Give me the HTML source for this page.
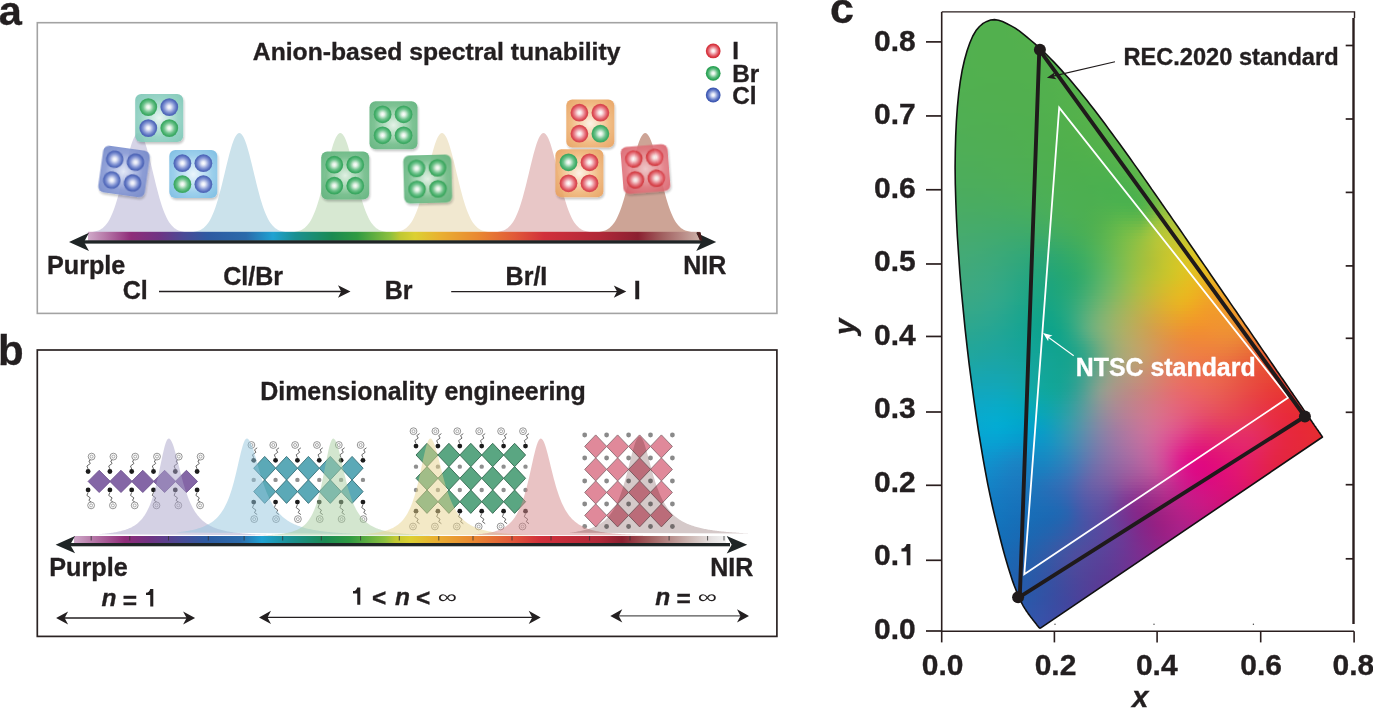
<!DOCTYPE html><html><head><meta charset="utf-8"><style>html,body{margin:0;padding:0;background:#fff;}body{width:1373px;height:708px;overflow:hidden;position:relative;}svg{position:absolute;left:0;top:0;display:block;}#cie{width:400px;height:630px;position:relative;background:#4cae5a}#cie i{position:absolute;left:0;width:400px;height:3px;display:block}</style></head><body><svg width="1373" height="708" viewBox="0 0 1373 708" font-family='"Liberation Sans", sans-serif'><defs><radialGradient id="sR" cx="50%" cy="50%" r="50%"><stop offset="0" stop-color="#ffffff"/><stop offset="0.2" stop-color="#fae4e5"/><stop offset="0.58" stop-color="#e77581"/><stop offset="0.85" stop-color="#d8363f"/><stop offset="1" stop-color="#d2303b"/></radialGradient><radialGradient id="sG" cx="50%" cy="50%" r="50%"><stop offset="0" stop-color="#ffffff"/><stop offset="0.2" stop-color="#e1f2e5"/><stop offset="0.58" stop-color="#62be83"/><stop offset="0.85" stop-color="#2ca457"/><stop offset="1" stop-color="#289c50"/></radialGradient><radialGradient id="sB" cx="50%" cy="50%" r="50%"><stop offset="0" stop-color="#ffffff"/><stop offset="0.2" stop-color="#e5e9f7"/><stop offset="0.58" stop-color="#7c8fd2"/><stop offset="0.85" stop-color="#435db6"/><stop offset="1" stop-color="#3a54ad"/></radialGradient><radialGradient id="qteal" cx="50%" cy="50%" r="72%"><stop offset="0" stop-color="#e6f5f1"/><stop offset="0.55" stop-color="#8fd1c2"/><stop offset="1" stop-color="#76c3b2"/></radialGradient><radialGradient id="qblue" cx="50%" cy="50%" r="72%"><stop offset="0" stop-color="#e2e8f7"/><stop offset="0.55" stop-color="#8698d4"/><stop offset="1" stop-color="#6c82c6"/></radialGradient><radialGradient id="qlblue" cx="50%" cy="50%" r="72%"><stop offset="0" stop-color="#eaf5fc"/><stop offset="0.55" stop-color="#92cbea"/><stop offset="1" stop-color="#6fb6e0"/></radialGradient><radialGradient id="qgreen" cx="50%" cy="50%" r="72%"><stop offset="0" stop-color="#e2f2e6"/><stop offset="0.55" stop-color="#72bd8a"/><stop offset="1" stop-color="#55ad74"/></radialGradient><radialGradient id="qorange" cx="50%" cy="50%" r="72%"><stop offset="0" stop-color="#fdf1e3"/><stop offset="0.55" stop-color="#f0b678"/><stop offset="1" stop-color="#e59a55"/></radialGradient><radialGradient id="qred" cx="50%" cy="50%" r="72%"><stop offset="0" stop-color="#f4cdd0"/><stop offset="0.55" stop-color="#e27880"/><stop offset="1" stop-color="#d65560"/></radialGradient><filter id="sh" x="-20%" y="-20%" width="150%" height="150%"><feGaussianBlur in="SourceAlpha" stdDeviation="1.2"/><feOffset dx="1" dy="1.5"/><feComponentTransfer><feFuncA type="linear" slope="0.25"/></feComponentTransfer><feMerge><feMergeNode/><feMergeNode in="SourceGraphic"/></feMerge></filter><linearGradient id="barA" gradientUnits="userSpaceOnUse" x1="88" y1="0" x2="700" y2="0"><stop offset="0.0000" stop-color="#cfa9c9"/><stop offset="0.0278" stop-color="#b77aa9"/><stop offset="0.0703" stop-color="#8f2c79"/><stop offset="0.1160" stop-color="#6f3383"/><stop offset="0.1569" stop-color="#4a4a96"/><stop offset="0.1961" stop-color="#2d5aa1"/><stop offset="0.2582" stop-color="#2b6aaa"/><stop offset="0.3023" stop-color="#1fa2d2"/><stop offset="0.3382" stop-color="#1a9092"/><stop offset="0.3987" stop-color="#1a8a52"/><stop offset="0.4395" stop-color="#2f9a42"/><stop offset="0.4935" stop-color="#8cc03f"/><stop offset="0.5098" stop-color="#c0c832"/><stop offset="0.5343" stop-color="#dcd032"/><stop offset="0.5752" stop-color="#e9b031"/><stop offset="0.6356" stop-color="#e98931"/><stop offset="0.6961" stop-color="#e15a39"/><stop offset="0.7451" stop-color="#d1303b"/><stop offset="0.8366" stop-color="#b02838"/><stop offset="0.8987" stop-color="#8b2030"/><stop offset="0.9379" stop-color="#a15f5f"/><stop offset="1.0000" stop-color="#cdb0a8"/></linearGradient><linearGradient id="barB" gradientUnits="userSpaceOnUse" x1="74" y1="0" x2="726" y2="0"><stop offset="0.0000" stop-color="#cfa9c9"/><stop offset="0.0276" stop-color="#b77aa9"/><stop offset="0.0782" stop-color="#8f2c79"/><stop offset="0.1166" stop-color="#6f3383"/><stop offset="0.1626" stop-color="#4a4a96"/><stop offset="0.2025" stop-color="#2d5aa1"/><stop offset="0.2546" stop-color="#2b6aaa"/><stop offset="0.2883" stop-color="#1fa2d2"/><stop offset="0.3313" stop-color="#1a9092"/><stop offset="0.3850" stop-color="#1a8a52"/><stop offset="0.4233" stop-color="#2f9a42"/><stop offset="0.4770" stop-color="#8cc03f"/><stop offset="0.4923" stop-color="#c0c832"/><stop offset="0.5153" stop-color="#dcd032"/><stop offset="0.5537" stop-color="#e9b031"/><stop offset="0.6104" stop-color="#e98931"/><stop offset="0.6687" stop-color="#e15a39"/><stop offset="0.7147" stop-color="#d1303b"/><stop offset="0.8067" stop-color="#b02838"/><stop offset="0.8405" stop-color="#8b2030"/><stop offset="0.8834" stop-color="#a15f5f"/><stop offset="0.9448" stop-color="#cdb8b4"/><stop offset="0.9785" stop-color="#e6e2e2"/><stop offset="1.0000" stop-color="#f2f2f2"/></linearGradient><clipPath id="lc"><path d="M1040.8,627.9 L1040.6,628.0 L1040.5,628.0 L1040.2,628.1 L1040.0,628.1 L1039.8,628.1 L1039.6,628.0 L1039.4,627.9 L1039.2,627.7 L1039.0,627.5 L1038.9,627.3 L1038.7,627.2 L1038.6,627.0 L1038.5,626.9 L1038.3,626.7 L1038.2,626.5 L1038.0,626.3 L1037.8,626.1 L1037.6,625.8 L1037.4,625.6 L1037.2,625.3 L1036.9,625.0 L1036.7,624.7 L1036.5,624.3 L1036.2,624.0 L1035.9,623.6 L1035.6,623.2 L1035.3,622.8 L1035.0,622.4 L1034.6,622.0 L1034.3,621.5 L1033.8,621.0 L1033.4,620.4 L1033.0,619.9 L1032.5,619.3 L1032.0,618.6 L1031.5,618.0 L1030.9,617.3 L1030.4,616.6 L1029.8,615.8 L1029.2,614.9 L1028.5,614.1 L1027.9,613.1 L1027.2,612.1 L1026.4,611.0 L1025.7,609.8 L1024.9,608.6 L1024.1,607.3 L1023.2,605.8 L1022.3,604.2 L1021.4,602.3 L1020.4,600.2 L1019.3,597.9 L1018.1,595.3 L1016.9,592.4 L1015.7,589.2 L1014.3,585.7 L1012.9,581.9 L1011.5,577.7 L1010.0,573.1 L1008.4,567.9 L1006.7,562.3 L1004.9,556.1 L1003.1,549.5 L1001.2,542.2 L999.2,534.3 L997.1,525.6 L994.8,516.4 L992.5,506.5 L990.2,495.9 L987.8,484.4 L985.5,472.1 L983.1,458.9 L980.8,445.0 L978.4,430.5 L976.1,415.2 L973.8,399.1 L971.5,382.2 L969.2,364.7 L967.1,346.8 L965.1,328.9 L963.3,310.7 L961.5,292.1 L959.9,273.4 L958.6,254.8 L957.4,236.7 L956.5,218.9 L955.8,201.3 L955.3,184.0 L955.1,167.3 L955.3,151.3 L955.7,135.9 L956.4,121.0 L957.4,106.8 L958.7,93.5 L960.3,81.3 L962.2,70.2 L964.5,60.0 L967.1,50.8 L969.9,42.8 L972.8,36.0 L976.0,30.6 L979.5,26.5 L983.1,23.4 L986.8,21.4 L990.6,20.0 L994.5,19.6 L998.5,20.2 L1002.5,21.6 L1006.6,23.5 L1010.7,25.6 L1014.8,27.9 L1018.9,30.7 L1023.0,33.9 L1027.0,37.2 L1031.0,40.5 L1035.0,43.8 L1038.8,47.3 L1042.7,50.9 L1046.5,54.5 L1050.2,58.3 L1054.0,62.1 L1057.7,66.1 L1061.4,70.1 L1065.0,74.2 L1068.7,78.3 L1072.3,82.6 L1076.0,86.9 L1079.6,91.3 L1083.2,95.8 L1086.9,100.3 L1090.5,104.9 L1094.1,109.6 L1097.7,114.3 L1101.3,119.0 L1104.9,123.8 L1108.4,128.6 L1112.0,133.5 L1115.6,138.4 L1119.2,143.3 L1122.8,148.3 L1126.4,153.3 L1130.0,158.3 L1133.6,163.4 L1137.2,168.4 L1140.8,173.5 L1144.4,178.6 L1148.0,183.7 L1151.5,188.9 L1155.1,194.0 L1158.7,199.1 L1162.2,204.3 L1165.8,209.4 L1169.4,214.5 L1172.9,219.6 L1176.5,224.7 L1180.0,229.8 L1183.5,234.9 L1187.0,240.0 L1190.4,245.0 L1193.9,250.0 L1197.3,255.0 L1200.7,260.0 L1204.1,264.9 L1207.5,269.8 L1210.8,274.7 L1214.1,279.5 L1217.4,284.3 L1220.7,289.0 L1223.9,293.7 L1227.1,298.3 L1230.2,302.9 L1233.3,307.4 L1236.4,311.8 L1239.4,316.2 L1242.3,320.4 L1245.2,324.7 L1248.1,328.8 L1250.9,332.9 L1253.6,336.9 L1256.3,340.8 L1258.8,344.5 L1261.3,348.1 L1263.7,351.6 L1266.1,355.0 L1268.4,358.4 L1270.6,361.6 L1272.8,364.8 L1275.0,368.0 L1277.0,371.0 L1279.0,373.8 L1280.9,376.6 L1282.8,379.3 L1284.5,381.8 L1286.2,384.2 L1287.9,386.6 L1289.4,388.9 L1290.9,391.1 L1292.4,393.2 L1293.7,395.2 L1295.1,397.1 L1296.3,398.9 L1297.5,400.7 L1298.6,402.3 L1299.7,403.9 L1300.8,405.5 L1301.8,406.9 L1302.7,408.3 L1303.6,409.6 L1304.5,410.9 L1305.4,412.1 L1306.2,413.2 L1306.9,414.3 L1307.6,415.4 L1308.3,416.4 L1309.0,417.4 L1309.7,418.4 L1310.3,419.3 L1310.9,420.2 L1311.5,421.1 L1312.1,421.9 L1312.6,422.7 L1313.2,423.5 L1313.7,424.2 L1314.1,424.9 L1314.6,425.6 L1315.0,426.2 L1315.5,426.8 L1315.9,427.4 L1316.2,427.9 L1316.6,428.4 L1316.9,428.9 L1317.3,429.4 L1317.6,429.8 L1317.8,430.2 L1318.1,430.6 L1318.4,431.0 L1318.6,431.4 L1318.8,431.7 L1319.1,432.0 L1319.3,432.3 L1319.5,432.6 L1319.6,432.8 L1319.8,433.1 L1319.9,433.3 L1320.1,433.6 L1320.3,433.8 L1320.5,434.1 L1320.7,434.5 L1320.9,434.8 L1321.1,435.0 L1321.3,435.3 L1321.4,435.5 L1321.6,435.7 L1321.7,435.9 L1321.8,436.0 L1322.0,436.3 L1322.1,436.5 L1322.3,436.7 L1322.4,436.9 L1322.5,437.0Z"/></clipPath></defs><rect x="37.3" y="22.7" width="739.6" height="290.7" fill="none" stroke="#a3a3a3" stroke-width="1.6"/><text x="-1.2" y="25.3" font-size="41.5" font-weight="bold" fill="#231f20" text-anchor="start" stroke="#231f20" stroke-width="0.35">a</text><text x="252.8" y="60" font-size="24.7" font-weight="bold" fill="#231f20" text-anchor="start" stroke="#231f20" stroke-width="0.35">Anion-based spectral tunability</text><circle cx="713.2" cy="50.9" r="7.4" fill="url(#sR)"/><text x="732.2" y="58.8" font-size="24.3" font-weight="bold" fill="#231f20" text-anchor="start" stroke="#231f20" stroke-width="0.35">I</text><circle cx="713.2" cy="73.3" r="7.4" fill="url(#sG)"/><text x="732.2" y="81.8" font-size="24.3" font-weight="bold" fill="#231f20" text-anchor="start" stroke="#231f20" stroke-width="0.35">Br</text><circle cx="713.2" cy="95" r="7.4" fill="url(#sB)"/><text x="732.2" y="104" font-size="24.3" font-weight="bold" fill="#231f20" text-anchor="start" stroke="#231f20" stroke-width="0.35">Cl</text><polygon points="78.5,232.48 79.5,232.48 80.5,232.47 81.5,232.46 82.5,232.45 83.5,232.43 84.5,232.41 85.5,232.39 86.5,232.35 87.5,232.31 88.5,232.26 89.5,232.2 90.5,232.12 91.5,232.02 92.5,231.89 93.5,231.75 94.5,231.57 95.5,231.35 96.5,231.09 97.5,230.77 98.5,230.4 99.5,229.96 100.5,229.44 101.5,228.83 102.5,228.13 103.5,227.31 104.5,226.37 105.5,225.3 106.5,224.08 107.5,222.69 108.5,221.14 109.5,219.4 110.5,217.47 111.5,215.34 112.5,213.01 113.5,210.45 114.5,207.69 115.5,204.71 116.5,201.53 117.5,198.14 118.5,194.57 119.5,190.83 120.5,186.95 121.5,182.93 122.5,178.83 123.5,174.66 124.5,170.47 125.5,166.3 126.5,162.19 127.5,158.18 128.5,154.32 129.5,150.65 130.5,147.23 131.5,144.09 132.5,141.27 133.5,138.82 134.5,136.77 135.5,135.14 136.5,133.96 137.5,133.24 138.5,133 139.5,133.24 140.5,133.96 141.5,135.14 142.5,136.77 143.5,138.82 144.5,141.27 145.5,144.09 146.5,147.23 147.5,150.65 148.5,154.32 149.5,158.18 150.5,162.19 151.5,166.3 152.5,170.47 153.5,174.66 154.5,178.83 155.5,182.93 156.5,186.95 157.5,190.83 158.5,194.57 159.5,198.14 160.5,201.53 161.5,204.71 162.5,207.69 163.5,210.45 164.5,213.01 165.5,215.34 166.5,217.47 167.5,219.4 168.5,221.14 169.5,222.69 170.5,224.08 171.5,225.3 172.5,226.37 173.5,227.31 174.5,228.13 175.5,228.83 176.5,229.44 177.5,229.96 178.5,230.4 179.5,230.77 180.5,231.09 181.5,231.35 182.5,231.57 183.5,231.75 184.5,231.89 185.5,232.02 186.5,232.12 187.5,232.2 188.5,232.26 189.5,232.31 190.5,232.35 191.5,232.39 192.5,232.41 193.5,232.43 194.5,232.45 195.5,232.46 196.5,232.47 197.5,232.48 198.5,232.48" fill="#d6d4e7"/><polygon points="179.3,232.48 180.3,232.48 181.3,232.47 182.3,232.46 183.3,232.45 184.3,232.43 185.3,232.41 186.3,232.39 187.3,232.35 188.3,232.31 189.3,232.26 190.3,232.2 191.3,232.12 192.3,232.02 193.3,231.89 194.3,231.75 195.3,231.57 196.3,231.35 197.3,231.09 198.3,230.77 199.3,230.4 200.3,229.96 201.3,229.44 202.3,228.83 203.3,228.13 204.3,227.31 205.3,226.37 206.3,225.3 207.3,224.08 208.3,222.69 209.3,221.14 210.3,219.4 211.3,217.47 212.3,215.34 213.3,213.01 214.3,210.45 215.3,207.69 216.3,204.71 217.3,201.53 218.3,198.14 219.3,194.57 220.3,190.83 221.3,186.95 222.3,182.93 223.3,178.83 224.3,174.66 225.3,170.47 226.3,166.3 227.3,162.19 228.3,158.18 229.3,154.32 230.3,150.65 231.3,147.23 232.3,144.09 233.3,141.27 234.3,138.82 235.3,136.77 236.3,135.14 237.3,133.96 238.3,133.24 239.3,133 240.3,133.24 241.3,133.96 242.3,135.14 243.3,136.77 244.3,138.82 245.3,141.27 246.3,144.09 247.3,147.23 248.3,150.65 249.3,154.32 250.3,158.18 251.3,162.19 252.3,166.3 253.3,170.47 254.3,174.66 255.3,178.83 256.3,182.93 257.3,186.95 258.3,190.83 259.3,194.57 260.3,198.14 261.3,201.53 262.3,204.71 263.3,207.69 264.3,210.45 265.3,213.01 266.3,215.34 267.3,217.47 268.3,219.4 269.3,221.14 270.3,222.69 271.3,224.08 272.3,225.3 273.3,226.37 274.3,227.31 275.3,228.13 276.3,228.83 277.3,229.44 278.3,229.96 279.3,230.4 280.3,230.77 281.3,231.09 282.3,231.35 283.3,231.57 284.3,231.75 285.3,231.89 286.3,232.02 287.3,232.12 288.3,232.2 289.3,232.26 290.3,232.31 291.3,232.35 292.3,232.39 293.3,232.41 294.3,232.43 295.3,232.45 296.3,232.46 297.3,232.47 298.3,232.48 299.3,232.48" fill="#cbe2eb"/><polygon points="280.3,232.48 281.3,232.48 282.3,232.47 283.3,232.46 284.3,232.45 285.3,232.43 286.3,232.41 287.3,232.39 288.3,232.35 289.3,232.31 290.3,232.26 291.3,232.2 292.3,232.12 293.3,232.02 294.3,231.89 295.3,231.75 296.3,231.57 297.3,231.35 298.3,231.09 299.3,230.77 300.3,230.4 301.3,229.96 302.3,229.44 303.3,228.83 304.3,228.13 305.3,227.31 306.3,226.37 307.3,225.3 308.3,224.08 309.3,222.69 310.3,221.14 311.3,219.4 312.3,217.47 313.3,215.34 314.3,213.01 315.3,210.45 316.3,207.69 317.3,204.71 318.3,201.53 319.3,198.14 320.3,194.57 321.3,190.83 322.3,186.95 323.3,182.93 324.3,178.83 325.3,174.66 326.3,170.47 327.3,166.3 328.3,162.19 329.3,158.18 330.3,154.32 331.3,150.65 332.3,147.23 333.3,144.09 334.3,141.27 335.3,138.82 336.3,136.77 337.3,135.14 338.3,133.96 339.3,133.24 340.3,133 341.3,133.24 342.3,133.96 343.3,135.14 344.3,136.77 345.3,138.82 346.3,141.27 347.3,144.09 348.3,147.23 349.3,150.65 350.3,154.32 351.3,158.18 352.3,162.19 353.3,166.3 354.3,170.47 355.3,174.66 356.3,178.83 357.3,182.93 358.3,186.95 359.3,190.83 360.3,194.57 361.3,198.14 362.3,201.53 363.3,204.71 364.3,207.69 365.3,210.45 366.3,213.01 367.3,215.34 368.3,217.47 369.3,219.4 370.3,221.14 371.3,222.69 372.3,224.08 373.3,225.3 374.3,226.37 375.3,227.31 376.3,228.13 377.3,228.83 378.3,229.44 379.3,229.96 380.3,230.4 381.3,230.77 382.3,231.09 383.3,231.35 384.3,231.57 385.3,231.75 386.3,231.89 387.3,232.02 388.3,232.12 389.3,232.2 390.3,232.26 391.3,232.31 392.3,232.35 393.3,232.39 394.3,232.41 395.3,232.43 396.3,232.45 397.3,232.46 398.3,232.47 399.3,232.48 400.3,232.48" fill="#d7e8d2"/><polygon points="382,232.48 383,232.48 384,232.47 385,232.46 386,232.45 387,232.43 388,232.41 389,232.39 390,232.35 391,232.31 392,232.26 393,232.2 394,232.12 395,232.02 396,231.89 397,231.75 398,231.57 399,231.35 400,231.09 401,230.77 402,230.4 403,229.96 404,229.44 405,228.83 406,228.13 407,227.31 408,226.37 409,225.3 410,224.08 411,222.69 412,221.14 413,219.4 414,217.47 415,215.34 416,213.01 417,210.45 418,207.69 419,204.71 420,201.53 421,198.14 422,194.57 423,190.83 424,186.95 425,182.93 426,178.83 427,174.66 428,170.47 429,166.3 430,162.19 431,158.18 432,154.32 433,150.65 434,147.23 435,144.09 436,141.27 437,138.82 438,136.77 439,135.14 440,133.96 441,133.24 442,133 443,133.24 444,133.96 445,135.14 446,136.77 447,138.82 448,141.27 449,144.09 450,147.23 451,150.65 452,154.32 453,158.18 454,162.19 455,166.3 456,170.47 457,174.66 458,178.83 459,182.93 460,186.95 461,190.83 462,194.57 463,198.14 464,201.53 465,204.71 466,207.69 467,210.45 468,213.01 469,215.34 470,217.47 471,219.4 472,221.14 473,222.69 474,224.08 475,225.3 476,226.37 477,227.31 478,228.13 479,228.83 480,229.44 481,229.96 482,230.4 483,230.77 484,231.09 485,231.35 486,231.57 487,231.75 488,231.89 489,232.02 490,232.12 491,232.2 492,232.26 493,232.31 494,232.35 495,232.39 496,232.41 497,232.43 498,232.45 499,232.46 500,232.47 501,232.48 502,232.48" fill="#f1e8d0"/><polygon points="483.5,232.48 484.5,232.48 485.5,232.47 486.5,232.46 487.5,232.45 488.5,232.43 489.5,232.41 490.5,232.39 491.5,232.35 492.5,232.31 493.5,232.26 494.5,232.2 495.5,232.12 496.5,232.02 497.5,231.89 498.5,231.75 499.5,231.57 500.5,231.35 501.5,231.09 502.5,230.77 503.5,230.4 504.5,229.96 505.5,229.44 506.5,228.83 507.5,228.13 508.5,227.31 509.5,226.37 510.5,225.3 511.5,224.08 512.5,222.69 513.5,221.14 514.5,219.4 515.5,217.47 516.5,215.34 517.5,213.01 518.5,210.45 519.5,207.69 520.5,204.71 521.5,201.53 522.5,198.14 523.5,194.57 524.5,190.83 525.5,186.95 526.5,182.93 527.5,178.83 528.5,174.66 529.5,170.47 530.5,166.3 531.5,162.19 532.5,158.18 533.5,154.32 534.5,150.65 535.5,147.23 536.5,144.09 537.5,141.27 538.5,138.82 539.5,136.77 540.5,135.14 541.5,133.96 542.5,133.24 543.5,133 544.5,133.24 545.5,133.96 546.5,135.14 547.5,136.77 548.5,138.82 549.5,141.27 550.5,144.09 551.5,147.23 552.5,150.65 553.5,154.32 554.5,158.18 555.5,162.19 556.5,166.3 557.5,170.47 558.5,174.66 559.5,178.83 560.5,182.93 561.5,186.95 562.5,190.83 563.5,194.57 564.5,198.14 565.5,201.53 566.5,204.71 567.5,207.69 568.5,210.45 569.5,213.01 570.5,215.34 571.5,217.47 572.5,219.4 573.5,221.14 574.5,222.69 575.5,224.08 576.5,225.3 577.5,226.37 578.5,227.31 579.5,228.13 580.5,228.83 581.5,229.44 582.5,229.96 583.5,230.4 584.5,230.77 585.5,231.09 586.5,231.35 587.5,231.57 588.5,231.75 589.5,231.89 590.5,232.02 591.5,232.12 592.5,232.2 593.5,232.26 594.5,232.31 595.5,232.35 596.5,232.39 597.5,232.41 598.5,232.43 599.5,232.45 600.5,232.46 601.5,232.47 602.5,232.48 603.5,232.48" fill="#e8c7c7"/><polygon points="585.2,232.48 586.2,232.48 587.2,232.47 588.2,232.46 589.2,232.45 590.2,232.43 591.2,232.41 592.2,232.39 593.2,232.35 594.2,232.31 595.2,232.26 596.2,232.2 597.2,232.12 598.2,232.02 599.2,231.89 600.2,231.75 601.2,231.57 602.2,231.35 603.2,231.09 604.2,230.77 605.2,230.4 606.2,229.96 607.2,229.44 608.2,228.83 609.2,228.13 610.2,227.31 611.2,226.37 612.2,225.3 613.2,224.08 614.2,222.69 615.2,221.14 616.2,219.4 617.2,217.47 618.2,215.34 619.2,213.01 620.2,210.45 621.2,207.69 622.2,204.71 623.2,201.53 624.2,198.14 625.2,194.57 626.2,190.83 627.2,186.95 628.2,182.93 629.2,178.83 630.2,174.66 631.2,170.47 632.2,166.3 633.2,162.19 634.2,158.18 635.2,154.32 636.2,150.65 637.2,147.23 638.2,144.09 639.2,141.27 640.2,138.82 641.2,136.77 642.2,135.14 643.2,133.96 644.2,133.24 645.2,133 646.2,133.24 647.2,133.96 648.2,135.14 649.2,136.77 650.2,138.82 651.2,141.27 652.2,144.09 653.2,147.23 654.2,150.65 655.2,154.32 656.2,158.18 657.2,162.19 658.2,166.3 659.2,170.47 660.2,174.66 661.2,178.83 662.2,182.93 663.2,186.95 664.2,190.83 665.2,194.57 666.2,198.14 667.2,201.53 668.2,204.71 669.2,207.69 670.2,210.45 671.2,213.01 672.2,215.34 673.2,217.47 674.2,219.4 675.2,221.14 676.2,222.69 677.2,224.08 678.2,225.3 679.2,226.37 680.2,227.31 681.2,228.13 682.2,228.83 683.2,229.44 684.2,229.96 685.2,230.4 686.2,230.77 687.2,231.09 688.2,231.35 689.2,231.57 690.2,231.75 691.2,231.89 692.2,232.02 693.2,232.12 694.2,232.2 695.2,232.26 696.2,232.31 697.2,232.35 698.2,232.39 699.2,232.41 700.2,232.43 701.2,232.45 702.2,232.46 703.2,232.47 704.2,232.48 705.2,232.48" fill="#cda496"/><g opacity="0.9" filter="url(#sh)"><rect x="135.2" y="94" width="48" height="48" rx="6" fill="url(#qteal)"/><circle cx="148.3" cy="107.1" r="8.9" fill="url(#sG)"/><circle cx="169.3" cy="107.1" r="8.9" fill="url(#sB)"/><circle cx="148.3" cy="128.1" r="8.9" fill="url(#sB)"/><circle cx="169.3" cy="128.1" r="8.9" fill="url(#sG)"/></g><g transform="rotate(8 124.0 171.6)" opacity="0.9" filter="url(#sh)"><rect x="100.5" y="148.1" width="47" height="47" rx="6" fill="url(#qblue)"/><circle cx="113.1" cy="160.7" r="8.9" fill="url(#sB)"/><circle cx="134.1" cy="160.7" r="8.9" fill="url(#sB)"/><circle cx="113.1" cy="181.7" r="8.9" fill="url(#sB)"/><circle cx="134.1" cy="181.7" r="8.9" fill="url(#sB)"/></g><g opacity="0.9" filter="url(#sh)"><rect x="169.3" y="150.1" width="48" height="48" rx="6" fill="url(#qlblue)"/><circle cx="182.4" cy="163.2" r="8.9" fill="url(#sB)"/><circle cx="203.4" cy="163.2" r="8.9" fill="url(#sB)"/><circle cx="182.4" cy="184.2" r="8.9" fill="url(#sG)"/><circle cx="203.4" cy="184.2" r="8.9" fill="url(#sB)"/></g><g opacity="0.9" filter="url(#sh)"><rect x="321.2" y="151.6" width="48" height="48" rx="6" fill="url(#qgreen)"/><circle cx="334.3" cy="164.7" r="8.9" fill="url(#sG)"/><circle cx="355.3" cy="164.7" r="8.9" fill="url(#sG)"/><circle cx="334.3" cy="185.7" r="8.9" fill="url(#sG)"/><circle cx="355.3" cy="185.7" r="8.9" fill="url(#sG)"/></g><g opacity="0.9" filter="url(#sh)"><rect x="369.5" y="101.2" width="48" height="48" rx="6" fill="url(#qgreen)"/><circle cx="382.6" cy="114.3" r="8.9" fill="url(#sG)"/><circle cx="403.6" cy="114.3" r="8.9" fill="url(#sG)"/><circle cx="382.6" cy="135.3" r="8.9" fill="url(#sG)"/><circle cx="403.6" cy="135.3" r="8.9" fill="url(#sG)"/></g><g transform="rotate(-1.5 427.7 179.0)" opacity="0.9" filter="url(#sh)"><rect x="403.7" y="155" width="48" height="48" rx="6" fill="url(#qgreen)"/><circle cx="416.8" cy="168.1" r="8.9" fill="url(#sG)"/><circle cx="437.8" cy="168.1" r="8.9" fill="url(#sG)"/><circle cx="416.8" cy="189.1" r="8.9" fill="url(#sG)"/><circle cx="437.8" cy="189.1" r="8.9" fill="url(#sG)"/></g><g opacity="0.9" filter="url(#sh)"><rect x="566.3" y="99.6" width="48" height="48" rx="6" fill="url(#qorange)"/><circle cx="579.4" cy="112.7" r="8.9" fill="url(#sR)"/><circle cx="600.4" cy="112.7" r="8.9" fill="url(#sR)"/><circle cx="579.4" cy="133.7" r="8.9" fill="url(#sR)"/><circle cx="600.4" cy="133.7" r="8.9" fill="url(#sG)"/></g><g opacity="0.9" filter="url(#sh)"><rect x="555.4" y="149.2" width="48" height="48" rx="6" fill="url(#qorange)"/><circle cx="568.5" cy="162.3" r="8.9" fill="url(#sG)"/><circle cx="589.5" cy="162.3" r="8.9" fill="url(#sR)"/><circle cx="568.5" cy="183.3" r="8.9" fill="url(#sR)"/><circle cx="589.5" cy="183.3" r="8.9" fill="url(#sR)"/></g><g transform="rotate(-4.5 645.5 169.0)" opacity="0.88" filter="url(#sh)"><rect x="622" y="145.5" width="47" height="47" rx="6" fill="url(#qred)"/><circle cx="634.6" cy="158.1" r="8.9" fill="url(#sR)"/><circle cx="655.6" cy="158.1" r="8.9" fill="url(#sR)"/><circle cx="634.6" cy="179.1" r="8.9" fill="url(#sR)"/><circle cx="655.6" cy="179.1" r="8.9" fill="url(#sR)"/></g><rect x="88" y="231.8" width="612" height="9" fill="url(#barA)"/><rect x="82" y="240.3" width="620" height="3.3" fill="#1f2526"/><path d="M69,241.9 L89,232.7 L84,241.9 L89,251.1Z" fill="#1f2526"/><path d="M716.2,241.9 L696.2,251.1 L701.2,241.9 L696.2,232.7Z" fill="#1f2526"/><path d="M696.6,232 L700.6,232.3 L702.2,240.4 L699.8,240.4Z" fill="#4a1c1c"/><text x="47.0" y="274.3" font-size="25.2" font-weight="bold" fill="#231f20" text-anchor="start" stroke="#231f20" stroke-width="0.35">Purple</text><text x="683.2" y="274.1" font-size="25.0" font-weight="bold" fill="#231f20" text-anchor="start" stroke="#231f20" stroke-width="0.35">NIR</text><text x="122.8" y="298.7" font-size="25.0" font-weight="bold" fill="#231f20" text-anchor="start" stroke="#231f20" stroke-width="0.35">Cl</text><text x="223.3" y="285" font-size="25.0" font-weight="bold" fill="#231f20" text-anchor="start" stroke="#231f20" stroke-width="0.35">Cl/Br</text><text x="384.8" y="298.5" font-size="25.0" font-weight="bold" fill="#231f20" text-anchor="start" stroke="#231f20" stroke-width="0.35">Br</text><text x="505.6" y="284.5" font-size="25.0" font-weight="bold" fill="#231f20" text-anchor="start" stroke="#231f20" stroke-width="0.35">Br/I</text><text x="633.7" y="298.6" font-size="25.0" font-weight="bold" fill="#231f20" text-anchor="start" stroke="#231f20" stroke-width="0.35">I</text><line x1="159" y1="291.5" x2="342" y2="291.5" stroke="#231f20" stroke-width="1.3"/><path d="M350.5,291.5 L338,297.7 L341.2,291.5 L338,285.3Z" fill="#231f20"/><line x1="451.2" y1="291.6" x2="618" y2="291.6" stroke="#231f20" stroke-width="1.3"/><path d="M626.3,291.6 L613.8,297.8 L617,291.6 L613.8,285.4Z" fill="#231f20"/><rect x="37.3" y="350" width="739.6" height="286.4" fill="none" stroke="#2b2323" stroke-width="1.7"/><text x="-2.0" y="364.6" font-size="42" font-weight="bold" fill="#231f20" text-anchor="start" stroke="#231f20" stroke-width="0.35">b</text><text x="260.2" y="400.1" font-size="24.95" font-weight="bold" fill="#231f20" text-anchor="start" stroke="#231f20" stroke-width="0.35">Dimensionality engineering</text><path d="M88.1,481.4 L99.2,470.3 L110.3,481.4 L99.2,492.5Z" fill="#8466a6" stroke="#6e5490" stroke-width="0.9"/><path d="M109.9,481.4 L121,470.3 L132.1,481.4 L121,492.5Z" fill="#8466a6" stroke="#6e5490" stroke-width="0.9"/><path d="M131.7,481.4 L142.8,470.3 L153.9,481.4 L142.8,492.5Z" fill="#8466a6" stroke="#6e5490" stroke-width="0.9"/><path d="M153.5,481.4 L164.6,470.3 L175.7,481.4 L164.6,492.5Z" fill="#8466a6" stroke="#6e5490" stroke-width="0.9"/><path d="M175.3,481.4 L186.4,470.3 L197.5,481.4 L186.4,492.5Z" fill="#8466a6" stroke="#6e5490" stroke-width="0.9"/><circle cx="88.1" cy="471.5" r="2.4" fill="#1c1c1c"/><circle cx="88.1" cy="489.9" r="2.4" fill="#1c1c1c"/><path d="M88.1,469 L86.9,466 L90.3,463.5 L88.9,461 L91.6,459" fill="none" stroke="#444" stroke-width="0.8"/><path d="M88.1,492.4 L86.9,495.4 L90.3,497.9 L88.9,500.4 L91.6,502.4" fill="none" stroke="#444" stroke-width="0.8"/><circle cx="91.6" cy="456.6" r="3.4" fill="#fff" stroke="#7a7a7a" stroke-width="0.8"/><circle cx="91.6" cy="456.6" r="1.5" fill="none" stroke="#8a8a8a" stroke-width="0.7"/><circle cx="91.1" cy="505.4" r="3.4" fill="#fff" stroke="#7a7a7a" stroke-width="0.8"/><circle cx="91.1" cy="505.4" r="1.5" fill="none" stroke="#8a8a8a" stroke-width="0.7"/><circle cx="109.9" cy="471.5" r="2.4" fill="#1c1c1c"/><circle cx="109.9" cy="489.9" r="2.4" fill="#1c1c1c"/><path d="M109.9,469 L108.7,466 L112.1,463.5 L110.7,461 L113.4,459" fill="none" stroke="#444" stroke-width="0.8"/><path d="M109.9,492.4 L108.7,495.4 L112.1,497.9 L110.7,500.4 L113.4,502.4" fill="none" stroke="#444" stroke-width="0.8"/><circle cx="113.4" cy="456.6" r="3.4" fill="#fff" stroke="#7a7a7a" stroke-width="0.8"/><circle cx="113.4" cy="456.6" r="1.5" fill="none" stroke="#8a8a8a" stroke-width="0.7"/><circle cx="112.9" cy="505.4" r="3.4" fill="#fff" stroke="#7a7a7a" stroke-width="0.8"/><circle cx="112.9" cy="505.4" r="1.5" fill="none" stroke="#8a8a8a" stroke-width="0.7"/><circle cx="131.7" cy="471.5" r="2.4" fill="#1c1c1c"/><circle cx="131.7" cy="489.9" r="2.4" fill="#1c1c1c"/><path d="M131.7,469 L130.5,466 L133.9,463.5 L132.5,461 L135.2,459" fill="none" stroke="#444" stroke-width="0.8"/><path d="M131.7,492.4 L130.5,495.4 L133.9,497.9 L132.5,500.4 L135.2,502.4" fill="none" stroke="#444" stroke-width="0.8"/><circle cx="135.2" cy="456.6" r="3.4" fill="#fff" stroke="#7a7a7a" stroke-width="0.8"/><circle cx="135.2" cy="456.6" r="1.5" fill="none" stroke="#8a8a8a" stroke-width="0.7"/><circle cx="134.7" cy="505.4" r="3.4" fill="#fff" stroke="#7a7a7a" stroke-width="0.8"/><circle cx="134.7" cy="505.4" r="1.5" fill="none" stroke="#8a8a8a" stroke-width="0.7"/><circle cx="153.5" cy="471.5" r="2.4" fill="#1c1c1c"/><circle cx="153.5" cy="489.9" r="2.4" fill="#1c1c1c"/><path d="M153.5,469 L152.3,466 L155.7,463.5 L154.3,461 L157,459" fill="none" stroke="#444" stroke-width="0.8"/><path d="M153.5,492.4 L152.3,495.4 L155.7,497.9 L154.3,500.4 L157,502.4" fill="none" stroke="#444" stroke-width="0.8"/><circle cx="157" cy="456.6" r="3.4" fill="#fff" stroke="#7a7a7a" stroke-width="0.8"/><circle cx="157" cy="456.6" r="1.5" fill="none" stroke="#8a8a8a" stroke-width="0.7"/><circle cx="156.5" cy="505.4" r="3.4" fill="#fff" stroke="#7a7a7a" stroke-width="0.8"/><circle cx="156.5" cy="505.4" r="1.5" fill="none" stroke="#8a8a8a" stroke-width="0.7"/><circle cx="175.3" cy="471.5" r="2.4" fill="#1c1c1c"/><circle cx="175.3" cy="489.9" r="2.4" fill="#1c1c1c"/><path d="M175.3,469 L174.1,466 L177.5,463.5 L176.1,461 L178.8,459" fill="none" stroke="#444" stroke-width="0.8"/><path d="M175.3,492.4 L174.1,495.4 L177.5,497.9 L176.1,500.4 L178.8,502.4" fill="none" stroke="#444" stroke-width="0.8"/><circle cx="178.8" cy="456.6" r="3.4" fill="#fff" stroke="#7a7a7a" stroke-width="0.8"/><circle cx="178.8" cy="456.6" r="1.5" fill="none" stroke="#8a8a8a" stroke-width="0.7"/><circle cx="178.3" cy="505.4" r="3.4" fill="#fff" stroke="#7a7a7a" stroke-width="0.8"/><circle cx="178.3" cy="505.4" r="1.5" fill="none" stroke="#8a8a8a" stroke-width="0.7"/><circle cx="197.1" cy="471.5" r="2.4" fill="#1c1c1c"/><circle cx="197.1" cy="489.9" r="2.4" fill="#1c1c1c"/><path d="M197.1,469 L195.9,466 L199.3,463.5 L197.9,461 L200.6,459" fill="none" stroke="#444" stroke-width="0.8"/><path d="M197.1,492.4 L195.9,495.4 L199.3,497.9 L197.9,500.4 L200.6,502.4" fill="none" stroke="#444" stroke-width="0.8"/><circle cx="200.6" cy="456.6" r="3.4" fill="#fff" stroke="#7a7a7a" stroke-width="0.8"/><circle cx="200.6" cy="456.6" r="1.5" fill="none" stroke="#8a8a8a" stroke-width="0.7"/><circle cx="200.1" cy="505.4" r="3.4" fill="#fff" stroke="#7a7a7a" stroke-width="0.8"/><circle cx="200.1" cy="505.4" r="1.5" fill="none" stroke="#8a8a8a" stroke-width="0.7"/><path d="M253.7,468.2 L264.7,456.4 L275.7,468.2 L264.7,480Z" fill="#5ba9b7" stroke="#356f78" stroke-width="0.9"/><path d="M275.55,468.2 L286.55,456.4 L297.55,468.2 L286.55,480Z" fill="#5ba9b7" stroke="#356f78" stroke-width="0.9"/><path d="M297.4,468.2 L308.4,456.4 L319.4,468.2 L308.4,480Z" fill="#5ba9b7" stroke="#356f78" stroke-width="0.9"/><path d="M319.25,468.2 L330.25,456.4 L341.25,468.2 L330.25,480Z" fill="#5ba9b7" stroke="#356f78" stroke-width="0.9"/><path d="M341.1,468.2 L352.1,456.4 L363.1,468.2 L352.1,480Z" fill="#5ba9b7" stroke="#356f78" stroke-width="0.9"/><path d="M253.7,491.6 L264.7,479.8 L275.7,491.6 L264.7,503.4Z" fill="#5ba9b7" stroke="#356f78" stroke-width="0.9"/><path d="M275.55,491.6 L286.55,479.8 L297.55,491.6 L286.55,503.4Z" fill="#5ba9b7" stroke="#356f78" stroke-width="0.9"/><path d="M297.4,491.6 L308.4,479.8 L319.4,491.6 L308.4,503.4Z" fill="#5ba9b7" stroke="#356f78" stroke-width="0.9"/><path d="M319.25,491.6 L330.25,479.8 L341.25,491.6 L330.25,503.4Z" fill="#5ba9b7" stroke="#356f78" stroke-width="0.9"/><path d="M341.1,491.6 L352.1,479.8 L363.1,491.6 L352.1,503.4Z" fill="#5ba9b7" stroke="#356f78" stroke-width="0.9"/><circle cx="253.7" cy="479.9" r="2.2" fill="#8f8f8f"/><circle cx="275.55" cy="479.9" r="2.2" fill="#8f8f8f"/><circle cx="297.4" cy="479.9" r="2.2" fill="#8f8f8f"/><circle cx="319.25" cy="479.9" r="2.2" fill="#8f8f8f"/><circle cx="341.1" cy="479.9" r="2.2" fill="#8f8f8f"/><circle cx="362.95" cy="479.9" r="2.2" fill="#8f8f8f"/><circle cx="253.7" cy="460.3" r="2.4" fill="#1c1c1c"/><circle cx="253.7" cy="502.1" r="2.4" fill="#1c1c1c"/><path d="M253.7,457.8 L252.5,454.8 L255.9,452.3 L254.5,449.8 L257.2,447.8" fill="none" stroke="#444" stroke-width="0.8"/><path d="M253.7,504.6 L252.5,507.6 L255.9,510.1 L254.5,512.6 L257.2,514.6" fill="none" stroke="#444" stroke-width="0.8"/><circle cx="251.4" cy="445" r="3.4" fill="#fff" stroke="#7a7a7a" stroke-width="0.8"/><circle cx="251.4" cy="445" r="1.5" fill="none" stroke="#8a8a8a" stroke-width="0.7"/><circle cx="254.2" cy="519.1" r="3.4" fill="#fff" stroke="#7a7a7a" stroke-width="0.8"/><circle cx="254.2" cy="519.1" r="1.5" fill="none" stroke="#8a8a8a" stroke-width="0.7"/><circle cx="275.55" cy="460.3" r="2.4" fill="#1c1c1c"/><circle cx="275.55" cy="502.1" r="2.4" fill="#1c1c1c"/><path d="M275.55,457.8 L274.35,454.8 L277.75,452.3 L276.35,449.8 L279.05,447.8" fill="none" stroke="#444" stroke-width="0.8"/><path d="M275.55,504.6 L274.35,507.6 L277.75,510.1 L276.35,512.6 L279.05,514.6" fill="none" stroke="#444" stroke-width="0.8"/><circle cx="273.25" cy="445" r="3.4" fill="#fff" stroke="#7a7a7a" stroke-width="0.8"/><circle cx="273.25" cy="445" r="1.5" fill="none" stroke="#8a8a8a" stroke-width="0.7"/><circle cx="276.05" cy="519.1" r="3.4" fill="#fff" stroke="#7a7a7a" stroke-width="0.8"/><circle cx="276.05" cy="519.1" r="1.5" fill="none" stroke="#8a8a8a" stroke-width="0.7"/><circle cx="297.4" cy="460.3" r="2.4" fill="#1c1c1c"/><circle cx="297.4" cy="502.1" r="2.4" fill="#1c1c1c"/><path d="M297.4,457.8 L296.2,454.8 L299.6,452.3 L298.2,449.8 L300.9,447.8" fill="none" stroke="#444" stroke-width="0.8"/><path d="M297.4,504.6 L296.2,507.6 L299.6,510.1 L298.2,512.6 L300.9,514.6" fill="none" stroke="#444" stroke-width="0.8"/><circle cx="295.1" cy="445" r="3.4" fill="#fff" stroke="#7a7a7a" stroke-width="0.8"/><circle cx="295.1" cy="445" r="1.5" fill="none" stroke="#8a8a8a" stroke-width="0.7"/><circle cx="297.9" cy="519.1" r="3.4" fill="#fff" stroke="#7a7a7a" stroke-width="0.8"/><circle cx="297.9" cy="519.1" r="1.5" fill="none" stroke="#8a8a8a" stroke-width="0.7"/><circle cx="319.25" cy="460.3" r="2.4" fill="#1c1c1c"/><circle cx="319.25" cy="502.1" r="2.4" fill="#1c1c1c"/><path d="M319.25,457.8 L318.05,454.8 L321.45,452.3 L320.05,449.8 L322.75,447.8" fill="none" stroke="#444" stroke-width="0.8"/><path d="M319.25,504.6 L318.05,507.6 L321.45,510.1 L320.05,512.6 L322.75,514.6" fill="none" stroke="#444" stroke-width="0.8"/><circle cx="316.95" cy="445" r="3.4" fill="#fff" stroke="#7a7a7a" stroke-width="0.8"/><circle cx="316.95" cy="445" r="1.5" fill="none" stroke="#8a8a8a" stroke-width="0.7"/><circle cx="319.75" cy="519.1" r="3.4" fill="#fff" stroke="#7a7a7a" stroke-width="0.8"/><circle cx="319.75" cy="519.1" r="1.5" fill="none" stroke="#8a8a8a" stroke-width="0.7"/><circle cx="341.1" cy="460.3" r="2.4" fill="#1c1c1c"/><circle cx="341.1" cy="502.1" r="2.4" fill="#1c1c1c"/><path d="M341.1,457.8 L339.9,454.8 L343.3,452.3 L341.9,449.8 L344.6,447.8" fill="none" stroke="#444" stroke-width="0.8"/><path d="M341.1,504.6 L339.9,507.6 L343.3,510.1 L341.9,512.6 L344.6,514.6" fill="none" stroke="#444" stroke-width="0.8"/><circle cx="338.8" cy="445" r="3.4" fill="#fff" stroke="#7a7a7a" stroke-width="0.8"/><circle cx="338.8" cy="445" r="1.5" fill="none" stroke="#8a8a8a" stroke-width="0.7"/><circle cx="341.6" cy="519.1" r="3.4" fill="#fff" stroke="#7a7a7a" stroke-width="0.8"/><circle cx="341.6" cy="519.1" r="1.5" fill="none" stroke="#8a8a8a" stroke-width="0.7"/><circle cx="362.95" cy="460.3" r="2.4" fill="#1c1c1c"/><circle cx="362.95" cy="502.1" r="2.4" fill="#1c1c1c"/><path d="M362.95,457.8 L361.75,454.8 L365.15,452.3 L363.75,449.8 L366.45,447.8" fill="none" stroke="#444" stroke-width="0.8"/><path d="M362.95,504.6 L361.75,507.6 L365.15,510.1 L363.75,512.6 L366.45,514.6" fill="none" stroke="#444" stroke-width="0.8"/><circle cx="360.65" cy="445" r="3.4" fill="#fff" stroke="#7a7a7a" stroke-width="0.8"/><circle cx="360.65" cy="445" r="1.5" fill="none" stroke="#8a8a8a" stroke-width="0.7"/><circle cx="363.45" cy="519.1" r="3.4" fill="#fff" stroke="#7a7a7a" stroke-width="0.8"/><circle cx="363.45" cy="519.1" r="1.5" fill="none" stroke="#8a8a8a" stroke-width="0.7"/><path d="M416,455 L427,443.3 L438,455 L427,466.7Z" fill="#5aa682" stroke="#33684f" stroke-width="0.9"/><path d="M437.9,455 L448.9,443.3 L459.9,455 L448.9,466.7Z" fill="#5aa682" stroke="#33684f" stroke-width="0.9"/><path d="M459.8,455 L470.8,443.3 L481.8,455 L470.8,466.7Z" fill="#5aa682" stroke="#33684f" stroke-width="0.9"/><path d="M481.7,455 L492.7,443.3 L503.7,455 L492.7,466.7Z" fill="#5aa682" stroke="#33684f" stroke-width="0.9"/><path d="M503.6,455 L514.6,443.3 L525.6,455 L514.6,466.7Z" fill="#5aa682" stroke="#33684f" stroke-width="0.9"/><path d="M416,478.3 L427,466.6 L438,478.3 L427,490Z" fill="#5aa682" stroke="#33684f" stroke-width="0.9"/><path d="M437.9,478.3 L448.9,466.6 L459.9,478.3 L448.9,490Z" fill="#5aa682" stroke="#33684f" stroke-width="0.9"/><path d="M459.8,478.3 L470.8,466.6 L481.8,478.3 L470.8,490Z" fill="#5aa682" stroke="#33684f" stroke-width="0.9"/><path d="M481.7,478.3 L492.7,466.6 L503.7,478.3 L492.7,490Z" fill="#5aa682" stroke="#33684f" stroke-width="0.9"/><path d="M503.6,478.3 L514.6,466.6 L525.6,478.3 L514.6,490Z" fill="#5aa682" stroke="#33684f" stroke-width="0.9"/><path d="M416,501.7 L427,490 L438,501.7 L427,513.4Z" fill="#5aa682" stroke="#33684f" stroke-width="0.9"/><path d="M437.9,501.7 L448.9,490 L459.9,501.7 L448.9,513.4Z" fill="#5aa682" stroke="#33684f" stroke-width="0.9"/><path d="M459.8,501.7 L470.8,490 L481.8,501.7 L470.8,513.4Z" fill="#5aa682" stroke="#33684f" stroke-width="0.9"/><path d="M481.7,501.7 L492.7,490 L503.7,501.7 L492.7,513.4Z" fill="#5aa682" stroke="#33684f" stroke-width="0.9"/><path d="M503.6,501.7 L514.6,490 L525.6,501.7 L514.6,513.4Z" fill="#5aa682" stroke="#33684f" stroke-width="0.9"/><circle cx="416" cy="466.65" r="2.2" fill="#8f8f8f"/><circle cx="437.9" cy="466.65" r="2.2" fill="#8f8f8f"/><circle cx="459.8" cy="466.65" r="2.2" fill="#8f8f8f"/><circle cx="481.7" cy="466.65" r="2.2" fill="#8f8f8f"/><circle cx="503.6" cy="466.65" r="2.2" fill="#8f8f8f"/><circle cx="525.5" cy="466.65" r="2.2" fill="#8f8f8f"/><circle cx="416" cy="490" r="2.2" fill="#8f8f8f"/><circle cx="437.9" cy="490" r="2.2" fill="#8f8f8f"/><circle cx="459.8" cy="490" r="2.2" fill="#8f8f8f"/><circle cx="481.7" cy="490" r="2.2" fill="#8f8f8f"/><circle cx="503.6" cy="490" r="2.2" fill="#8f8f8f"/><circle cx="525.5" cy="490" r="2.2" fill="#8f8f8f"/><circle cx="416" cy="446.1" r="2.4" fill="#1c1c1c"/><circle cx="416" cy="511.2" r="2.4" fill="#1c1c1c"/><path d="M416,443.6 L414.8,440.6 L418.2,438.1 L416.8,435.6 L419.5,433.6" fill="none" stroke="#444" stroke-width="0.8"/><path d="M416,513.7 L414.8,516.7 L418.2,519.2 L416.8,521.7 L419.5,523.7" fill="none" stroke="#444" stroke-width="0.8"/><circle cx="413.5" cy="431.2" r="3.4" fill="#fff" stroke="#7a7a7a" stroke-width="0.8"/><circle cx="413.5" cy="431.2" r="1.5" fill="none" stroke="#8a8a8a" stroke-width="0.7"/><circle cx="413" cy="526.5" r="3.4" fill="#fff" stroke="#7a7a7a" stroke-width="0.8"/><circle cx="413" cy="526.5" r="1.5" fill="none" stroke="#8a8a8a" stroke-width="0.7"/><circle cx="437.9" cy="446.1" r="2.4" fill="#1c1c1c"/><circle cx="437.9" cy="511.2" r="2.4" fill="#1c1c1c"/><path d="M437.9,443.6 L436.7,440.6 L440.1,438.1 L438.7,435.6 L441.4,433.6" fill="none" stroke="#444" stroke-width="0.8"/><path d="M437.9,513.7 L436.7,516.7 L440.1,519.2 L438.7,521.7 L441.4,523.7" fill="none" stroke="#444" stroke-width="0.8"/><circle cx="435.4" cy="431.2" r="3.4" fill="#fff" stroke="#7a7a7a" stroke-width="0.8"/><circle cx="435.4" cy="431.2" r="1.5" fill="none" stroke="#8a8a8a" stroke-width="0.7"/><circle cx="434.9" cy="526.5" r="3.4" fill="#fff" stroke="#7a7a7a" stroke-width="0.8"/><circle cx="434.9" cy="526.5" r="1.5" fill="none" stroke="#8a8a8a" stroke-width="0.7"/><circle cx="459.8" cy="446.1" r="2.4" fill="#1c1c1c"/><circle cx="459.8" cy="511.2" r="2.4" fill="#1c1c1c"/><path d="M459.8,443.6 L458.6,440.6 L462,438.1 L460.6,435.6 L463.3,433.6" fill="none" stroke="#444" stroke-width="0.8"/><path d="M459.8,513.7 L458.6,516.7 L462,519.2 L460.6,521.7 L463.3,523.7" fill="none" stroke="#444" stroke-width="0.8"/><circle cx="457.3" cy="431.2" r="3.4" fill="#fff" stroke="#7a7a7a" stroke-width="0.8"/><circle cx="457.3" cy="431.2" r="1.5" fill="none" stroke="#8a8a8a" stroke-width="0.7"/><circle cx="456.8" cy="526.5" r="3.4" fill="#fff" stroke="#7a7a7a" stroke-width="0.8"/><circle cx="456.8" cy="526.5" r="1.5" fill="none" stroke="#8a8a8a" stroke-width="0.7"/><circle cx="481.7" cy="446.1" r="2.4" fill="#1c1c1c"/><circle cx="481.7" cy="511.2" r="2.4" fill="#1c1c1c"/><path d="M481.7,443.6 L480.5,440.6 L483.9,438.1 L482.5,435.6 L485.2,433.6" fill="none" stroke="#444" stroke-width="0.8"/><path d="M481.7,513.7 L480.5,516.7 L483.9,519.2 L482.5,521.7 L485.2,523.7" fill="none" stroke="#444" stroke-width="0.8"/><circle cx="479.2" cy="431.2" r="3.4" fill="#fff" stroke="#7a7a7a" stroke-width="0.8"/><circle cx="479.2" cy="431.2" r="1.5" fill="none" stroke="#8a8a8a" stroke-width="0.7"/><circle cx="478.7" cy="526.5" r="3.4" fill="#fff" stroke="#7a7a7a" stroke-width="0.8"/><circle cx="478.7" cy="526.5" r="1.5" fill="none" stroke="#8a8a8a" stroke-width="0.7"/><circle cx="503.6" cy="446.1" r="2.4" fill="#1c1c1c"/><circle cx="503.6" cy="511.2" r="2.4" fill="#1c1c1c"/><path d="M503.6,443.6 L502.4,440.6 L505.8,438.1 L504.4,435.6 L507.1,433.6" fill="none" stroke="#444" stroke-width="0.8"/><path d="M503.6,513.7 L502.4,516.7 L505.8,519.2 L504.4,521.7 L507.1,523.7" fill="none" stroke="#444" stroke-width="0.8"/><circle cx="501.1" cy="431.2" r="3.4" fill="#fff" stroke="#7a7a7a" stroke-width="0.8"/><circle cx="501.1" cy="431.2" r="1.5" fill="none" stroke="#8a8a8a" stroke-width="0.7"/><circle cx="500.6" cy="526.5" r="3.4" fill="#fff" stroke="#7a7a7a" stroke-width="0.8"/><circle cx="500.6" cy="526.5" r="1.5" fill="none" stroke="#8a8a8a" stroke-width="0.7"/><circle cx="525.5" cy="446.1" r="2.4" fill="#1c1c1c"/><circle cx="525.5" cy="511.2" r="2.4" fill="#1c1c1c"/><path d="M525.5,443.6 L524.3,440.6 L527.7,438.1 L526.3,435.6 L529,433.6" fill="none" stroke="#444" stroke-width="0.8"/><path d="M525.5,513.7 L524.3,516.7 L527.7,519.2 L526.3,521.7 L529,523.7" fill="none" stroke="#444" stroke-width="0.8"/><circle cx="523" cy="431.2" r="3.4" fill="#fff" stroke="#7a7a7a" stroke-width="0.8"/><circle cx="523" cy="431.2" r="1.5" fill="none" stroke="#8a8a8a" stroke-width="0.7"/><circle cx="522.5" cy="526.5" r="3.4" fill="#fff" stroke="#7a7a7a" stroke-width="0.8"/><circle cx="522.5" cy="526.5" r="1.5" fill="none" stroke="#8a8a8a" stroke-width="0.7"/><path d="M584.7,446.4 L595.7,434.9 L606.7,446.4 L595.7,457.9Z" fill="#e0899a" stroke="#8a6a70" stroke-width="0.9"/><path d="M606.6,446.4 L617.6,434.9 L628.6,446.4 L617.6,457.9Z" fill="#e0899a" stroke="#8a6a70" stroke-width="0.9"/><path d="M628.6,446.4 L639.6,434.9 L650.6,446.4 L639.6,457.9Z" fill="#e0899a" stroke="#8a6a70" stroke-width="0.9"/><path d="M650.4,446.4 L661.4,434.9 L672.4,446.4 L661.4,457.9Z" fill="#e0899a" stroke="#8a6a70" stroke-width="0.9"/><path d="M584.7,469.4 L595.7,457.9 L606.7,469.4 L595.7,480.9Z" fill="#e0899a" stroke="#8a6a70" stroke-width="0.9"/><path d="M606.6,469.4 L617.6,457.9 L628.6,469.4 L617.6,480.9Z" fill="#e0899a" stroke="#8a6a70" stroke-width="0.9"/><path d="M628.6,469.4 L639.6,457.9 L650.6,469.4 L639.6,480.9Z" fill="#e0899a" stroke="#8a6a70" stroke-width="0.9"/><path d="M650.4,469.4 L661.4,457.9 L672.4,469.4 L661.4,480.9Z" fill="#e0899a" stroke="#8a6a70" stroke-width="0.9"/><path d="M584.7,492.4 L595.7,480.9 L606.7,492.4 L595.7,503.9Z" fill="#e0899a" stroke="#8a6a70" stroke-width="0.9"/><path d="M606.6,492.4 L617.6,480.9 L628.6,492.4 L617.6,503.9Z" fill="#e0899a" stroke="#8a6a70" stroke-width="0.9"/><path d="M628.6,492.4 L639.6,480.9 L650.6,492.4 L639.6,503.9Z" fill="#e0899a" stroke="#8a6a70" stroke-width="0.9"/><path d="M650.4,492.4 L661.4,480.9 L672.4,492.4 L661.4,503.9Z" fill="#e0899a" stroke="#8a6a70" stroke-width="0.9"/><path d="M584.7,515.4 L595.7,503.9 L606.7,515.4 L595.7,526.9Z" fill="#e0899a" stroke="#8a6a70" stroke-width="0.9"/><path d="M606.6,515.4 L617.6,503.9 L628.6,515.4 L617.6,526.9Z" fill="#e0899a" stroke="#8a6a70" stroke-width="0.9"/><path d="M628.6,515.4 L639.6,503.9 L650.6,515.4 L639.6,526.9Z" fill="#e0899a" stroke="#8a6a70" stroke-width="0.9"/><path d="M650.4,515.4 L661.4,503.9 L672.4,515.4 L661.4,526.9Z" fill="#e0899a" stroke="#8a6a70" stroke-width="0.9"/><circle cx="584.7" cy="435" r="2.4" fill="#8a8a8a"/><circle cx="606.6" cy="435" r="2.4" fill="#8a8a8a"/><circle cx="628.6" cy="435" r="2.4" fill="#8a8a8a"/><circle cx="650.5" cy="435" r="2.4" fill="#8a8a8a"/><circle cx="672.4" cy="435" r="2.4" fill="#8a8a8a"/><circle cx="584.7" cy="458" r="2.4" fill="#8a8a8a"/><circle cx="606.6" cy="458" r="2.4" fill="#8a8a8a"/><circle cx="628.6" cy="458" r="2.4" fill="#8a8a8a"/><circle cx="650.5" cy="458" r="2.4" fill="#8a8a8a"/><circle cx="672.4" cy="458" r="2.4" fill="#8a8a8a"/><circle cx="584.7" cy="481" r="2.4" fill="#8a8a8a"/><circle cx="606.6" cy="481" r="2.4" fill="#8a8a8a"/><circle cx="628.6" cy="481" r="2.4" fill="#8a8a8a"/><circle cx="650.5" cy="481" r="2.4" fill="#8a8a8a"/><circle cx="672.4" cy="481" r="2.4" fill="#8a8a8a"/><circle cx="584.7" cy="504" r="2.4" fill="#8a8a8a"/><circle cx="606.6" cy="504" r="2.4" fill="#8a8a8a"/><circle cx="628.6" cy="504" r="2.4" fill="#8a8a8a"/><circle cx="650.5" cy="504" r="2.4" fill="#8a8a8a"/><circle cx="672.4" cy="504" r="2.4" fill="#8a8a8a"/><circle cx="584.7" cy="526.5" r="2.4" fill="#8a8a8a"/><circle cx="606.6" cy="526.5" r="2.4" fill="#8a8a8a"/><circle cx="628.6" cy="526.5" r="2.4" fill="#8a8a8a"/><circle cx="650.5" cy="526.5" r="2.4" fill="#8a8a8a"/><circle cx="672.4" cy="526.5" r="2.4" fill="#8a8a8a"/><polygon points="98.7,534.2 99.7,534.12 100.7,534.04 101.7,533.95 102.7,533.87 103.7,533.77 104.7,533.67 105.7,533.57 106.7,533.46 107.7,533.35 108.7,533.23 109.7,533.1 110.7,532.97 111.7,532.83 112.7,532.68 113.7,532.52 114.7,532.36 115.7,532.18 116.7,531.99 117.7,531.8 118.7,531.59 119.7,531.36 120.7,531.13 121.7,530.87 122.7,530.6 123.7,530.32 124.7,530.01 125.7,529.68 126.7,529.33 127.7,528.95 128.7,528.55 129.7,528.12 130.7,527.65 131.7,527.15 132.7,526.61 133.7,526.02 134.7,525.39 135.7,524.71 136.7,523.97 137.7,523.17 138.7,522.29 139.7,521.35 140.7,520.31 141.7,519.19 142.7,517.96 143.7,516.61 144.7,515.15 145.7,513.54 146.7,511.78 147.7,509.85 148.7,507.74 149.7,505.43 150.7,502.9 151.7,500.13 152.7,497.12 153.7,493.84 154.7,490.29 155.7,486.47 156.7,482.37 157.7,478.03 158.7,473.46 159.7,468.74 160.7,463.93 161.7,459.14 162.7,454.49 163.7,450.14 164.7,446.25 165.7,443.01 166.7,440.55 167.7,439.02 168.7,438.5 169.7,438.86 170.7,439.93 171.7,441.67 172.7,444.01 173.7,446.86 174.7,450.14 175.7,453.74 176.7,457.56 177.7,461.52 178.7,465.54 179.7,469.53 180.7,473.46 181.7,477.28 182.7,480.95 183.7,484.45 184.7,487.77 185.7,490.9 186.7,493.84 187.7,496.59 188.7,499.16 189.7,501.55 190.7,503.77 191.7,505.83 192.7,507.74 193.7,509.51 194.7,511.16 195.7,512.68 196.7,514.09 197.7,515.4 198.7,516.61 199.7,517.74 200.7,518.79 201.7,519.76 202.7,520.67 203.7,521.51 204.7,522.29 205.7,523.03 206.7,523.71 207.7,524.35 208.7,524.94 209.7,525.5 210.7,526.02 211.7,526.51 212.7,526.97 213.7,527.4 214.7,527.81 215.7,528.19 216.7,528.55 217.7,528.89 218.7,529.21 219.7,529.51 220.7,529.79 221.7,530.06 222.7,530.32 223.7,530.56 224.7,530.79 225.7,531 226.7,531.21 227.7,531.4 228.7,531.59 229.7,531.76 230.7,531.93 231.7,532.09 232.7,532.24 233.7,532.38 234.7,532.52 235.7,532.65 236.7,532.78 237.7,532.9 238.7,533.01 239.7,533.12 240.7,533.23 241.7,533.33 242.7,533.43 243.7,533.52 244.7,533.61 245.7,533.69 246.7,533.77 247.7,533.85 248.7,533.93 249.7,534 250.7,534.07 251.7,534.13 252.7,534.2 253.7,534.26 254.7,534.32 255.7,534.38 256.7,534.43 257.7,534.48 258.7,534.54 259.7,534.58 260.7,534.63 261.7,534.68 262.7,534.72 263.7,534.77 264.7,534.81 265.7,534.85 266.7,534.89 267.7,534.92 268.7,534.96 269.7,535 270.7,535.03 271.7,535.06 272.7,535.1 273.7,535.13 274.7,535.16 275.7,535.19 276.7,535.21 277.7,535.24 278.7,535.27" fill="#a9a3c9" fill-opacity="0.5"/><polygon points="176.8,532.47 177.8,532.36 178.8,532.24 179.8,532.12 180.8,531.99 181.8,531.85 182.8,531.72 183.8,531.57 184.8,531.42 185.8,531.26 186.8,531.09 187.8,530.92 188.8,530.74 189.8,530.54 190.8,530.34 191.8,530.13 192.8,529.91 193.8,529.68 194.8,529.43 195.8,529.17 196.8,528.9 197.8,528.61 198.8,528.3 199.8,527.98 200.8,527.64 201.8,527.28 202.8,526.9 203.8,526.49 204.8,526.06 205.8,525.61 206.8,525.12 207.8,524.6 208.8,524.04 209.8,523.45 210.8,522.82 211.8,522.14 212.8,521.42 213.8,520.64 214.8,519.81 215.8,518.91 216.8,517.94 217.8,516.9 218.8,515.78 219.8,514.56 220.8,513.25 221.8,511.83 222.8,510.29 223.8,508.63 224.8,506.82 225.8,504.86 226.8,502.74 227.8,500.43 228.8,497.93 229.8,495.23 230.8,492.31 231.8,489.16 232.8,485.78 233.8,482.17 234.8,478.34 235.8,474.3 236.8,470.09 237.8,465.75 238.8,461.37 239.8,457.02 240.8,452.83 241.8,448.91 242.8,445.43 243.8,442.52 244.8,440.33 245.8,438.96 246.8,438.5 247.8,438.8 248.8,439.7 249.8,441.15 250.8,443.11 251.8,445.52 252.8,448.3 253.8,451.37 254.8,454.66 255.8,458.1 256.8,461.61 257.8,465.15 258.8,468.65 259.8,472.09 260.8,475.44 261.8,478.66 262.8,481.76 263.8,484.7 264.8,487.5 265.8,490.15 266.8,492.64 267.8,494.99 268.8,497.2 269.8,499.28 270.8,501.22 271.8,503.04 272.8,504.75 273.8,506.35 274.8,507.84 275.8,509.25 276.8,510.56 277.8,511.79 278.8,512.95 279.8,514.03 280.8,515.05 281.8,516 282.8,516.9 283.8,517.75 284.8,518.54 285.8,519.29 286.8,520 287.8,520.66 288.8,521.29 289.8,521.89 290.8,522.45 291.8,522.98 292.8,523.49 293.8,523.96 294.8,524.42 295.8,524.85 296.8,525.26 297.8,525.64 298.8,526.01 299.8,526.37 300.8,526.7 301.8,527.02 302.8,527.32 303.8,527.61 304.8,527.89 305.8,528.16 306.8,528.41 307.8,528.65 308.8,528.88 309.8,529.1 310.8,529.32 311.8,529.52 312.8,529.72 313.8,529.9 314.8,530.08 315.8,530.26 316.8,530.42 317.8,530.58 318.8,530.74 319.8,530.88 320.8,531.03 321.8,531.16 322.8,531.29 323.8,531.42 324.8,531.54 325.8,531.66 326.8,531.78 327.8,531.89 328.8,531.99 329.8,532.1 330.8,532.2 331.8,532.29 332.8,532.39 333.8,532.48 334.8,532.56 335.8,532.65 336.8,532.73 337.8,532.81 338.8,532.89 339.8,532.96 340.8,533.03 341.8,533.1 342.8,533.17 343.8,533.24 344.8,533.3 345.8,533.36 346.8,533.42 347.8,533.48 348.8,533.54 349.8,533.6 350.8,533.65 351.8,533.7 352.8,533.75 353.8,533.8 354.8,533.85 355.8,533.9 356.8,533.94" fill="#93c5dd" fill-opacity="0.5"/><polygon points="263.3,535.38 264.3,535.33 265.3,535.28 266.3,535.23 267.3,535.17 268.3,535.11 269.3,535.05 270.3,534.99 271.3,534.92 272.3,534.84 273.3,534.76 274.3,534.68 275.3,534.59 276.3,534.5 277.3,534.4 278.3,534.29 279.3,534.17 280.3,534.05 281.3,533.92 282.3,533.78 283.3,533.63 284.3,533.47 285.3,533.3 286.3,533.11 287.3,532.91 288.3,532.69 289.3,532.46 290.3,532.21 291.3,531.93 292.3,531.64 293.3,531.32 294.3,530.97 295.3,530.59 296.3,530.18 297.3,529.73 298.3,529.24 299.3,528.7 300.3,528.11 301.3,527.47 302.3,526.76 303.3,525.99 304.3,525.13 305.3,524.19 306.3,523.15 307.3,522.01 308.3,520.74 309.3,519.34 310.3,517.79 311.3,516.07 312.3,514.17 313.3,512.06 314.3,509.73 315.3,507.16 316.3,504.32 317.3,501.2 318.3,497.78 319.3,494.05 320.3,490.01 321.3,485.65 322.3,481.01 323.3,476.12 324.3,471.04 325.3,465.86 326.3,460.69 327.3,455.69 328.3,451 329.3,446.82 330.3,443.33 331.3,440.7 332.3,439.06 333.3,438.5 334.3,438.93 335.3,440.2 336.3,442.25 337.3,444.99 338.3,448.31 339.3,452.07 340.3,456.15 341.3,460.43 342.3,464.8 343.3,469.17 344.3,473.46 345.3,477.62 346.3,481.6 347.3,485.38 348.3,488.93 349.3,492.26 350.3,495.37 351.3,498.25 352.3,500.91 353.3,503.38 354.3,505.65 355.3,507.74 356.3,509.67 357.3,511.44 358.3,513.07 359.3,514.58 360.3,515.96 361.3,517.24 362.3,518.42 363.3,519.5 364.3,520.51 365.3,521.44 366.3,522.29 367.3,523.09 368.3,523.83 369.3,524.51 370.3,525.15 371.3,525.74 372.3,526.29 373.3,526.81 374.3,527.29 375.3,527.74 376.3,528.16 377.3,528.55 378.3,528.92 379.3,529.26 380.3,529.59 381.3,529.89 382.3,530.18 383.3,530.45 384.3,530.7 385.3,530.94 386.3,531.17 387.3,531.38 388.3,531.59 389.3,531.78 390.3,531.96 391.3,532.13 392.3,532.29 393.3,532.45 394.3,532.6 395.3,532.73 396.3,532.87 397.3,532.99 398.3,533.11 399.3,533.23 400.3,533.34 401.3,533.44 402.3,533.54 403.3,533.64 404.3,533.73 405.3,533.82 406.3,533.9 407.3,533.98 408.3,534.05 409.3,534.13 410.3,534.2 411.3,534.26 412.3,534.33 413.3,534.39 414.3,534.45 415.3,534.51 416.3,534.56 417.3,534.62 418.3,534.67 419.3,534.72 420.3,534.76 421.3,534.81 422.3,534.85 423.3,534.89 424.3,534.93 425.3,534.97 426.3,535.01 427.3,535.05 428.3,535.08 429.3,535.12 430.3,535.15 431.3,535.18 432.3,535.21 433.3,535.24 434.3,535.27 435.3,535.3 436.3,535.33 437.3,535.35 438.3,535.38 439.3,535.4 440.3,535.43 441.3,535.45 442.3,535.47 443.3,535.49" fill="#a7cd9f" fill-opacity="0.5"/><polygon points="360.3,534.52 361.3,534.45 362.3,534.38 363.3,534.3 364.3,534.22 365.3,534.13 366.3,534.04 367.3,533.94 368.3,533.84 369.3,533.73 370.3,533.62 371.3,533.5 372.3,533.37 373.3,533.24 374.3,533.09 375.3,532.94 376.3,532.78 377.3,532.61 378.3,532.43 379.3,532.24 380.3,532.04 381.3,531.82 382.3,531.59 383.3,531.34 384.3,531.08 385.3,530.79 386.3,530.49 387.3,530.17 388.3,529.82 389.3,529.44 390.3,529.04 391.3,528.61 392.3,528.14 393.3,527.63 394.3,527.09 395.3,526.5 396.3,525.85 397.3,525.16 398.3,524.41 399.3,523.59 400.3,522.69 401.3,521.72 402.3,520.66 403.3,519.5 404.3,518.23 405.3,516.85 406.3,515.33 407.3,513.66 408.3,511.84 409.3,509.85 410.3,507.66 411.3,505.27 412.3,502.66 413.3,499.8 414.3,496.7 415.3,493.33 416.3,489.7 417.3,485.8 418.3,481.64 419.3,477.25 420.3,472.67 421.3,467.95 422.3,463.18 423.3,458.45 424.3,453.91 425.3,449.68 426.3,445.93 427.3,442.8 428.3,440.46 429.3,439 430.3,438.5 431.3,438.86 432.3,439.93 433.3,441.67 434.3,444.01 435.3,446.86 436.3,450.14 437.3,453.74 438.3,457.56 439.3,461.52 440.3,465.54 441.3,469.53 442.3,473.46 443.3,477.28 444.3,480.95 445.3,484.45 446.3,487.77 447.3,490.9 448.3,493.84 449.3,496.59 450.3,499.16 451.3,501.55 452.3,503.77 453.3,505.83 454.3,507.74 455.3,509.51 456.3,511.16 457.3,512.68 458.3,514.09 459.3,515.4 460.3,516.61 461.3,517.74 462.3,518.79 463.3,519.76 464.3,520.67 465.3,521.51 466.3,522.29 467.3,523.03 468.3,523.71 469.3,524.35 470.3,524.94 471.3,525.5 472.3,526.02 473.3,526.51 474.3,526.97 475.3,527.4 476.3,527.81 477.3,528.19 478.3,528.55 479.3,528.89 480.3,529.21 481.3,529.51 482.3,529.79 483.3,530.06 484.3,530.32 485.3,530.56 486.3,530.79 487.3,531 488.3,531.21 489.3,531.4 490.3,531.59 491.3,531.76 492.3,531.93 493.3,532.09 494.3,532.24 495.3,532.38 496.3,532.52 497.3,532.65 498.3,532.78 499.3,532.9 500.3,533.01 501.3,533.12 502.3,533.23 503.3,533.33 504.3,533.43 505.3,533.52 506.3,533.61 507.3,533.69 508.3,533.77 509.3,533.85 510.3,533.93 511.3,534 512.3,534.07 513.3,534.13 514.3,534.2 515.3,534.26 516.3,534.32 517.3,534.38 518.3,534.43 519.3,534.48 520.3,534.54 521.3,534.58 522.3,534.63 523.3,534.68 524.3,534.72 525.3,534.77 526.3,534.81 527.3,534.85 528.3,534.89 529.3,534.92 530.3,534.96 531.3,535 532.3,535.03 533.3,535.06 534.3,535.1 535.3,535.13 536.3,535.16 537.3,535.19 538.3,535.21 539.3,535.24 540.3,535.27" fill="#e7d38d" fill-opacity="0.5"/><polygon points="470.8,534.87 471.8,534.8 472.8,534.73 473.8,534.65 474.8,534.57 475.8,534.49 476.8,534.4 477.8,534.31 478.8,534.21 479.8,534.1 480.8,533.99 481.8,533.88 482.8,533.75 483.8,533.62 484.8,533.48 485.8,533.32 486.8,533.16 487.8,532.99 488.8,532.81 489.8,532.61 490.8,532.41 491.8,532.18 492.8,531.94 493.8,531.68 494.8,531.41 495.8,531.11 496.8,530.79 497.8,530.45 498.8,530.08 499.8,529.68 500.8,529.25 501.8,528.79 502.8,528.28 503.8,527.73 504.8,527.14 505.8,526.5 506.8,525.8 507.8,525.04 508.8,524.21 509.8,523.31 510.8,522.33 511.8,521.26 512.8,520.08 513.8,518.8 514.8,517.4 515.8,515.87 516.8,514.2 517.8,512.37 518.8,510.37 519.8,508.19 520.8,505.82 521.8,503.23 522.8,500.42 523.8,497.38 524.8,494.09 525.8,490.57 526.8,486.81 527.8,482.82 528.8,478.63 529.8,474.27 530.8,469.78 531.8,465.24 532.8,460.72 533.8,456.32 534.8,452.15 535.8,448.33 536.8,444.99 537.8,442.24 538.8,440.19 539.8,438.93 540.8,438.5 541.8,438.88 542.8,440.01 543.8,441.85 544.8,444.31 545.8,447.31 546.8,450.74 547.8,454.49 548.8,458.46 549.8,462.55 550.8,466.68 551.8,470.78 552.8,474.79 553.8,478.66 554.8,482.37 555.8,485.9 556.8,489.23 557.8,492.36 558.8,495.28 559.8,498.01 560.8,500.54 561.8,502.9 562.8,505.08 563.8,507.1 564.8,508.97 565.8,510.7 566.8,512.3 567.8,513.78 568.8,515.15 569.8,516.41 570.8,517.59 571.8,518.67 572.8,519.68 573.8,520.62 574.8,521.49 575.8,522.29 576.8,523.05 577.8,523.75 578.8,524.4 579.8,525.01 580.8,525.58 581.8,526.11 582.8,526.61 583.8,527.07 584.8,527.51 585.8,527.92 586.8,528.31 587.8,528.67 588.8,529.01 589.8,529.33 590.8,529.63 591.8,529.92 592.8,530.19 593.8,530.44 594.8,530.68 595.8,530.91 596.8,531.13 597.8,531.33 598.8,531.52 599.8,531.71 600.8,531.88 601.8,532.05 602.8,532.21 603.8,532.36 604.8,532.5 605.8,532.64 606.8,532.77 607.8,532.89 608.8,533.01 609.8,533.12 610.8,533.23 611.8,533.33 612.8,533.43 613.8,533.53 614.8,533.62 615.8,533.7 616.8,533.79 617.8,533.87 618.8,533.94 619.8,534.02 620.8,534.09 621.8,534.15 622.8,534.22 623.8,534.28 624.8,534.34 625.8,534.4 626.8,534.46 627.8,534.51 628.8,534.56 629.8,534.61 630.8,534.66 631.8,534.71 632.8,534.75 633.8,534.79 634.8,534.84 635.8,534.88 636.8,534.91 637.8,534.95 638.8,534.99 639.8,535.02 640.8,535.06 641.8,535.09 642.8,535.12 643.8,535.15 644.8,535.18 645.8,535.21 646.8,535.24 647.8,535.27 648.8,535.3 649.8,535.32 650.8,535.35" fill="#d38789" fill-opacity="0.5"/><polygon points="569.6,532.72 570.6,532.59 571.6,532.46 572.6,532.33 573.6,532.19 574.6,532.04 575.6,531.88 576.6,531.72 577.6,531.55 578.6,531.36 579.6,531.18 580.6,530.98 581.6,530.77 582.6,530.54 583.6,530.31 584.6,530.07 585.6,529.81 586.6,529.53 587.6,529.24 588.6,528.94 589.6,528.61 590.6,528.27 591.6,527.91 592.6,527.52 593.6,527.11 594.6,526.68 595.6,526.22 596.6,525.73 597.6,525.2 598.6,524.64 599.6,524.05 600.6,523.41 601.6,522.73 602.6,522 603.6,521.23 604.6,520.39 605.6,519.5 606.6,518.54 607.6,517.51 608.6,516.4 609.6,515.21 610.6,513.93 611.6,512.55 612.6,511.07 613.6,509.47 614.6,507.75 615.6,505.9 616.6,503.91 617.6,501.77 618.6,499.47 619.6,497 620.6,494.36 621.6,491.54 622.6,488.53 623.6,485.34 624.6,481.96 625.6,478.42 626.6,474.72 627.6,470.89 628.6,466.96 629.6,462.98 630.6,459 631.6,455.09 632.6,451.33 633.6,447.81 634.6,444.61 635.6,441.84 636.6,439.57 637.6,437.88 638.6,436.85 639.6,436.5 640.6,436.85 641.6,437.89 642.6,439.56 643.6,441.81 644.6,444.54 645.6,447.67 646.6,451.08 647.6,454.69 648.6,458.42 649.6,462.18 650.6,465.92 651.6,469.58 652.6,473.13 653.6,476.55 654.6,479.81 655.6,482.91 656.6,485.84 657.6,488.6 658.6,491.19 659.6,493.63 660.6,495.9 661.6,498.03 662.6,500.02 663.6,501.88 664.6,503.62 665.6,505.24 666.6,506.76 667.6,508.18 668.6,509.51 669.6,510.75 670.6,511.92 671.6,513.01 672.6,514.03 673.6,514.99 674.6,515.9 675.6,516.75 676.6,517.55 677.6,518.3 678.6,519.01 679.6,519.69 680.6,520.32 681.6,520.92 682.6,521.49 683.6,522.02 684.6,522.53 685.6,523.02 686.6,523.47 687.6,523.91 688.6,524.33 689.6,524.72 690.6,525.09 691.6,525.45 692.6,525.79 693.6,526.12 694.6,526.43 695.6,526.73 696.6,527.01 697.6,527.28 698.6,527.54 699.6,527.79 700.6,528.03 701.6,528.26 702.6,528.48 703.6,528.69 704.6,528.89 705.6,529.09 706.6,529.28 707.6,529.46 708.6,529.63 709.6,529.8 710.6,529.96 711.6,530.11 712.6,530.26 713.6,530.41 714.6,530.54 715.6,530.68 716.6,530.81 717.6,530.93 718.6,531.06 719.6,531.17 720.6,531.29 721.6,531.4 722.6,531.5 723.6,531.6 724.6,531.7 725.6,531.8 726.6,531.89 727.6,531.99 728.6,532.07 729.6,532.16 730.6,532.24 731.6,532.32 732.6,532.4 733.6,532.48 734.6,532.55 735.6,532.62 736.6,532.69 737.6,532.76 738.6,532.83 739.6,532.89 740.6,532.95 741.6,533.01 742.6,533.07 743.6,533.13 744.6,533.19 745.6,533.24 746.6,533.29 747.6,533.35 748.6,533.4 749.6,533.45" fill="#d5c9c9" style="mix-blend-mode:multiply"/><rect x="74" y="536" width="652" height="7.5" fill="url(#barB)"/><line x1="91.2" y1="536" x2="91.2" y2="540.5" stroke="#333" stroke-width="0.8"/><line x1="129.8" y1="536" x2="129.8" y2="540.5" stroke="#333" stroke-width="0.8"/><line x1="168.5" y1="536" x2="168.5" y2="540.5" stroke="#333" stroke-width="0.8"/><line x1="208.3" y1="536" x2="208.3" y2="540.5" stroke="#333" stroke-width="0.8"/><line x1="244.1" y1="536" x2="244.1" y2="540.5" stroke="#333" stroke-width="0.8"/><line x1="282.7" y1="536" x2="282.7" y2="540.5" stroke="#333" stroke-width="0.8"/><line x1="321.3" y1="536" x2="321.3" y2="540.5" stroke="#333" stroke-width="0.8"/><line x1="360.6" y1="536" x2="360.6" y2="540.5" stroke="#333" stroke-width="0.8"/><line x1="399.3" y1="536" x2="399.3" y2="540.5" stroke="#333" stroke-width="0.8"/><line x1="438.8" y1="536" x2="438.8" y2="540.5" stroke="#333" stroke-width="0.8"/><line x1="473" y1="536" x2="473" y2="540.5" stroke="#333" stroke-width="0.8"/><line x1="512" y1="536" x2="512" y2="540.5" stroke="#333" stroke-width="0.8"/><line x1="551" y1="536" x2="551" y2="540.5" stroke="#333" stroke-width="0.8"/><line x1="589.6" y1="536" x2="589.6" y2="540.5" stroke="#333" stroke-width="0.8"/><line x1="630" y1="536" x2="630" y2="540.5" stroke="#333" stroke-width="0.8"/><line x1="669.1" y1="536" x2="669.1" y2="540.5" stroke="#333" stroke-width="0.8"/><line x1="707.6" y1="536" x2="707.6" y2="540.5" stroke="#333" stroke-width="0.8"/><line x1="724" y1="536" x2="724" y2="540.5" stroke="#333" stroke-width="0.8"/><rect x="68" y="543" width="662" height="3.3" fill="#1f2526"/><path d="M55.6,544.7 L75.1,536.1 L70.1,544.7 L75.1,553.3Z" fill="#1f2526"/><path d="M747.2,544.8 L726.7,553.6 L731.7,544.8 L726.7,536Z" fill="#1f2526"/><text x="49.3" y="576" font-size="25.2" font-weight="bold" fill="#231f20" text-anchor="start" stroke="#231f20" stroke-width="0.35">Purple</text><text x="710.2" y="576" font-size="25.0" font-weight="bold" fill="#231f20" text-anchor="start" stroke="#231f20" stroke-width="0.35">NIR</text><text x="101.4" y="606.4" font-size="24.5" font-weight="bold" font-style="italic" fill="#231f20" stroke="#231f20" stroke-width="0.35">n</text><text x="122.8" y="609" font-size="24.5" font-weight="bold" font-style="normal" fill="#231f20" stroke="#231f20" stroke-width="0.35">=</text><path d="M150.24,589 L153.3,589 L153.3,606.4 L150.24,606.4 L150.24,595.01 L146,595.01 L146,592.68 C148.21,592.68 149.75,591.21 150.24,589Z" fill="#231f20"/><path d="M357.24,587.4 L360.3,587.4 L360.3,604.8 L357.24,604.8 L357.24,593.41 L353,593.41 L353,591.08 C355.2,591.08 356.75,589.61 357.24,587.4Z" fill="#231f20"/><text x="372.1" y="606.3" font-size="24.5" font-weight="bold" font-style="normal" fill="#231f20" stroke="#231f20" stroke-width="0.35">&lt;</text><text x="395.1" y="604.8" font-size="24.5" font-weight="bold" font-style="italic" fill="#231f20" stroke="#231f20" stroke-width="0.35">n</text><text x="416" y="606.3" font-size="24.5" font-weight="bold" font-style="normal" fill="#231f20" stroke="#231f20" stroke-width="0.35">&lt;</text><text transform="translate(437.7,603.48) scale(1.1,0.74)" font-size="24.5" fill="#231f20">∞</text><text x="655.2" y="604.7" font-size="24.5" font-weight="bold" font-style="italic" fill="#231f20" stroke="#231f20" stroke-width="0.35">n</text><text x="676.5" y="607" font-size="24.5" font-weight="bold" font-style="normal" fill="#231f20" stroke="#231f20" stroke-width="0.35">=</text><text transform="translate(697.7,603.28) scale(1.1,0.74)" font-size="24.5" fill="#231f20">∞</text><line x1="64.1" y1="618" x2="187.1" y2="618" stroke="#231f20" stroke-width="1.3"/><path d="M56.1,618 L68.1,611.4 L64.6,618 L68.1,624.6Z" fill="#231f20"/><path d="M195.1,618 L183.1,624.6 L186.6,618 L183.1,611.4Z" fill="#231f20"/><line x1="267" y1="617.4" x2="532.7" y2="617.4" stroke="#231f20" stroke-width="1.3"/><path d="M259,617.4 L271,610.8 L267.5,617.4 L271,624Z" fill="#231f20"/><path d="M540.7,617.4 L528.7,624 L532.2,617.4 L528.7,610.8Z" fill="#231f20"/><line x1="618.3" y1="615.9" x2="741" y2="615.9" stroke="#555" stroke-width="1.3"/><path d="M610.3,615.9 L622.3,609.3 L618.8,615.9 L622.3,622.5Z" fill="#231f20"/><path d="M749,615.9 L737,622.5 L740.5,615.9 L737,609.3Z" fill="#231f20"/><text x="830.0" y="22.6" font-size="43" font-weight="bold" fill="#231f20" text-anchor="start" stroke="#231f20" stroke-width="0.35">c</text><g clip-path="url(#lc)"><foreignObject x="940" y="10" width="400" height="630"><div id="cie"><i style="top:4px;background:linear-gradient(90deg,#50b24f 8px,#51b24f 16px,#51b14e 24px,#51b14e 32px,#51b14e 40px,#52b14e 48px,#52b14e 56px,#52b14d 64px,#53b14d 72px,#53b14d 80px,#54b24c 88px,#54b24c 96px,#55b24c 104px,#55b34b 112px,#56b34b 120px,#57b44a 128px,#58b44a 136px,#59b54a 144px,#5ab649 152px,#5bb648 160px,#5cb748 168px,#5eb847 176px,#5fb847 184px,#60b946 192px,#61b946 200px,#63ba45 208px,#64bb44 216px,#65bb44 224px,#66bb43 232px,#67bc42 240px,#68bc42 248px,#69bc41 256px,#6abd40 264px,#6bbd3f 272px,#6cbd3e 280px,#6dbd3d 288px,#6ebc3c 296px,#6fbc3b 304px,#70bc3a 312px,#70bc39 320px,#71bb38 328px,#72bb37 336px,#73ba35 344px,#74ba34 352px,#75b932 360px,#76b831 368px,#77b72f 376px,#78b72e 384px)"></i><i style="top:7px;background:linear-gradient(90deg,#50b24f 8px,#51b24f 16px,#51b14f 24px,#51b14e 32px,#51b14e 40px,#52b14e 48px,#52b14e 56px,#52b14d 64px,#53b14d 72px,#53b14d 80px,#54b14d 88px,#54b24c 96px,#55b24c 104px,#55b34b 112px,#56b34b 120px,#57b44b 128px,#58b44a 136px,#59b54a 144px,#5ab649 152px,#5bb649 160px,#5cb748 168px,#5eb847 176px,#5fb847 184px,#60b946 192px,#62b946 200px,#63ba45 208px,#64bb44 216px,#65bb44 224px,#66bb43 232px,#68bc42 240px,#69bc42 248px,#6abc41 256px,#6bbd40 264px,#6cbd3f 272px,#6cbd3e 280px,#6dbd3d 288px,#6ebc3c 296px,#6fbc3b 304px,#70bc3a 312px,#71bc39 320px,#71bb38 328px,#72bb37 336px,#73ba35 344px,#74ba34 352px,#75b933 360px,#76b831 368px,#77b730 376px,#78b62e 384px)"></i><i style="top:10px;background:linear-gradient(90deg,#50b24f 8px,#51b24f 16px,#51b14f 24px,#51b14e 32px,#51b14e 40px,#52b14e 48px,#52b14e 56px,#52b14d 64px,#53b14d 72px,#53b14d 80px,#53b14d 88px,#54b24c 96px,#55b24c 104px,#55b34c 112px,#56b34b 120px,#57b44b 128px,#58b44a 136px,#59b54a 144px,#5ab549 152px,#5bb649 160px,#5cb748 168px,#5eb748 176px,#5fb847 184px,#60b946 192px,#62b946 200px,#63ba45 208px,#64bb45 216px,#65bb44 224px,#67bb43 232px,#68bc43 240px,#69bc42 248px,#6abc41 256px,#6bbd40 264px,#6cbd3f 272px,#6dbd3f 280px,#6dbd3e 288px,#6ebc3d 296px,#6fbc3c 304px,#70bc3b 312px,#71bc39 320px,#72bb38 328px,#72bb37 336px,#73ba36 344px,#74b934 352px,#75b933 360px,#76b831 368px,#77b730 376px,#78b62e 384px)"></i><i style="top:13px;background:linear-gradient(90deg,#50b24f 8px,#51b14f 16px,#51b14f 24px,#51b14e 32px,#52b14e 40px,#52b14e 48px,#52b04e 56px,#52b14e 64px,#53b14d 72px,#53b14d 80px,#53b14d 88px,#54b24c 96px,#55b24c 104px,#55b24c 112px,#56b34b 120px,#57b44b 128px,#58b44a 136px,#59b54a 144px,#5ab549 152px,#5bb649 160px,#5db748 168px,#5eb748 176px,#5fb847 184px,#61b946 192px,#62b946 200px,#63ba45 208px,#64ba45 216px,#66bb44 224px,#67bb43 232px,#68bc43 240px,#69bc42 248px,#6abc41 256px,#6bbd40 264px,#6cbd40 272px,#6dbd3f 280px,#6ebd3e 288px,#6fbc3d 296px,#6fbc3c 304px,#70bc3b 312px,#71bc3a 320px,#72bb38 328px,#73bb37 336px,#74ba36 344px,#75b934 352px,#76b933 360px,#77b831 368px,#78b730 376px,#79b62e 384px)"></i><i style="top:16px;background:linear-gradient(90deg,#50b24f 8px,#51b14f 16px,#51b14f 24px,#51b14e 32px,#52b14e 40px,#52b04e 48px,#52b04e 56px,#52b04e 64px,#53b14d 72px,#53b14d 80px,#53b14d 88px,#54b14d 96px,#54b24c 104px,#55b24c 112px,#56b34b 120px,#57b34b 128px,#58b44a 136px,#59b54a 144px,#5ab549 152px,#5bb649 160px,#5db748 168px,#5eb748 176px,#5fb847 184px,#61b947 192px,#62b946 200px,#63ba45 208px,#65ba45 216px,#66bb44 224px,#67bb44 232px,#68bc43 240px,#69bc42 248px,#6abc41 256px,#6bbd41 264px,#6cbd40 272px,#6dbd3f 280px,#6ebd3e 288px,#6fbc3d 296px,#70bc3c 304px,#70bc3b 312px,#71bb3a 320px,#72bb39 328px,#73ba37 336px,#74ba36 344px,#75b935 352px,#76b933 360px,#77b832 368px,#78b730 376px,#79b62e 384px)"></i><i style="top:19px;background:linear-gradient(90deg,#51b14f 8px,#51b14f 16px,#51b14f 24px,#51b14e 32px,#52b04e 40px,#52b04e 48px,#52b04e 56px,#52b04e 64px,#53b04d 72px,#53b14d 80px,#53b14d 88px,#54b14d 96px,#54b24c 104px,#55b24c 112px,#56b34b 120px,#57b34b 128px,#58b44b 136px,#59b54a 144px,#5ab54a 152px,#5bb649 160px,#5db748 168px,#5eb748 176px,#5fb847 184px,#61b947 192px,#62b946 200px,#64ba46 208px,#65ba45 216px,#66bb44 224px,#67bb44 232px,#69bc43 240px,#6abc42 248px,#6bbc42 256px,#6cbd41 264px,#6dbd40 272px,#6dbd3f 280px,#6ebd3e 288px,#6fbc3d 296px,#70bc3c 304px,#71bc3b 312px,#71bb3a 320px,#72bb39 328px,#73ba37 336px,#74ba36 344px,#75b935 352px,#76b833 360px,#77b832 368px,#78b730 376px,#79b62f 384px)"></i><i style="top:22px;background:linear-gradient(90deg,#51b14f 8px,#51b14f 16px,#51b14f 24px,#51b14e 32px,#52b04e 40px,#52b04e 48px,#52b04e 56px,#52b04e 64px,#53b04d 72px,#53b14d 80px,#53b14d 88px,#54b14d 96px,#54b24c 104px,#55b24c 112px,#56b34c 120px,#57b34b 128px,#58b44b 136px,#59b44a 144px,#5ab54a 152px,#5bb649 160px,#5db649 168px,#5eb748 176px,#60b847 184px,#61b947 192px,#62b946 200px,#64ba46 208px,#65ba45 216px,#66bb45 224px,#68bb44 232px,#69bc43 240px,#6abc43 248px,#6bbc42 256px,#6cbd41 264px,#6dbd40 272px,#6ebd3f 280px,#6fbd3e 288px,#6fbc3d 296px,#70bc3c 304px,#71bc3b 312px,#72bb3a 320px,#73bb39 328px,#73ba38 336px,#74ba36 344px,#75b935 352px,#76b833 360px,#77b832 368px,#78b730 376px,#79b62f 384px)"></i><i style="top:25px;background:linear-gradient(90deg,#51b14f 8px,#51b14f 16px,#51b14f 24px,#51b14f 32px,#52b04e 40px,#52b04e 48px,#52b04e 56px,#52b04e 64px,#53b04e 72px,#53b04d 80px,#53b14d 88px,#54b14d 96px,#54b14c 104px,#55b24c 112px,#56b24c 120px,#57b34b 128px,#58b44b 136px,#59b44a 144px,#5ab54a 152px,#5bb649 160px,#5db649 168px,#5eb748 176px,#60b848 184px,#61b947 192px,#63b946 200px,#64ba46 208px,#65ba45 216px,#67bb45 224px,#68bb44 232px,#69bc43 240px,#6abc43 248px,#6bbc42 256px,#6cbd41 264px,#6dbd40 272px,#6ebd40 280px,#6fbd3f 288px,#70bc3e 296px,#70bc3d 304px,#71bc3c 312px,#72bb3a 320px,#73bb39 328px,#74ba38 336px,#75ba36 344px,#75b935 352px,#76b834 360px,#78b732 368px,#79b630 376px,#7ab62f 384px)"></i><i style="top:28px;background:linear-gradient(90deg,#51b14f 8px,#51b14f 16px,#51b14f 24px,#51b04f 32px,#52b04e 40px,#52b04e 48px,#52b04e 56px,#52b04e 64px,#52b04e 72px,#53b04d 80px,#53b14d 88px,#54b14d 96px,#54b14d 104px,#55b24c 112px,#56b24c 120px,#57b34b 128px,#58b44b 136px,#59b44a 144px,#5ab54a 152px,#5bb649 160px,#5db649 168px,#5eb748 176px,#60b848 184px,#61b847 192px,#63b947 200px,#64ba46 208px,#66ba45 216px,#67bb45 224px,#68bb44 232px,#6abc44 240px,#6bbc43 248px,#6cbc42 256px,#6dbd41 264px,#6ebd41 272px,#6ebd40 280px,#6fbd3f 288px,#70bc3e 296px,#71bc3d 304px,#71bc3c 312px,#72bb3b 320px,#73bb39 328px,#74ba38 336px,#75ba37 344px,#76b935 352px,#77b834 360px,#78b732 368px,#79b631 376px,#7ab52f 384px)"></i><i style="top:31px;background:linear-gradient(90deg,#51b150 8px,#51b14f 16px,#51b14f 24px,#51b04f 32px,#52b04e 40px,#52b04e 48px,#52b04e 56px,#52b04e 64px,#52b04e 72px,#53b04d 80px,#53b14d 88px,#53b14d 96px,#54b14d 104px,#55b24c 112px,#56b24c 120px,#56b34b 128px,#58b34b 136px,#59b44a 144px,#5ab54a 152px,#5bb649 160px,#5db649 168px,#5eb748 176px,#60b848 184px,#61b847 192px,#63b947 200px,#64ba46 208px,#66ba45 216px,#67bb45 224px,#69bb44 232px,#6abc44 240px,#6bbc43 248px,#6cbc42 256px,#6dbd42 264px,#6ebd41 272px,#6fbd40 280px,#6fbd3f 288px,#70bc3e 296px,#71bc3d 304px,#72bc3c 312px,#73bb3b 320px,#73bb3a 328px,#74ba38 336px,#75b937 344px,#76b935 352px,#77b834 360px,#78b732 368px,#79b631 376px,#7ab52f 384px)"></i><i style="top:34px;background:linear-gradient(90deg,#51b150 8px,#51b14f 16px,#51b14f 24px,#51b04f 32px,#52b04e 40px,#52b04e 48px,#52b04e 56px,#52b04e 64px,#52b04e 72px,#53b04e 80px,#53b04d 88px,#53b14d 96px,#54b14d 104px,#55b24c 112px,#55b24c 120px,#56b34c 128px,#57b34b 136px,#59b44b 144px,#5ab54a 152px,#5bb549 160px,#5db649 168px,#5eb748 176px,#60b848 184px,#62b847 192px,#63b947 200px,#65ba46 208px,#66ba46 216px,#68bb45 224px,#69bb44 232px,#6abc44 240px,#6bbc43 248px,#6cbc42 256px,#6dbd42 264px,#6ebd41 272px,#6fbd40 280px,#70bd3f 288px,#71bc3e 296px,#71bc3d 304px,#72bc3c 312px,#73bb3b 320px,#74bb3a 328px,#74ba38 336px,#75b937 344px,#76b936 352px,#77b834 360px,#78b733 368px,#79b631 376px,#7bb52f 384px)"></i><i style="top:37px;background:linear-gradient(90deg,#51b150 8px,#51b14f 16px,#51b04f 24px,#52b04f 32px,#52b04e 40px,#52b04e 48px,#52b04e 56px,#52b04e 64px,#52b04e 72px,#53b04e 80px,#53b04d 88px,#53b14d 96px,#54b14d 104px,#54b24d 112px,#55b24c 120px,#56b34c 128px,#57b34b 136px,#59b44b 144px,#5ab54a 152px,#5bb54a 160px,#5db649 168px,#5eb748 176px,#60b848 184px,#62b847 192px,#63b947 200px,#65ba46 208px,#66ba46 216px,#68bb45 224px,#69bb45 232px,#6bbc44 240px,#6cbc43 248px,#6dbc43 256px,#6ebd42 264px,#6fbd41 272px,#6fbd40 280px,#70bd3f 288px,#71bc3e 296px,#72bc3d 304px,#72bc3c 312px,#73bb3b 320px,#74bb3a 328px,#75ba39 336px,#76b937 344px,#76b936 352px,#77b834 360px,#79b733 368px,#7ab631 376px,#7bb52f 384px)"></i><i style="top:40px;background:linear-gradient(90deg,#51b150 8px,#51b14f 16px,#51b04f 24px,#52b04f 32px,#52b04e 40px,#52b04e 48px,#52b04e 56px,#52b04e 64px,#52b04e 72px,#52b04e 80px,#53b04d 88px,#53b14d 96px,#54b14d 104px,#54b14d 112px,#55b24c 120px,#56b34c 128px,#57b34b 136px,#59b44b 144px,#5ab54a 152px,#5bb54a 160px,#5db649 168px,#5fb749 176px,#60b848 184px,#62b847 192px,#64b947 200px,#65ba46 208px,#67ba46 216px,#68bb45 224px,#6abc45 232px,#6bbc44 240px,#6cbc43 248px,#6dbd43 256px,#6ebd42 264px,#6fbd41 272px,#70bd40 280px,#70bd40 288px,#71bc3f 296px,#72bc3e 304px,#73bc3d 312px,#73bb3b 320px,#74bb3a 328px,#75ba39 336px,#76b937 344px,#77b836 352px,#78b834 360px,#79b733 368px,#7ab631 376px,#7bb530 384px)"></i><i style="top:43px;background:linear-gradient(90deg,#51b150 8px,#51b150 16px,#51b04f 24px,#52b04f 32px,#52b04e 40px,#52b04e 48px,#52b04e 56px,#52b04e 64px,#52b04e 72px,#52b04e 80px,#53b04e 88px,#53b14d 96px,#54b14d 104px,#54b14d 112px,#55b24c 120px,#56b24c 128px,#57b34b 136px,#58b44b 144px,#5ab44a 152px,#5bb54a 160px,#5db649 168px,#5fb749 176px,#60b848 184px,#62b848 192px,#64b947 200px,#65ba46 208px,#67ba46 216px,#69bb45 224px,#6abc45 232px,#6bbc44 240px,#6cbc44 248px,#6dbd43 256px,#6ebd42 264px,#6fbd41 272px,#70bd41 280px,#71bd40 288px,#71bc3f 296px,#72bc3e 304px,#73bc3d 312px,#74bb3c 320px,#74ba3a 328px,#75ba39 336px,#76b938 344px,#77b836 352px,#78b735 360px,#79b733 368px,#7ab631 376px,#7bb530 384px)"></i><i style="top:46px;background:linear-gradient(90deg,#51b150 8px,#51b150 16px,#51b04f 24px,#52b04f 32px,#52b04e 40px,#52b04e 48px,#52b04e 56px,#52b04e 64px,#52b04e 72px,#52b04e 80px,#53b04e 88px,#53b04d 96px,#53b14d 104px,#54b14d 112px,#55b24c 120px,#56b24c 128px,#57b34b 136px,#58b44b 144px,#5ab44a 152px,#5bb54a 160px,#5db649 168px,#5fb749 176px,#60b848 184px,#62b848 192px,#64b947 200px,#66ba47 208px,#67ba46 216px,#69bb46 224px,#6abc45 232px,#6cbc44 240px,#6dbc44 248px,#6ebd43 256px,#6fbd42 264px,#70bd42 272px,#70bd41 280px,#71bd40 288px,#72bc3f 296px,#72bc3e 304px,#73bc3d 312px,#74bb3c 320px,#75ba3a 328px,#75ba39 336px,#76b938 344px,#77b836 352px,#78b735 360px,#79b633 368px,#7bb531 376px,#7cb430 384px)"></i><i style="top:49px;background:linear-gradient(90deg,#51b150 8px,#51b050 16px,#51b04f 24px,#52b04f 32px,#52b04e 40px,#52b04e 48px,#52b04e 56px,#52b04e 64px,#52b04e 72px,#52b04e 80px,#52b04e 88px,#53b04e 96px,#53b14d 104px,#54b14d 112px,#55b24c 120px,#56b24c 128px,#57b34b 136px,#58b44b 144px,#5ab44a 152px,#5bb54a 160px,#5db649 168px,#5fb749 176px,#61b848 184px,#62b848 192px,#64b947 200px,#66ba47 208px,#68ba46 216px,#69bb46 224px,#6bbc45 232px,#6cbc44 240px,#6dbc44 248px,#6ebd43 256px,#6fbd43 264px,#70bd42 272px,#71bd41 280px,#71bd40 288px,#72bc3f 296px,#73bc3e 304px,#73bb3d 312px,#74bb3c 320px,#75ba3b 328px,#76ba39 336px,#77b938 344px,#78b836 352px,#79b735 360px,#7ab633 368px,#7bb532 376px,#7cb430 384px)"></i><i style="top:52px;background:linear-gradient(90deg,#51b050 8px,#51b050 16px,#51b04f 24px,#52b04f 32px,#52b04e 40px,#52b04e 48px,#52b04e 56px,#52b04e 64px,#52b04e 72px,#52b04e 80px,#52b04e 88px,#53b04e 96px,#53b14d 104px,#54b14d 112px,#55b24d 120px,#56b24c 128px,#57b34b 136px,#58b34b 144px,#5ab44a 152px,#5bb54a 160px,#5db649 168px,#5fb749 176px,#61b748 184px,#63b848 192px,#64b947 200px,#66ba47 208px,#68ba46 216px,#6abb46 224px,#6bbc45 232px,#6cbc45 240px,#6ebc44 248px,#6fbd43 256px,#70bd43 264px,#70bd42 272px,#71bd41 280px,#72bd40 288px,#72bc3f 296px,#73bc3e 304px,#74bb3d 312px,#74bb3c 320px,#75ba3b 328px,#76ba39 336px,#77b938 344px,#78b837 352px,#79b735 360px,#7ab633 368px,#7bb532 376px,#7cb430 384px)"></i><i style="top:55px;background:linear-gradient(90deg,#51b050 8px,#51b050 16px,#51b04f 24px,#52b04f 32px,#52b04f 40px,#52b04e 48px,#52b04e 56px,#52b04e 64px,#52b04e 72px,#52b04e 80px,#52b04e 88px,#52b04e 96px,#53b14d 104px,#54b14d 112px,#55b14d 120px,#56b24c 128px,#57b34b 136px,#58b34b 144px,#5ab44a 152px,#5bb54a 160px,#5db649 168px,#5fb749 176px,#61b748 184px,#63b848 192px,#65b947 200px,#66ba47 208px,#68bb46 216px,#6abb46 224px,#6bbc45 232px,#6dbc45 240px,#6ebc44 248px,#6fbd44 256px,#70bd43 264px,#71bd42 272px,#71bd41 280px,#72bd40 288px,#73bc40 296px,#73bc3f 304px,#74bb3d 312px,#75bb3c 320px,#75ba3b 328px,#76ba3a 336px,#77b938 344px,#78b837 352px,#79b735 360px,#7ab634 368px,#7bb532 376px,#7db430 384px)"></i><i style="top:58px;background:linear-gradient(90deg,#51b050 8px,#51b050 16px,#51b050 24px,#51b04f 32px,#52b04f 40px,#52b04e 48px,#52b04e 56px,#52b04e 64px,#52b04e 72px,#52b04e 80px,#52b04e 88px,#52b04e 96px,#53b04e 104px,#54b14d 112px,#54b14d 120px,#55b24c 128px,#57b34c 136px,#58b34b 144px,#5ab44a 152px,#5bb54a 160px,#5db649 168px,#5fb749 176px,#61b748 184px,#63b848 192px,#65b947 200px,#67ba47 208px,#69bb46 216px,#6abb46 224px,#6cbc45 232px,#6dbc45 240px,#6ebd44 248px,#6fbd44 256px,#70bd43 264px,#71bd42 272px,#72bd42 280px,#72bd41 288px,#73bc40 296px,#74bc3f 304px,#74bb3e 312px,#75bb3c 320px,#76ba3b 328px,#77b93a 336px,#77b938 344px,#78b837 352px,#79b735 360px,#7bb634 368px,#7cb532 376px,#7db430 384px)"></i><i style="top:61px;background:linear-gradient(90deg,#51b051 8px,#51b050 16px,#51b050 24px,#51b04f 32px,#52b04f 40px,#52b04f 48px,#52b04e 56px,#52b04e 64px,#52b04e 72px,#52b04e 80px,#52b04e 88px,#52b04e 96px,#53b04e 104px,#53b14d 112px,#54b14d 120px,#55b24c 128px,#57b34c 136px,#58b34b 144px,#5ab44a 152px,#5bb54a 160px,#5db649 168px,#5fb649 176px,#61b748 184px,#63b848 192px,#65b947 200px,#67ba47 208px,#69bb46 216px,#6bbb46 224px,#6cbc45 232px,#6ebc45 240px,#6fbd44 248px,#70bd44 256px,#71bd43 264px,#72bd42 272px,#72bd42 280px,#73bd41 288px,#73bc40 296px,#74bc3f 304px,#75bb3e 312px,#75bb3d 320px,#76ba3b 328px,#77b93a 336px,#78b938 344px,#79b837 352px,#7ab735 360px,#7bb634 368px,#7cb532 376px,#7db330 384px)"></i><i style="top:64px;background:linear-gradient(90deg,#51b051 8px,#51b050 16px,#51b050 24px,#51b04f 32px,#52b04f 40px,#52b04f 48px,#52b04e 56px,#52b04e 64px,#52b04e 72px,#52b04e 80px,#52b04e 88px,#52b04e 96px,#53b04e 104px,#53b14d 112px,#54b14d 120px,#55b24c 128px,#56b24c 136px,#58b34b 144px,#59b44a 152px,#5bb54a 160px,#5db649 168px,#5fb649 176px,#61b748 184px,#63b848 192px,#65b948 200px,#67ba47 208px,#69bb47 216px,#6bbb46 224px,#6dbc46 232px,#6ebc45 240px,#6fbd45 248px,#70bd44 256px,#71bd43 264px,#72bd43 272px,#73bd42 280px,#73bd41 288px,#74bc40 296px,#74bc3f 304px,#75bb3e 312px,#76bb3d 320px,#76ba3b 328px,#77b93a 336px,#78b839 344px,#79b737 352px,#7ab736 360px,#7bb534 368px,#7cb432 376px,#7eb330 384px)"></i><i style="top:67px;background:linear-gradient(90deg,#51b051 8px,#51b050 16px,#51b050 24px,#51b04f 32px,#51b04f 40px,#52b04f 48px,#52b04f 56px,#52b04f 64px,#52b04e 72px,#52b04e 80px,#52b04e 88px,#52b04e 96px,#52b04e 104px,#53b14d 112px,#54b14d 120px,#55b24c 128px,#56b24c 136px,#58b34b 144px,#59b44b 152px,#5bb54a 160px,#5db649 168px,#5fb649 176px,#61b748 184px,#63b848 192px,#65b948 200px,#68ba47 208px,#6abb47 216px,#6bbb46 224px,#6dbc46 232px,#6ebc45 240px,#70bd45 248px,#71bd44 256px,#72bd43 264px,#72bd43 272px,#73bd42 280px,#74bd41 288px,#74bc40 296px,#75bc3f 304px,#75bb3e 312px,#76bb3d 320px,#77ba3c 328px,#77b93a 336px,#78b839 344px,#79b737 352px,#7ab636 360px,#7bb534 368px,#7db432 376px,#7eb331 384px)"></i><i style="top:70px;background:linear-gradient(90deg,#51b051 8px,#51b051 16px,#51b050 24px,#51b050 32px,#51b04f 40px,#51b04f 48px,#51b04f 56px,#51af4f 64px,#51af4f 72px,#51b04e 80px,#52b04e 88px,#52b04e 96px,#52b04e 104px,#53b14d 112px,#54b14d 120px,#55b24c 128px,#56b24c 136px,#58b34b 144px,#59b44b 152px,#5bb54a 160px,#5db549 168px,#5fb649 176px,#61b749 184px,#63b848 192px,#66b948 200px,#68ba47 208px,#6abb47 216px,#6cbb46 224px,#6dbc46 232px,#6fbc45 240px,#70bd45 248px,#71bd44 256px,#72bd44 264px,#73bd43 272px,#73bd42 280px,#74bd41 288px,#74bc40 296px,#75bc3f 304px,#76bb3e 312px,#76bb3d 320px,#77ba3c 328px,#78b93a 336px,#79b839 344px,#7ab737 352px,#7bb636 360px,#7cb534 368px,#7db432 376px,#7eb331 384px)"></i><i style="top:73px;background:linear-gradient(90deg,#51b051 8px,#51b051 16px,#51b050 24px,#51b050 32px,#51b04f 40px,#51af4f 48px,#51af4f 56px,#51af4f 64px,#51af4f 72px,#51af4f 80px,#51b04e 88px,#52b04e 96px,#52b04e 104px,#53b04d 112px,#54b14d 120px,#55b24c 128px,#56b24c 136px,#58b34b 144px,#59b44b 152px,#5bb54a 160px,#5db54a 168px,#5fb649 176px,#61b749 184px,#64b848 192px,#66b948 200px,#68ba47 208px,#6abb47 216px,#6cbb46 224px,#6ebc46 232px,#6fbc45 240px,#71bd45 248px,#72bd44 256px,#73bd44 264px,#73bd43 272px,#74bd42 280px,#74bd41 288px,#75bc41 296px,#75bc40 304px,#76bb3e 312px,#76bb3d 320px,#77ba3c 328px,#78b93b 336px,#79b839 344px,#7ab737 352px,#7bb636 360px,#7cb534 368px,#7db432 376px,#7fb331 384px)"></i><i style="top:76px;background:linear-gradient(90deg,#51b051 8px,#51b051 16px,#51b050 24px,#51b050 32px,#51af50 40px,#51af4f 48px,#51af4f 56px,#51af4f 64px,#51af4f 72px,#51af4f 80px,#51b04e 88px,#52b04e 96px,#52b04e 104px,#53b04d 112px,#54b14d 120px,#55b14c 128px,#56b24c 136px,#57b34b 144px,#59b44b 152px,#5bb44a 160px,#5db54a 168px,#5fb649 176px,#61b749 184px,#64b848 192px,#66b948 200px,#68ba47 208px,#6bbb47 216px,#6dbb46 224px,#6ebc46 232px,#70bd45 240px,#71bd45 248px,#72bd44 256px,#73bd44 264px,#74bd43 272px,#74bd42 280px,#75bd42 288px,#75bc41 296px,#76bc40 304px,#76bb3f 312px,#77ba3d 320px,#77ba3c 328px,#78b93b 336px,#79b839 344px,#7ab738 352px,#7bb636 360px,#7cb534 368px,#7eb432 376px,#7fb231 384px)"></i><i style="top:79px;background:linear-gradient(90deg,#51b052 8px,#51b051 16px,#51b051 24px,#51af50 32px,#51af50 40px,#51af4f 48px,#51af4f 56px,#51af4f 64px,#51af4f 72px,#51af4f 80px,#51af4e 88px,#52b04e 96px,#52b04e 104px,#53b04d 112px,#53b14d 120px,#55b14c 128px,#56b24c 136px,#57b34b 144px,#59b34b 152px,#5bb44a 160px,#5db54a 168px,#5fb649 176px,#61b749 184px,#64b848 192px,#66b948 200px,#69ba47 208px,#6bbb47 216px,#6dbc46 224px,#6fbc46 232px,#70bd46 240px,#72bd45 248px,#73bd45 256px,#73bd44 264px,#74bd43 272px,#75bd43 280px,#75bd42 288px,#75bc41 296px,#76bc40 304px,#76bb3f 312px,#77ba3e 320px,#78ba3c 328px,#79b93b 336px,#79b839 344px,#7ab738 352px,#7cb636 360px,#7db534 368px,#7eb333 376px,#7fb231 384px)"></i><i style="top:82px;background:linear-gradient(90deg,#50b052 8px,#51b051 16px,#51af51 24px,#51af50 32px,#51af50 40px,#51af50 48px,#51af4f 56px,#51af4f 64px,#51af4f 72px,#51af4f 80px,#51af4f 88px,#51b04e 96px,#52b04e 104px,#52b04d 112px,#53b14d 120px,#54b14c 128px,#56b24c 136px,#57b34b 144px,#59b34b 152px,#5bb44a 160px,#5db54a 168px,#5fb649 176px,#61b749 184px,#64b848 192px,#67b948 200px,#69ba47 208px,#6bbb47 216px,#6ebc47 224px,#6fbc46 232px,#71bd46 240px,#72bd45 248px,#73bd45 256px,#74bd44 264px,#75bd44 272px,#75bd43 280px,#75bd42 288px,#76bc41 296px,#76bc40 304px,#77bb3f 312px,#77ba3e 320px,#78ba3c 328px,#79b93b 336px,#7ab839 344px,#7bb738 352px,#7cb636 360px,#7db434 368px,#7eb333 376px,#80b231 384px)"></i><i style="top:85px;background:linear-gradient(90deg,#50b052 8px,#51b052 16px,#51af51 24px,#51af51 32px,#51af50 40px,#51af50 48px,#51af50 56px,#51af4f 64px,#51af4f 72px,#51af4f 80px,#51af4f 88px,#51b04e 96px,#52b04e 104px,#52b04d 112px,#53b14d 120px,#54b14c 128px,#55b24c 136px,#57b34b 144px,#59b34b 152px,#5ab44a 160px,#5db54a 168px,#5fb649 176px,#62b749 184px,#64b848 192px,#67b948 200px,#69ba47 208px,#6cbb47 216px,#6ebc47 224px,#70bc46 232px,#72bd46 240px,#73bd45 248px,#74bd45 256px,#74bd44 264px,#75bd44 272px,#75bd43 280px,#76bd42 288px,#76bc41 296px,#77bc40 304px,#77bb3f 312px,#78ba3e 320px,#78b93c 328px,#79b93b 336px,#7ab839 344px,#7bb638 352px,#7cb536 360px,#7eb434 368px,#7fb333 376px,#80b231 384px)"></i><i style="top:88px;background:linear-gradient(90deg,#50b052 8px,#50af52 16px,#51af51 24px,#51af51 32px,#51af50 40px,#51af50 48px,#51af50 56px,#51af4f 64px,#51af4f 72px,#51af4f 80px,#51af4f 88px,#51af4e 96px,#52b04e 104px,#52b04d 112px,#53b14d 120px,#54b14c 128px,#55b24c 136px,#57b24b 144px,#58b34b 152px,#5ab44a 160px,#5db54a 168px,#5fb649 176px,#62b749 184px,#64b848 192px,#67b948 200px,#6aba47 208px,#6cbb47 216px,#6fbc47 224px,#70bc46 232px,#72bd46 240px,#73bd45 248px,#74bd45 256px,#75bd44 264px,#75bd44 272px,#76bd43 280px,#76bd42 288px,#76bc41 296px,#77bc40 304px,#77bb3f 312px,#78ba3e 320px,#79b93d 328px,#79b83b 336px,#7ab73a 344px,#7bb638 352px,#7db536 360px,#7eb435 368px,#7fb333 376px,#81b131 384px)"></i><i style="top:91px;background:linear-gradient(90deg,#50af52 8px,#50af52 16px,#51af52 24px,#51af51 32px,#51af51 40px,#51af50 48px,#51af50 56px,#51af50 64px,#51af4f 72px,#51af4f 80px,#51af4f 88px,#51af4e 96px,#52b04e 104px,#52b04d 112px,#53b04d 120px,#54b14c 128px,#55b24c 136px,#56b24b 144px,#58b34b 152px,#5ab44a 160px,#5cb54a 168px,#5fb649 176px,#62b749 184px,#64b848 192px,#67b948 200px,#6aba47 208px,#6dbb47 216px,#6fbc47 224px,#71bc46 232px,#73bd46 240px,#74bd45 248px,#75bd45 256px,#76bd45 264px,#76bd44 272px,#76bd43 280px,#77bd42 288px,#77bc42 296px,#77bc40 304px,#78bb3f 312px,#78ba3e 320px,#79b93d 328px,#7ab83b 336px,#7bb73a 344px,#7cb638 352px,#7db536 360px,#7eb435 368px,#80b233 376px,#81b131 384px)"></i><i style="top:94px;background:linear-gradient(90deg,#50af53 8px,#50af52 16px,#51af52 24px,#51af51 32px,#51af51 40px,#51af51 48px,#51af50 56px,#51af50 64px,#51af4f 72px,#51af4f 80px,#51af4f 88px,#51af4e 96px,#51b04e 104px,#52b04d 112px,#53b04d 120px,#54b14c 128px,#55b24c 136px,#56b24b 144px,#58b34b 152px,#5ab44a 160px,#5cb54a 168px,#5fb649 176px,#62b749 184px,#64b848 192px,#67b948 200px,#6aba48 208px,#6dbb47 216px,#70bc47 224px,#72bd46 232px,#73bd46 240px,#75bd46 248px,#75be45 256px,#76be45 264px,#76bd44 272px,#77bd43 280px,#77bd43 288px,#77bc42 296px,#78bc41 304px,#78bb3f 312px,#78ba3e 320px,#79b93d 328px,#7ab83b 336px,#7bb73a 344px,#7cb638 352px,#7db536 360px,#7fb435 368px,#80b233 376px,#81b131 384px)"></i><i style="top:97px;background:linear-gradient(90deg,#50af53 8px,#50af53 16px,#50af52 24px,#51af52 32px,#51af51 40px,#51af51 48px,#51af50 56px,#51af50 64px,#51af50 72px,#51af4f 80px,#51af4f 88px,#51af4e 96px,#51b04e 104px,#52b04d 112px,#52b04d 120px,#53b14c 128px,#55b14c 136px,#56b24b 144px,#58b34b 152px,#5ab44a 160px,#5cb54a 168px,#5fb649 176px,#61b749 184px,#65b848 192px,#68b948 200px,#6bba48 208px,#6ebb47 216px,#70bc47 224px,#72bd46 232px,#74bd46 240px,#75bd46 248px,#76be45 256px,#77be45 264px,#77bd44 272px,#77bd44 280px,#77bd43 288px,#78bc42 296px,#78bb41 304px,#78bb40 312px,#79ba3e 320px,#7ab93d 328px,#7ab83b 336px,#7bb73a 344px,#7cb638 352px,#7eb536 360px,#7fb335 368px,#80b233 376px,#82b131 384px)"></i><i style="top:100px;background:linear-gradient(90deg,#50af53 8px,#50af53 16px,#50af52 24px,#50af52 32px,#51af51 40px,#51af51 48px,#51af51 56px,#51af50 64px,#51af50 72px,#51af4f 80px,#51af4f 88px,#51af4e 96px,#51b04e 104px,#52b04d 112px,#52b04d 120px,#53b14c 128px,#54b14c 136px,#56b24b 144px,#57b34b 152px,#59b44a 160px,#5cb54a 168px,#5eb649 176px,#61b749 184px,#65b848 192px,#68b948 200px,#6bba48 208px,#6ebb47 216px,#71bc47 224px,#73bd46 232px,#75bd46 240px,#76be46 248px,#77be45 256px,#77be45 264px,#77bd44 272px,#78bd44 280px,#78bd43 288px,#78bc42 296px,#78bb41 304px,#79bb40 312px,#79ba3e 320px,#7ab93d 328px,#7bb83c 336px,#7cb73a 344px,#7db638 352px,#7eb436 360px,#7fb335 368px,#81b233 376px,#82b031 384px)"></i><i style="top:103px;background:linear-gradient(90deg,#50af53 8px,#50af53 16px,#50af53 24px,#50af52 32px,#50af52 40px,#50af51 48px,#50af51 56px,#50af50 64px,#50af50 72px,#50af4f 80px,#51af4f 88px,#51af4e 96px,#51af4e 104px,#51b04d 112px,#52b04d 120px,#53b14c 128px,#54b14c 136px,#55b24b 144px,#57b34b 152px,#59b44a 160px,#5bb54a 168px,#5eb649 176px,#61b749 184px,#65b848 192px,#68b948 200px,#6bba48 208px,#6ebb47 216px,#71bc47 224px,#74bd46 232px,#75bd46 240px,#76be46 248px,#77be45 256px,#78be45 264px,#78bd44 272px,#78bd44 280px,#78bd43 288px,#78bc42 296px,#78bb41 304px,#79bb40 312px,#79ba3f 320px,#7ab93d 328px,#7bb83c 336px,#7cb73a 344px,#7db538 352px,#7fb436 360px,#80b335 368px,#81b133 376px,#83b031 384px)"></i><i style="top:106px;background:linear-gradient(90deg,#50af54 8px,#50af53 16px,#50af53 24px,#50af52 32px,#50af52 40px,#50af51 48px,#50af51 56px,#50af51 64px,#50af50 72px,#50af50 80px,#50af4f 88px,#51af4f 96px,#51af4e 104px,#51b04d 112px,#52b04d 120px,#53b14c 128px,#54b14b 136px,#55b24b 144px,#57b34b 152px,#59b34a 160px,#5bb44a 168px,#5eb649 176px,#61b749 184px,#65b849 192px,#68b948 200px,#6cba48 208px,#6fbb47 216px,#72bc47 224px,#74bd47 232px,#76bd46 240px,#77be46 248px,#78be46 256px,#78be45 264px,#78bd45 272px,#78bd44 280px,#78bd43 288px,#79bc42 296px,#79bb41 304px,#79ba40 312px,#7aba3f 320px,#7ab93d 328px,#7bb83c 336px,#7cb63a 344px,#7eb538 352px,#7fb437 360px,#80b335 368px,#82b133 376px,#83b031 384px)"></i><i style="top:109px;background:linear-gradient(90deg,#50af54 8px,#50af54 16px,#50af53 24px,#50af53 32px,#50af52 40px,#50af52 48px,#50af51 56px,#50af51 64px,#50af50 72px,#50af50 80px,#50af4f 88px,#50af4f 96px,#51af4e 104px,#51b04d 112px,#52b04d 120px,#52b04c 128px,#53b14b 136px,#55b24b 144px,#56b24b 152px,#58b34a 160px,#5bb44a 168px,#5eb549 176px,#61b749 184px,#65b849 192px,#68b948 200px,#6cba48 208px,#6fbb47 216px,#72bc47 224px,#75bd47 232px,#77be46 240px,#78be46 248px,#79be46 256px,#79be45 264px,#79be45 272px,#79bd44 280px,#79bd43 288px,#79bc42 296px,#79bb41 304px,#79ba40 312px,#7ab93f 320px,#7bb83d 328px,#7cb73c 336px,#7db63a 344px,#7eb538 352px,#7fb437 360px,#81b235 368px,#82b133 376px,#84af31 384px)"></i><i style="top:112px;background:linear-gradient(90deg,#50af54 8px,#50af54 16px,#50af53 24px,#50af53 32px,#50af52 40px,#50ae52 48px,#50af52 56px,#50af51 64px,#50af50 72px,#50af50 80px,#50af4f 88px,#50af4f 96px,#51af4e 104px,#51b04d 112px,#51b04d 120px,#52b04c 128px,#53b14c 136px,#54b24b 144px,#56b24b 152px,#58b34a 160px,#5ab44a 168px,#5db549 176px,#61b649 184px,#64b849 192px,#68b948 200px,#6cba48 208px,#70bb47 216px,#73bc47 224px,#76bd47 232px,#77be46 240px,#79be46 248px,#79be46 256px,#79be45 264px,#79be45 272px,#79bd44 280px,#79bd43 288px,#79bc43 296px,#79bb41 304px,#7aba40 312px,#7ab93f 320px,#7bb83d 328px,#7cb73c 336px,#7db63a 344px,#7eb538 352px,#80b337 360px,#81b235 368px,#83b133 376px,#84af31 384px)"></i><i style="top:115px;background:linear-gradient(90deg,#50af55 8px,#50af54 16px,#50af54 24px,#50ae53 32px,#50ae53 40px,#50ae52 48px,#50ae52 56px,#50ae51 64px,#50af51 72px,#50af50 80px,#50af4f 88px,#50af4f 96px,#50af4e 104px,#51af4d 112px,#51b04d 120px,#52b04c 128px,#53b14c 136px,#54b14b 144px,#56b24b 152px,#58b34a 160px,#5ab44a 168px,#5db54a 176px,#61b649 184px,#64b849 192px,#68b948 200px,#6dba48 208px,#70bb47 216px,#74bc47 224px,#76bd47 232px,#78be46 240px,#79be46 248px,#7abe46 256px,#7abe45 264px,#7abe45 272px,#7abd44 280px,#79bc44 288px,#79bc43 296px,#7abb42 304px,#7aba40 312px,#7bb93f 320px,#7bb83d 328px,#7cb73c 336px,#7eb63a 344px,#7fb538 352px,#80b337 360px,#82b235 368px,#83b033 376px,#85af31 384px)"></i><i style="top:118px;background:linear-gradient(90deg,#4faf55 8px,#50af55 16px,#50ae54 24px,#50ae53 32px,#50ae53 40px,#50ae53 48px,#50ae52 56px,#50ae52 64px,#50af51 72px,#50af50 80px,#50af50 88px,#50af4f 96px,#50af4e 104px,#51af4d 112px,#51b04d 120px,#52b04c 128px,#52b14c 136px,#54b14b 144px,#55b24b 152px,#57b34a 160px,#5ab44a 168px,#5db54a 176px,#60b649 184px,#64b849 192px,#69b948 200px,#6dba48 208px,#71bc47 216px,#74bd47 224px,#77bd47 232px,#79be46 240px,#7abe46 248px,#7bbe46 256px,#7bbe45 264px,#7abe45 272px,#7abd44 280px,#7abc44 288px,#7abc43 296px,#7abb42 304px,#7aba40 312px,#7bb93f 320px,#7cb83d 328px,#7db73c 336px,#7eb63a 344px,#7fb438 352px,#81b336 360px,#82b235 368px,#84b033 376px,#86ae31 384px)"></i><i style="top:121px;background:linear-gradient(90deg,#4faf55 8px,#4fae55 16px,#50ae54 24px,#50ae54 32px,#50ae53 40px,#50ae53 48px,#50ae52 56px,#50ae52 64px,#50ae51 72px,#50af50 80px,#50af50 88px,#50af4f 96px,#50af4e 104px,#50af4e 112px,#51b04d 120px,#51b04c 128px,#52b14c 136px,#53b14b 144px,#55b24b 152px,#57b34a 160px,#59b44a 168px,#5cb54a 176px,#60b649 184px,#64b849 192px,#69b948 200px,#6dba48 208px,#71bc47 216px,#75bd47 224px,#78bd47 232px,#7abe46 240px,#7bbe46 248px,#7bbe46 256px,#7bbe46 264px,#7bbe45 272px,#7abd45 280px,#7abc44 288px,#7abc43 296px,#7abb42 304px,#7bba40 312px,#7bb93f 320px,#7cb83e 328px,#7db73c 336px,#7eb53a 344px,#80b438 352px,#81b336 360px,#83b135 368px,#85b033 376px,#86ae31 384px)"></i><i style="top:124px;background:linear-gradient(90deg,#4fae56 8px,#4fae55 16px,#4fae55 24px,#50ae54 32px,#50ae54 40px,#50ae53 48px,#50ae53 56px,#50ae52 64px,#50ae51 72px,#50af51 80px,#50af50 88px,#50af4f 96px,#50af4e 104px,#50af4e 112px,#51b04d 120px,#51b04c 128px,#52b04c 136px,#53b14b 144px,#54b24b 152px,#56b34b 160px,#59b44a 168px,#5cb54a 176px,#5fb649 184px,#64b749 192px,#69b948 200px,#6dba48 208px,#72bc47 216px,#76bd47 224px,#79be47 232px,#7bbe46 240px,#7cbe46 248px,#7cbe46 256px,#7cbe46 264px,#7bbe45 272px,#7bbd45 280px,#7abc44 288px,#7abc43 296px,#7abb42 304px,#7bba41 312px,#7cb93f 320px,#7cb83e 328px,#7eb63c 336px,#7fb53a 344px,#80b438 352px,#82b236 360px,#83b134 368px,#85af32 376px,#87ae30 384px)"></i><i style="top:127px;background:linear-gradient(90deg,#4fae56 8px,#4fae56 16px,#4fae55 24px,#4fae54 32px,#50ae54 40px,#50ae53 48px,#50ae53 56px,#50ae52 64px,#50ae52 72px,#50af51 80px,#50af50 88px,#50af4f 96px,#50af4f 104px,#50af4e 112px,#50b04d 120px,#51b04c 128px,#51b04c 136px,#52b14b 144px,#54b24b 152px,#55b24b 160px,#58b34a 168px,#5bb54a 176px,#5fb64a 184px,#64b749 192px,#69b948 200px,#6eba48 208px,#73bc47 216px,#77bd47 224px,#7abe47 232px,#7cbe46 240px,#7dbe46 248px,#7dbe46 256px,#7cbe46 264px,#7cbe45 272px,#7bbd45 280px,#7bbc44 288px,#7bbb43 296px,#7bbb42 304px,#7bba41 312px,#7cb93f 320px,#7db73e 328px,#7eb63c 336px,#7fb53a 344px,#81b438 352px,#82b236 360px,#84b134 368px,#86af32 376px,#88ad30 384px)"></i><i style="top:130px;background:linear-gradient(90deg,#4fae56 8px,#4fae56 16px,#4fae55 24px,#4fae55 32px,#4fae54 40px,#4fae54 48px,#4fae53 56px,#4fae53 64px,#4fae52 72px,#4fae51 80px,#4faf50 88px,#50af50 96px,#50af4f 104px,#50af4e 112px,#50af4d 120px,#50b04c 128px,#51b04c 136px,#52b14b 144px,#53b14b 152px,#55b24b 160px,#57b34b 168px,#5ab44a 176px,#5eb64a 184px,#63b749 192px,#68b948 200px,#6eba48 208px,#73bc47 216px,#77bd47 224px,#7bbe46 232px,#7dbe46 240px,#7dbf46 248px,#7dbe46 256px,#7dbe46 264px,#7cbe45 272px,#7bbd45 280px,#7bbc44 288px,#7bbb43 296px,#7bba42 304px,#7bb941 312px,#7cb83f 320px,#7db73e 328px,#7eb63c 336px,#80b53a 344px,#81b338 352px,#83b236 360px,#85b034 368px,#86af32 376px,#88ad30 384px)"></i><i style="top:133px;background:linear-gradient(90deg,#4fae57 8px,#4fae56 16px,#4fae56 24px,#4fae55 32px,#4fae55 40px,#4fae54 48px,#4fae54 56px,#4fae53 64px,#4fae52 72px,#4fae51 80px,#4faf51 88px,#4faf50 96px,#4faf4f 104px,#50af4e 112px,#50af4d 120px,#50b04d 128px,#51b04c 136px,#51b14c 144px,#53b14b 152px,#54b24b 160px,#57b34b 168px,#5ab44a 176px,#5eb64a 184px,#63b749 192px,#68b949 200px,#6eba48 208px,#74bc47 216px,#78bd47 224px,#7cbe46 232px,#7ebe46 240px,#7ebf46 248px,#7ebe46 256px,#7dbe46 264px,#7dbd46 272px,#7cbd45 280px,#7bbc44 288px,#7bbb43 296px,#7bba42 304px,#7cb941 312px,#7db83f 320px,#7eb73e 328px,#7fb63c 336px,#80b43a 344px,#82b338 352px,#84b236 360px,#85b034 368px,#87ae32 376px,#89ad30 384px)"></i><i style="top:136px;background:linear-gradient(90deg,#4fae57 8px,#4fae57 16px,#4fae56 24px,#4fae56 32px,#4fae55 40px,#4fae54 48px,#4fae54 56px,#4fae53 64px,#4fae53 72px,#4fae52 80px,#4faf51 88px,#4faf50 96px,#4faf4f 104px,#4faf4e 112px,#4faf4d 120px,#50b04d 128px,#50b04c 136px,#51b04c 144px,#52b14b 152px,#53b24b 160px,#56b34b 168px,#59b44b 176px,#5db54a 184px,#62b749 192px,#68b949 200px,#6eba48 208px,#74bc47 216px,#79bd47 224px,#7dbe46 232px,#7fbf46 240px,#7fbf46 248px,#7fbe46 256px,#7ebe46 264px,#7dbd46 272px,#7cbd45 280px,#7bbc44 288px,#7bbb43 296px,#7bba42 304px,#7cb941 312px,#7db83f 320px,#7eb73e 328px,#7fb63c 336px,#81b43a 344px,#83b338 352px,#84b136 360px,#86b034 368px,#88ae32 376px,#8aac30 384px)"></i><i style="top:139px;background:linear-gradient(90deg,#4eae57 8px,#4fae57 16px,#4fae56 24px,#4fae56 32px,#4fae55 40px,#4fae55 48px,#4fae54 56px,#4fae54 64px,#4fae53 72px,#4fae52 80px,#4faf51 88px,#4faf50 96px,#4faf4f 104px,#4faf4e 112px,#4faf4e 120px,#4fb04d 128px,#50b04c 136px,#50b04c 144px,#51b14c 152px,#53b24b 160px,#55b34b 168px,#58b44b 176px,#5cb54a 184px,#62b74a 192px,#68b849 200px,#6fba48 208px,#75bc47 216px,#7abd47 224px,#7ebe46 232px,#80bf46 240px,#80bf46 248px,#7fbf46 256px,#7ebe46 264px,#7dbd46 272px,#7cbd45 280px,#7cbc44 288px,#7bbb43 296px,#7cba42 304px,#7cb941 312px,#7db83f 320px,#7eb73d 328px,#80b53c 336px,#81b43a 344px,#83b338 352px,#85b136 360px,#87af34 368px,#89ae32 376px,#8aac30 384px)"></i><i style="top:142px;background:linear-gradient(90deg,#4eae58 8px,#4eae57 16px,#4fae57 24px,#4fae56 32px,#4fae56 40px,#4fae55 48px,#4fae55 56px,#4fae54 64px,#4fae53 72px,#4fae52 80px,#4faf51 88px,#4faf50 96px,#4faf50 104px,#4faf4f 112px,#4faf4e 120px,#4faf4d 128px,#4fb04d 136px,#50b04c 144px,#51b14c 152px,#52b14c 160px,#54b24b 168px,#57b34b 176px,#5bb54a 184px,#61b64a 192px,#67b849 200px,#6fba48 208px,#75bc47 216px,#7bbe46 224px,#7fbe46 232px,#81bf46 240px,#81bf46 248px,#80bf46 256px,#7fbe46 264px,#7ebd46 272px,#7dbd45 280px,#7cbc45 288px,#7cbb44 296px,#7cba42 304px,#7db941 312px,#7eb83f 320px,#7fb63d 328px,#80b53c 336px,#82b43a 344px,#84b238 352px,#86b136 360px,#88af34 368px,#89ad32 376px,#8bac30 384px)"></i><i style="top:145px;background:linear-gradient(90deg,#4eae58 8px,#4eae58 16px,#4eae57 24px,#4eae57 32px,#4eae56 40px,#4fae56 48px,#4fae55 56px,#4fae54 64px,#4fae54 72px,#4fae53 80px,#4faf52 88px,#4faf51 96px,#4faf50 104px,#4faf4f 112px,#4faf4e 120px,#4faf4d 128px,#4fb04d 136px,#4fb04c 144px,#50b14c 152px,#51b14c 160px,#53b24c 168px,#56b34b 176px,#5ab54b 184px,#60b64a 192px,#67b849 200px,#6fba48 208px,#76bc47 216px,#7cbe46 224px,#80bf46 232px,#82bf46 240px,#82bf46 248px,#81bf46 256px,#7fbe46 264px,#7ebd46 272px,#7dbc45 280px,#7cbc45 288px,#7cbb44 296px,#7cba42 304px,#7db941 312px,#7eb73f 320px,#7fb63d 328px,#81b53b 336px,#83b33a 344px,#85b238 352px,#86b036 360px,#88af34 368px,#8aad31 376px,#8cab2f 384px)"></i><i style="top:148px;background:linear-gradient(90deg,#4eae59 8px,#4eae58 16px,#4eae58 24px,#4eae57 32px,#4eae57 40px,#4eae56 48px,#4eae55 56px,#4eae55 64px,#4eae54 72px,#4eae53 80px,#4eae52 88px,#4eaf51 96px,#4faf50 104px,#4faf4f 112px,#4eaf4e 120px,#4faf4e 128px,#4fb04d 136px,#4fb04d 144px,#4fb04d 152px,#50b14c 160px,#52b24c 168px,#55b34c 176px,#59b44b 184px,#5fb64a 192px,#66b849 200px,#6fba48 208px,#77bc47 216px,#7dbe46 224px,#81bf46 232px,#83bf46 240px,#83bf46 248px,#81bf46 256px,#80be46 264px,#7ebd46 272px,#7dbc46 280px,#7cbb45 288px,#7cba44 296px,#7db942 304px,#7db841 312px,#7fb73f 320px,#80b63d 328px,#82b53b 336px,#83b339 344px,#85b237 352px,#87b035 360px,#89ae33 368px,#8bac31 376px,#8dab2f 384px)"></i><i style="top:151px;background:linear-gradient(90deg,#4eae59 8px,#4ead59 16px,#4ead58 24px,#4ead58 32px,#4ead57 40px,#4eae56 48px,#4eae56 56px,#4eae55 64px,#4eae54 72px,#4eae53 80px,#4eae52 88px,#4eaf51 96px,#4eaf50 104px,#4eaf4f 112px,#4eaf4f 120px,#4eaf4e 128px,#4eaf4d 136px,#4eb04d 144px,#4fb04d 152px,#50b14d 160px,#51b24c 168px,#54b34c 176px,#58b44b 184px,#5eb64a 192px,#66b849 200px,#6eba48 208px,#77bc47 216px,#7ebe46 224px,#83bf46 232px,#84bf46 240px,#84bf46 248px,#82bf46 256px,#80be46 264px,#7ebd46 272px,#7dbc46 280px,#7cbb45 288px,#7cba44 296px,#7db942 304px,#7eb841 312px,#7fb73f 320px,#81b63d 328px,#82b43b 336px,#84b339 344px,#86b137 352px,#88b035 360px,#8aae33 368px,#8cac31 376px,#8eaa2f 384px)"></i><i style="top:154px;background:linear-gradient(90deg,#4ead5a 8px,#4ead59 16px,#4ead59 24px,#4ead58 32px,#4ead57 40px,#4eae57 48px,#4eae56 56px,#4eae56 64px,#4eae55 72px,#4eae54 80px,#4eae53 88px,#4eaf52 96px,#4eaf51 104px,#4eaf50 112px,#4eaf4f 120px,#4eaf4e 128px,#4eaf4e 136px,#4eb04d 144px,#4eb04d 152px,#4fb14d 160px,#50b14d 168px,#53b24c 176px,#57b44c 184px,#5db54b 192px,#65b749 200px,#6eba48 208px,#78bc47 216px,#7fbe46 224px,#84bf46 232px,#85bf46 240px,#84bf46 248px,#82be46 256px,#80be47 264px,#7ebd46 272px,#7dbc46 280px,#7dbb45 288px,#7dba44 296px,#7db942 304px,#7eb841 312px,#80b73f 320px,#81b63d 328px,#83b43b 336px,#85b339 344px,#87b137 352px,#89af35 360px,#8bae33 368px,#8dac31 376px,#8faa2f 384px)"></i><i style="top:157px;background:linear-gradient(90deg,#4dad5a 8px,#4dad5a 16px,#4dad59 24px,#4dad59 32px,#4ead58 40px,#4ead57 48px,#4eae57 56px,#4eae56 64px,#4eae55 72px,#4eae54 80px,#4eae53 88px,#4eaf52 96px,#4eaf51 104px,#4eaf50 112px,#4eaf4f 120px,#4eaf4f 128px,#4eaf4e 136px,#4db04e 144px,#4eb04e 152px,#4eb04d 160px,#4fb14d 168px,#51b24d 176px,#55b34c 184px,#5bb54b 192px,#64b74a 200px,#6eba48 208px,#78bc47 216px,#81be46 224px,#85bf45 232px,#86bf46 240px,#85bf46 248px,#83be46 256px,#80be47 264px,#7ebd46 272px,#7dbc46 280px,#7dbb45 288px,#7dba44 296px,#7eb942 304px,#7fb840 312px,#80b73f 320px,#82b53d 328px,#84b43b 336px,#86b239 344px,#88b137 352px,#8aaf35 360px,#8cad33 368px,#8eab31 376px,#90a92f 384px)"></i><i style="top:160px;background:linear-gradient(90deg,#4dad5b 8px,#4dad5a 16px,#4dad5a 24px,#4dad59 32px,#4dad58 40px,#4dad58 48px,#4dae57 56px,#4dae57 64px,#4dae56 72px,#4eae55 80px,#4eae54 88px,#4eaf53 96px,#4eaf52 104px,#4eaf51 112px,#4eaf50 120px,#4daf4f 128px,#4daf4e 136px,#4db04e 144px,#4db04e 152px,#4db04e 160px,#4eb14d 168px,#50b24d 176px,#54b34c 184px,#5ab54b 192px,#62b74a 200px,#6db948 208px,#79bc46 216px,#82be45 224px,#87bf45 232px,#88c045 240px,#86bf46 248px,#83be46 256px,#81bd47 264px,#7ebc46 272px,#7dbc46 280px,#7dbb45 288px,#7dba44 296px,#7eb942 304px,#7fb840 312px,#81b63e 320px,#83b53d 328px,#85b43b 336px,#87b239 344px,#89b036 352px,#8baf34 360px,#8dad32 368px,#8fab30 376px,#91a92e 384px)"></i><i style="top:163px;background:linear-gradient(90deg,#4dad5b 8px,#4dad5b 16px,#4dad5a 24px,#4dad5a 32px,#4dad59 40px,#4dad58 48px,#4dad58 56px,#4dae57 64px,#4dae56 72px,#4dae55 80px,#4dae54 88px,#4daf53 96px,#4eaf52 104px,#4eaf51 112px,#4daf50 120px,#4daf4f 128px,#4daf4f 136px,#4daf4e 144px,#4db04e 152px,#4db04e 160px,#4db14e 168px,#4fb14d 176px,#52b34d 184px,#58b44b 192px,#61b64a 200px,#6cb948 208px,#79bc46 216px,#83bf45 224px,#88c045 232px,#89c045 240px,#87bf46 248px,#84be47 256px,#81bd47 264px,#7ebc47 272px,#7dbb46 280px,#7dba45 288px,#7eba43 296px,#7fb842 304px,#80b740 312px,#82b63e 320px,#84b53c 328px,#86b33a 336px,#88b238 344px,#8ab036 352px,#8cae34 360px,#8eac32 368px,#90aa30 376px,#92a82e 384px)"></i><i style="top:166px;background:linear-gradient(90deg,#4dad5c 8px,#4dad5b 16px,#4dad5b 24px,#4dad5a 32px,#4dad5a 40px,#4dad59 48px,#4dad58 56px,#4dae58 64px,#4dae57 72px,#4dae56 80px,#4dae55 88px,#4daf54 96px,#4daf52 104px,#4daf51 112px,#4daf50 120px,#4daf50 128px,#4daf4f 136px,#4caf4f 144px,#4cb04f 152px,#4cb04e 160px,#4cb14e 168px,#4eb14e 176px,#50b24d 184px,#56b44c 192px,#5fb64a 200px,#6bb948 208px,#79bc46 216px,#84bf45 224px,#89c045 232px,#8ac045 240px,#87bf46 248px,#84be47 256px,#81bd47 264px,#7ebc47 272px,#7dbb46 280px,#7dba45 288px,#7eb943 296px,#7fb842 304px,#81b740 312px,#83b63e 320px,#85b53c 328px,#87b33a 336px,#89b138 344px,#8bb036 352px,#8dae34 360px,#8fac32 368px,#91aa30 376px,#93a82e 384px)"></i><i style="top:169px;background:linear-gradient(90deg,#4cad5d 8px,#4cad5c 16px,#4cad5b 24px,#4cad5b 32px,#4cad5a 40px,#4cad5a 48px,#4cad59 56px,#4cae58 64px,#4cae57 72px,#4dae56 80px,#4dae55 88px,#4daf54 96px,#4daf53 104px,#4daf52 112px,#4daf51 120px,#4daf50 128px,#4daf4f 136px,#4caf4f 144px,#4cb04f 152px,#4cb04f 160px,#4cb04e 168px,#4cb14e 176px,#4fb24d 184px,#54b34c 192px,#5db54b 200px,#6ab848 208px,#79bc46 216px,#85bf45 224px,#8bc044 232px,#8bc045 240px,#88bf46 248px,#84be47 256px,#81bd47 264px,#7ebc47 272px,#7dbb46 280px,#7eba45 288px,#7eb943 296px,#80b841 304px,#81b740 312px,#83b63e 320px,#86b43c 328px,#88b33a 336px,#8ab138 344px,#8caf36 352px,#8ead34 360px,#90ab31 368px,#92a92f 376px,#94a72d 384px)"></i><i style="top:172px;background:linear-gradient(90deg,#4cad5d 8px,#4cad5d 16px,#4cad5c 24px,#4cad5b 32px,#4cad5b 40px,#4cad5a 48px,#4cad5a 56px,#4cad59 64px,#4cae58 72px,#4cae57 80px,#4cae56 88px,#4daf55 96px,#4daf53 104px,#4daf52 112px,#4daf51 120px,#4daf50 128px,#4caf50 136px,#4caf4f 144px,#4cb04f 152px,#4bb04f 160px,#4bb04f 168px,#4bb14e 176px,#4db14d 184px,#52b34c 192px,#5ab54b 200px,#68b849 208px,#79bc46 216px,#86bf44 224px,#8cc044 232px,#8bc045 240px,#88bf46 248px,#84bd47 256px,#80bc47 264px,#7ebb47 272px,#7ebb46 280px,#7eba44 288px,#7fb943 296px,#81b841 304px,#82b73f 312px,#84b53d 320px,#87b43b 328px,#89b239 336px,#8bb137 344px,#8daf35 352px,#90ad33 360px,#92ab31 368px,#94a92f 376px,#96a72d 384px)"></i><i style="top:175px;background:linear-gradient(90deg,#4cad5e 8px,#4cad5d 16px,#4cad5d 24px,#4cad5c 32px,#4cad5c 40px,#4cad5b 48px,#4cad5a 56px,#4cad5a 64px,#4cae59 72px,#4cae58 80px,#4cae57 88px,#4caf55 96px,#4daf54 104px,#4daf53 112px,#4daf52 120px,#4daf51 128px,#4caf50 136px,#4caf50 144px,#4baf4f 152px,#4bb04f 160px,#4bb04f 168px,#4bb14e 176px,#4cb14e 184px,#50b24d 192px,#58b44b 200px,#66b749 208px,#78bc46 216px,#87bf44 224px,#8dc044 232px,#8cc045 240px,#88be46 248px,#84bd47 256px,#80bc47 264px,#7ebb47 272px,#7eba46 280px,#7eba44 288px,#80b943 296px,#81b841 304px,#83b73f 312px,#86b53d 320px,#88b43b 328px,#8ab239 336px,#8cb037 344px,#8fae35 352px,#91ad33 360px,#93aa31 368px,#95a82f 376px,#97a62d 384px)"></i><i style="top:178px;background:linear-gradient(90deg,#4cad5f 8px,#4cac5e 16px,#4bac5d 24px,#4bac5d 32px,#4bad5c 40px,#4bad5c 48px,#4bad5b 56px,#4bad5a 64px,#4bae5a 72px,#4bae58 80px,#4cae57 88px,#4caf56 96px,#4caf55 104px,#4daf53 112px,#4daf52 120px,#4daf51 128px,#4caf50 136px,#4caf50 144px,#4baf50 152px,#4bb04f 160px,#4ab04f 168px,#4ab04f 176px,#4bb14e 184px,#4eb24d 192px,#55b34c 200px,#63b749 208px,#77bb46 216px,#87bf44 224px,#8ec043 232px,#8dbf44 240px,#88be46 248px,#84bd47 256px,#80bc47 264px,#7ebb47 272px,#7eba45 280px,#7fb944 288px,#80b942 296px,#82b840 304px,#85b63e 312px,#87b53d 320px,#89b33a 328px,#8bb238 336px,#8eb036 344px,#90ae34 352px,#92ac32 360px,#94aa30 368px,#96a82e 376px,#98a62c 384px)"></i><i style="top:181px;background:linear-gradient(90deg,#4bac5f 8px,#4bac5f 16px,#4bac5e 24px,#4bac5e 32px,#4bac5d 40px,#4bad5d 48px,#4bad5c 56px,#4bad5b 64px,#4bad5a 72px,#4bae59 80px,#4bae58 88px,#4cae57 96px,#4caf55 104px,#4caf54 112px,#4daf53 120px,#4caf52 128px,#4caf51 136px,#4caf50 144px,#4baf50 152px,#4bb050 160px,#4ab04f 168px,#4ab04f 176px,#4ab14e 184px,#4cb14d 192px,#52b34c 200px,#60b64a 208px,#75ba46 216px,#87be44 224px,#8ec043 232px,#8ebf44 240px,#89be46 248px,#83bd47 256px,#80bb47 264px,#7ebb46 272px,#7fba45 280px,#80b944 288px,#81b842 296px,#83b740 304px,#86b63e 312px,#88b53c 320px,#8bb33a 328px,#8db138 336px,#8fb036 344px,#91ae34 352px,#94ac32 360px,#96a930 368px,#98a72e 376px,#99a52c 384px)"></i><i style="top:184px;background:linear-gradient(90deg,#4bac60 8px,#4bac60 16px,#4bac5f 24px,#4bac5e 32px,#4aac5e 40px,#4aad5e 48px,#4aad5d 56px,#4aad5c 64px,#4aad5b 72px,#4aae5a 80px,#4bae59 88px,#4bae57 96px,#4caf56 104px,#4caf55 112px,#4caf53 120px,#4caf52 128px,#4caf51 136px,#4caf50 144px,#4caf50 152px,#4bb050 160px,#4bb04f 168px,#4ab14f 176px,#4ab14e 184px,#4bb14e 192px,#50b24c 200px,#5db54a 208px,#73ba46 216px,#86be43 224px,#8fc043 232px,#8ebf44 240px,#89be46 248px,#83bc47 256px,#80bb47 264px,#7fba46 272px,#7fba45 280px,#81b943 288px,#83b841 296px,#85b73f 304px,#87b63e 312px,#8ab43c 320px,#8cb33a 328px,#8eb138 336px,#91af36 344px,#93ad34 352px,#95ab32 360px,#97a930 368px,#99a72e 376px,#9ba42c 384px)"></i><i style="top:187px;background:linear-gradient(90deg,#4bac61 8px,#4bac61 16px,#4aac60 24px,#4aac5f 32px,#4aac5f 40px,#4aac5f 48px,#4aad5e 56px,#4aad5d 64px,#4aad5c 72px,#4aae5b 80px,#4aae5a 88px,#4bae58 96px,#4baf57 104px,#4caf55 112px,#4caf54 120px,#4caf52 128px,#4caf51 136px,#4caf51 144px,#4caf50 152px,#4cb050 160px,#4bb04f 168px,#4ab14f 176px,#4ab14e 184px,#4ab14e 192px,#4fb24c 200px,#5bb54a 208px,#72b946 216px,#86be43 224px,#90c042 232px,#8fbf43 240px,#89bd45 248px,#83bc47 256px,#80bb47 264px,#7fba46 272px,#80ba44 280px,#82b943 288px,#84b841 296px,#86b73f 304px,#89b63d 312px,#8bb43b 320px,#8eb339 328px,#90b137 336px,#92af35 344px,#95ad33 352px,#97ab31 360px,#99a82f 368px,#9ba62d 376px,#9ca42b 384px)"></i><i style="top:190px;background:linear-gradient(90deg,#4aac62 8px,#4aac61 16px,#4aac61 24px,#4aac60 32px,#4aac60 40px,#49ac60 48px,#49ac5f 56px,#49ad5e 64px,#49ad5d 72px,#49ad5c 80px,#4aae5b 88px,#4aae59 96px,#4bae58 104px,#4caf56 112px,#4caf54 120px,#4caf53 128px,#4caf52 136px,#4caf51 144px,#4caf50 152px,#4cb050 160px,#4cb14f 168px,#4bb14f 176px,#4bb14e 184px,#4bb14e 192px,#4fb24c 200px,#5bb44a 208px,#72b946 216px,#87be43 224px,#92c041 232px,#91bf43 240px,#89bd45 248px,#83bc47 256px,#80bb47 264px,#80ba45 272px,#81ba44 280px,#83b942 288px,#85b840 296px,#88b73e 304px,#8bb63c 312px,#8db43a 320px,#8fb238 328px,#92b036 336px,#94ae35 344px,#96ac33 352px,#98aa31 360px,#9aa82f 368px,#9ca62d 376px,#9ea32b 384px)"></i><i style="top:193px;background:linear-gradient(90deg,#4aac63 8px,#4aac62 16px,#4aac62 24px,#49ac61 32px,#49ac61 40px,#49ac61 48px,#49ac60 56px,#48ad5f 64px,#48ad5e 72px,#49ad5d 80px,#49ae5c 88px,#4aae5a 96px,#4aae59 104px,#4baf57 112px,#4caf55 120px,#4caf53 128px,#4caf52 136px,#4caf51 144px,#4caf50 152px,#4db050 160px,#4db14f 168px,#4db24e 176px,#4cb24e 184px,#4cb24d 192px,#50b24c 200px,#5cb54a 208px,#73ba46 216px,#89be42 224px,#94c041 232px,#93bf42 240px,#8abd45 248px,#83bb46 256px,#81ba46 264px,#81ba45 272px,#83ba43 280px,#85b941 288px,#87b83f 296px,#8ab73e 304px,#8cb53c 312px,#8fb43a 320px,#91b238 328px,#94b036 336px,#96ae34 344px,#98ac32 352px,#9aaa30 360px,#9ca72e 368px,#9ea52c 376px,#9fa32a 384px)"></i><i style="top:196px;background:linear-gradient(90deg,#4aac64 8px,#4aac63 16px,#49ac63 24px,#49ac62 32px,#49ac62 40px,#48ac62 48px,#48ac61 56px,#48ac61 64px,#48ad60 72px,#48ad5e 80px,#48ad5d 88px,#49ae5b 96px,#4aae59 104px,#4bae58 112px,#4baf56 120px,#4caf54 128px,#4caf52 136px,#4caf51 144px,#4daf50 152px,#4eb04f 160px,#4fb14f 168px,#4fb24e 176px,#4fb34d 184px,#4eb24d 192px,#52b34c 200px,#5fb549 208px,#76ba45 216px,#8dbf41 224px,#98c040 232px,#95bf41 240px,#8abd45 248px,#84bb46 256px,#82ba46 264px,#83ba44 272px,#85ba42 280px,#87b941 288px,#89b83f 296px,#8cb73d 304px,#8fb53b 312px,#91b439 320px,#93b237 328px,#96b035 336px,#98ae33 344px,#9aab31 352px,#9ca930 360px,#9ea72e 368px,#9fa42c 376px,#a1a22a 384px)"></i><i style="top:199px;background:linear-gradient(90deg,#49ac65 8px,#49ac64 16px,#49ac64 24px,#49ac64 32px,#48ac63 40px,#48ac63 48px,#47ac62 56px,#47ac62 64px,#47ac61 72px,#47ad60 80px,#47ad5e 88px,#48ae5d 96px,#49ae5b 104px,#4aae58 112px,#4baf56 120px,#4caf54 128px,#4caf53 136px,#4caf51 144px,#4db050 152px,#4fb14f 160px,#50b24e 168px,#51b34e 176px,#52b44d 184px,#52b34d 192px,#55b34c 200px,#63b649 208px,#7bbb44 216px,#91c040 224px,#9cc13e 232px,#98c040 240px,#8cbd44 248px,#85bb45 256px,#84ba45 264px,#85ba43 272px,#87ba41 280px,#89b940 288px,#8cb83e 296px,#8eb73c 304px,#91b53a 312px,#93b338 320px,#96b136 328px,#98af35 336px,#9aad33 344px,#9cab31 352px,#9ea82f 360px,#9fa62d 368px,#a1a42b 376px,#a3a129 384px)"></i><i style="top:202px;background:linear-gradient(90deg,#49ac66 8px,#49ac66 16px,#49ab65 24px,#48ab65 32px,#48ab64 40px,#47ac64 48px,#47ac64 56px,#46ac63 64px,#46ac62 72px,#46ad61 80px,#46ad60 88px,#47ad5e 96px,#48ae5c 104px,#49ae59 112px,#4bae57 120px,#4baf55 128px,#4caf53 136px,#4caf52 144px,#4eb050 152px,#50b14f 160px,#52b24e 168px,#54b44d 176px,#56b54c 184px,#56b44c 192px,#59b54b 200px,#69b848 208px,#81bd43 216px,#96c13f 224px,#a0c23d 232px,#9bc03f 240px,#8ebd43 248px,#87bb45 256px,#87bb44 264px,#88ba42 272px,#8aba40 280px,#8cb93e 288px,#8eb83d 296px,#91b73b 304px,#93b539 312px,#96b337 320px,#98b136 328px,#9aaf34 336px,#9cad32 344px,#9eaa30 352px,#9fa82f 360px,#a1a52d 368px,#a3a32b 376px,#a4a029 384px)"></i><i style="top:205px;background:linear-gradient(90deg,#49ab67 8px,#49ab67 16px,#48ab66 24px,#48ab66 32px,#47ab66 40px,#47ab65 48px,#46ac65 56px,#45ac64 64px,#45ac64 72px,#45ac62 80px,#45ad61 88px,#46ad5f 96px,#47ad5d 104px,#49ae5a 112px,#4aae58 120px,#4baf56 128px,#4baf54 136px,#4caf52 144px,#4eb050 152px,#51b14f 160px,#54b34e 168px,#58b54d 176px,#5ab64c 184px,#5bb64b 192px,#5fb64a 200px,#6fb947 208px,#89bf42 216px,#9cc23e 224px,#a5c33c 232px,#9fc13e 240px,#91bd42 248px,#8bbc43 256px,#8abb42 264px,#8bbb41 272px,#8dba3f 280px,#8fb93d 288px,#91b83c 296px,#94b63a 304px,#96b538 312px,#98b337 320px,#9ab135 328px,#9cae33 336px,#9eac32 344px,#a0aa30 352px,#a1a72e 360px,#a3a52c 368px,#a4a22a 376px,#a6a029 384px)"></i><i style="top:208px;background:linear-gradient(90deg,#48ab68 8px,#48ab68 16px,#48ab67 24px,#47ab67 32px,#47ab67 40px,#46ab67 48px,#45ab66 56px,#45ab66 64px,#44ac65 72px,#44ac64 80px,#44ac62 88px,#45ad60 96px,#46ad5e 104px,#48ae5c 112px,#49ae59 120px,#4aae57 128px,#4bae54 136px,#4caf52 144px,#4eb050 152px,#52b14f 160px,#56b34e 168px,#5bb64c 176px,#5fb74b 184px,#61b84a 192px,#65b749 200px,#77bb46 208px,#91c140 216px,#a2c33c 224px,#a9c43b 232px,#a3c13d 240px,#96be40 248px,#90bc41 256px,#8fbc40 264px,#8fbb3f 272px,#91ba3e 280px,#92b93c 288px,#94b83a 296px,#97b639 304px,#99b437 312px,#9bb236 320px,#9db034 328px,#9eae33 336px,#a0ac31 344px,#a2a92f 352px,#a3a72d 360px,#a5a42c 368px,#a6a12a 376px,#a89f28 384px)"></i><i style="top:211px;background:linear-gradient(90deg,#48ab69 8px,#48ab69 16px,#47ab69 24px,#47ab68 32px,#46ab68 40px,#45ab68 48px,#45ab68 56px,#44ab67 64px,#43ab66 72px,#43ac65 80px,#43ac64 88px,#44ac62 96px,#45ad60 104px,#46ad5d 112px,#48ae5a 120px,#49ae57 128px,#4aae55 136px,#4caf53 144px,#4eb051 152px,#53b14f 160px,#58b44d 168px,#5eb74c 176px,#64b94a 184px,#68b949 192px,#6db948 200px,#80bd44 208px,#99c33f 216px,#a8c53b 224px,#aec43a 232px,#a8c23b 240px,#9cbf3e 248px,#96bd3f 256px,#94bc3e 264px,#94bc3d 272px,#95bb3c 280px,#96ba3b 288px,#98b839 296px,#9ab638 304px,#9cb436 312px,#9eb235 320px,#9fb033 328px,#a1ae32 336px,#a3ab30 344px,#a4a92f 352px,#a5a62d 360px,#a7a32b 368px,#a8a129 376px,#a99e28 384px)"></i><i style="top:214px;background:linear-gradient(90deg,#48ab6a 8px,#48ab6a 16px,#47ab6a 24px,#46ab6a 32px,#46ab6a 40px,#45ab69 48px,#44ab69 56px,#43ab69 64px,#42ab68 72px,#42ab67 80px,#42ab65 88px,#42ac64 96px,#43ac61 104px,#45ad5e 112px,#47ae5b 120px,#48ae59 128px,#49ae56 136px,#4baf53 144px,#4fb051 152px,#54b24f 160px,#5ab54d 168px,#62b74c 176px,#69ba4a 184px,#6ebb48 192px,#75bb47 200px,#89c043 208px,#a0c43d 216px,#aec63a 224px,#b2c538 232px,#adc33a 240px,#a3c03c 248px,#9dbe3d 256px,#9abd3c 264px,#99bc3b 272px,#99bb3a 280px,#9aba39 288px,#9cb838 296px,#9db637 304px,#9fb435 312px,#a0b234 320px,#a2af33 328px,#a3ad31 336px,#a5ab30 344px,#a6a82e 352px,#a8a52c 360px,#a9a32b 368px,#aaa029 376px,#ab9d27 384px)"></i><i style="top:217px;background:linear-gradient(90deg,#47ab6b 8px,#47ab6b 16px,#47ab6b 24px,#46ab6b 32px,#45ab6b 40px,#44ab6b 48px,#43ab6b 56px,#42ab6a 64px,#41ab6a 72px,#40ab69 80px,#40ab67 88px,#41ab65 96px,#42ac63 104px,#43ad60 112px,#45ad5d 120px,#47ae5a 128px,#48ae57 136px,#4baf54 144px,#4fb052 152px,#55b250 160px,#5cb54e 168px,#65b84c 176px,#6dbb49 184px,#74bc47 192px,#7dbd45 200px,#91c141 208px,#a7c53c 216px,#b2c739 224px,#b6c637 232px,#b2c438 240px,#aac139 248px,#a4bf3a 256px,#a1be3a 264px,#9fbd39 272px,#9ebc38 280px,#9fba38 288px,#a0b837 296px,#a1b635 304px,#a2b434 312px,#a3b133 320px,#a5af32 328px,#a6ad30 336px,#a7aa2f 344px,#a9a72d 352px,#aaa52c 360px,#aba22a 368px,#ac9f28 376px,#ad9c27 384px)"></i><i style="top:220px;background:linear-gradient(90deg,#47ab6c 8px,#47ab6c 16px,#46ab6c 24px,#45ab6c 32px,#44ab6c 40px,#43aa6c 48px,#42aa6c 56px,#41aa6c 64px,#40aa6b 72px,#3faa6a 80px,#3fab69 88px,#3fab67 96px,#40ab64 104px,#41ac61 112px,#43ad5e 120px,#45ad5b 128px,#47ae58 136px,#4aaf55 144px,#4fb053 152px,#55b250 160px,#5eb64e 168px,#67b94c 176px,#71bc49 184px,#7abd47 192px,#85bf44 200px,#98c340 208px,#acc63b 216px,#b6c737 224px,#bac636 232px,#b7c436 240px,#b1c237 248px,#acc037 256px,#a8bf37 264px,#a5be37 272px,#a3bc37 280px,#a3ba36 288px,#a4b835 296px,#a4b634 304px,#a5b333 312px,#a7b132 320px,#a8af31 328px,#a9ac30 336px,#aaa92e 344px,#aba72d 352px,#aca42b 360px,#ada129 368px,#ae9e28 376px,#af9b26 384px)"></i><i style="top:223px;background:linear-gradient(90deg,#47ab6e 8px,#46ab6e 16px,#46ab6e 24px,#45aa6e 32px,#44aa6e 40px,#43aa6e 48px,#41aa6e 56px,#40aa6d 64px,#3faa6d 72px,#3eaa6c 80px,#3daa6b 88px,#3daa69 96px,#3eab66 104px,#3fac63 112px,#41ac60 120px,#43ad5c 128px,#46ae59 136px,#49af56 144px,#4fb054 152px,#56b351 160px,#5fb64f 168px,#69b94c 176px,#74bc49 184px,#7fbe46 192px,#8bc043 200px,#9dc33f 208px,#afc63a 216px,#bac736 224px,#bec734 232px,#bdc534 240px,#b8c334 248px,#b4c134 256px,#afc034 264px,#abbe35 272px,#a9bc35 280px,#a8ba34 288px,#a8b834 296px,#a8b633 304px,#a9b332 312px,#aab131 320px,#abae30 328px,#abab2f 336px,#aca92d 344px,#ada62c 352px,#aea32b 360px,#afa029 368px,#b09d27 376px,#b19a26 384px)"></i><i style="top:226px;background:linear-gradient(90deg,#46ab6f 8px,#46ab6f 16px,#45aa6f 24px,#44aa6f 32px,#43aa6f 40px,#42aa6f 48px,#41aa6f 56px,#3faa6f 64px,#3daa6e 72px,#3caa6e 80px,#3baa6c 88px,#3baa6b 96px,#3caa68 104px,#3dab65 112px,#3fac61 120px,#41ac5e 128px,#44ad5b 136px,#48af58 144px,#4eb055 152px,#56b352 160px,#60b64f 168px,#6bba4c 176px,#77bd49 184px,#82bf46 192px,#90c142 200px,#a1c43e 208px,#b2c639 216px,#bcc735 224px,#c1c733 232px,#c1c632 240px,#bfc432 248px,#bcc231 256px,#b7c132 264px,#b1bf32 272px,#aebd33 280px,#adba33 288px,#acb832 296px,#acb532 304px,#adb331 312px,#adb030 320px,#aead2f 328px,#aeab2e 336px,#afa82d 344px,#b0a52b 352px,#b0a22a 360px,#b19f28 368px,#b29c27 376px,#b39925 384px)"></i><i style="top:229px;background:linear-gradient(90deg,#46ab70 8px,#46aa70 16px,#45aa70 24px,#44aa70 32px,#43aa70 40px,#41aa71 48px,#40aa71 56px,#3eaa70 64px,#3ca970 72px,#3ba96f 80px,#3aa96e 88px,#39a96c 96px,#39aa6a 104px,#3baa67 112px,#3dab63 120px,#3fac60 128px,#43ad5c 136px,#47ae59 144px,#4eb156 152px,#57b353 160px,#61b750 168px,#6dba4d 176px,#79bd49 184px,#86bf46 192px,#94c142 200px,#a4c33d 208px,#b4c638 216px,#bec734 224px,#c4c732 232px,#c6c630 240px,#c5c52f 248px,#c3c32f 256px,#bec12f 264px,#b8bf30 272px,#b4bd31 280px,#b2ba31 288px,#b1b731 296px,#b0b531 304px,#b0b230 312px,#b0b02f 320px,#b1ad2e 328px,#b1aa2d 336px,#b2a72c 344px,#b2a42b 352px,#b3a129 360px,#b39e28 368px,#b49b26 376px,#b49825 384px)"></i><i style="top:232px;background:linear-gradient(90deg,#46aa71 8px,#45aa71 16px,#45aa71 24px,#44aa72 32px,#42aa72 40px,#41aa72 48px,#3faa72 56px,#3da972 64px,#3ba972 72px,#39a971 80px,#38a970 88px,#37a96e 96px,#37a96c 104px,#38aa69 112px,#3aab65 120px,#3dab61 128px,#41ad5e 136px,#46ae5a 144px,#4db157 152px,#57b354 160px,#62b751 168px,#6eba4d 176px,#7bbd4a 184px,#88bf46 192px,#96c141 200px,#a6c33c 208px,#b5c538 216px,#c0c733 224px,#c6c730 232px,#cac72e 240px,#cbc52d 248px,#cac42c 256px,#c4c22d 264px,#bebf2e 272px,#b9bd2f 280px,#b7ba30 288px,#b5b730 296px,#b4b430 304px,#b4b22f 312px,#b4af2f 320px,#b4ac2e 328px,#b4a92d 336px,#b4a62b 344px,#b5a32a 352px,#b5a029 360px,#b59d27 368px,#b69a26 376px,#b69724 384px)"></i><i style="top:235px;background:linear-gradient(90deg,#45aa72 8px,#45aa72 16px,#44aa73 24px,#43aa73 32px,#42aa73 40px,#40aa73 48px,#3ea974 56px,#3ca974 64px,#3aa973 72px,#38a973 80px,#36a872 88px,#35a870 96px,#35a96e 104px,#36a96a 112px,#38aa67 120px,#3bab63 128px,#3fac5f 136px,#45ae5c 144px,#4db159 152px,#56b456 160px,#62b752 168px,#6fba4e 176px,#7cbd4a 184px,#8abf46 192px,#98c141 200px,#a7c23c 208px,#b6c537 216px,#c1c633 224px,#c8c72f 232px,#cdc72d 240px,#d0c62b 248px,#cfc42a 256px,#cbc22b 264px,#c4bf2c 272px,#bfbc2d 280px,#bcba2e 288px,#bab72e 296px,#b8b42e 304px,#b8b12e 312px,#b7ae2e 320px,#b7ab2d 328px,#b7a92c 336px,#b7a62b 344px,#b7a22a 352px,#b79f28 360px,#b89c27 368px,#b89925 376px,#b89624 384px)"></i><i style="top:238px;background:linear-gradient(90deg,#45aa73 8px,#44aa73 16px,#44aa74 24px,#43aa74 32px,#41aa74 40px,#3fa975 48px,#3da975 56px,#3ba975 64px,#39a975 72px,#36a874 80px,#34a873 88px,#33a872 96px,#33a870 104px,#33a96c 112px,#35a968 120px,#38ab64 128px,#3dac61 136px,#43ae5d 144px,#4cb15a 152px,#56b457 160px,#62b753 168px,#70ba4f 176px,#7dbd4b 184px,#8bbf46 192px,#9ac041 200px,#a8c23c 208px,#b6c436 216px,#c2c632 224px,#cac72e 232px,#d0c72b 240px,#d3c629 248px,#d4c428 256px,#d0c229 264px,#c9bf2a 272px,#c4bc2c 280px,#c1b92d 288px,#beb62d 296px,#bcb32d 304px,#bbb12d 312px,#baae2d 320px,#baab2c 328px,#baa82b 336px,#b9a52a 344px,#b9a229 352px,#b99e28 360px,#ba9b26 368px,#ba9825 376px,#ba9523 384px)"></i><i style="top:241px;background:linear-gradient(90deg,#44aa74 8px,#44aa75 16px,#43aa75 24px,#42aa75 32px,#41aa76 40px,#3fa976 48px,#3ca976 56px,#3aa977 64px,#37a876 72px,#35a876 80px,#33a875 88px,#31a774 96px,#30a771 104px,#31a86e 112px,#33a96a 120px,#36aa66 128px,#3bac62 136px,#42ae5f 144px,#4bb15c 152px,#56b458 160px,#63b755 168px,#70ba50 176px,#7ebd4b 184px,#8dbf46 192px,#9bc041 200px,#a9c13b 208px,#b6c336 216px,#c2c531 224px,#cbc72d 232px,#d2c72a 240px,#d6c628 248px,#d8c427 256px,#d4c227 264px,#cebf29 272px,#c9bc2a 280px,#c5b92b 288px,#c2b62c 296px,#c0b32c 304px,#bfb02c 312px,#bead2c 320px,#bdaa2b 328px,#bca72b 336px,#bca42a 344px,#bca128 352px,#bc9d27 360px,#bc9a26 368px,#bc9724 376px,#bc9423 384px)"></i><i style="top:244px;background:linear-gradient(90deg,#44aa75 8px,#44aa76 16px,#43aa76 24px,#42aa77 32px,#40a977 40px,#3ea977 48px,#3ca978 56px,#39a978 64px,#36a878 72px,#33a878 80px,#31a777 88px,#2fa775 96px,#2ea773 104px,#2fa770 112px,#30a86c 120px,#34aa67 128px,#39ab64 136px,#40ae60 144px,#4ab15d 152px,#56b45a 160px,#63b756 168px,#71ba51 176px,#7fbd4c 184px,#8ebf46 192px,#9cc041 200px,#aac13b 208px,#b7c335 216px,#c2c530 224px,#ccc72c 232px,#d4c729 240px,#d9c626 248px,#dbc426 256px,#d8c126 264px,#d3be28 272px,#cebb29 280px,#cab82a 288px,#c7b52b 296px,#c4b22c 304px,#c2af2c 312px,#c1ac2b 320px,#c0a92b 328px,#bfa62a 336px,#bfa329 344px,#bea028 352px,#be9c27 360px,#be9925 368px,#be9624 376px,#be9323 384px)"></i><i style="top:247px;background:linear-gradient(90deg,#44aa76 8px,#43aa77 16px,#42aa77 24px,#41a978 32px,#40a978 40px,#3da979 48px,#3ba979 56px,#38a879 64px,#35a879 72px,#32a779 80px,#2fa778 88px,#2da677 96px,#2ca675 104px,#2ca771 112px,#2ea86d 120px,#32a969 128px,#37ab65 136px,#3fad62 144px,#49b05f 152px,#55b45b 160px,#63b757 168px,#71bb53 176px,#80bd4d 184px,#8fbf47 192px,#9dc040 200px,#aac03b 208px,#b7c235 216px,#c3c530 224px,#cdc72b 232px,#d5c728 240px,#dbc625 248px,#ddc325 256px,#dbc125 264px,#d7bd26 272px,#d2ba28 280px,#ceb729 288px,#cbb42a 296px,#c8b12b 304px,#c6ae2b 312px,#c4ab2b 320px,#c3a82a 328px,#c2a529 336px,#c1a228 344px,#c19e27 352px,#c09b26 360px,#c09825 368px,#c09524 376px,#c09222 384px)"></i><i style="top:250px;background:linear-gradient(90deg,#43aa77 8px,#43aa78 16px,#42aa78 24px,#41a979 32px,#3fa979 40px,#3da97a 48px,#3aa97b 56px,#37a87b 64px,#34a87b 72px,#31a77b 80px,#2da77a 88px,#2ba679 96px,#2aa676 104px,#2aa773 112px,#2ca76f 120px,#30a96a 128px,#35ab66 136px,#3dad63 144px,#48b060 152px,#55b45d 160px,#63b759 168px,#72bb54 176px,#81bd4e 184px,#90bf47 192px,#9ec040 200px,#abc03a 208px,#b7c234 216px,#c3c52f 224px,#cdc62a 232px,#d6c627 240px,#dcc524 248px,#dfc324 256px,#dec024 264px,#dabc25 272px,#d6b927 280px,#d2b629 288px,#ceb32a 296px,#cbb02a 304px,#c9ad2a 312px,#c7aa2a 320px,#c6a72a 328px,#c5a429 336px,#c4a128 344px,#c39d27 352px,#c29a26 360px,#c29724 368px,#c29323 376px,#c29022 384px)"></i><i style="top:253px;background:linear-gradient(90deg,#43aa78 8px,#42aa79 16px,#41a979 24px,#40a97a 32px,#3ea97b 40px,#3ca97b 48px,#3aa97c 56px,#36a87c 64px,#33a77c 72px,#2fa77c 80px,#2ca67b 88px,#29a67a 96px,#28a678 104px,#28a674 112px,#2aa770 120px,#2ea86c 128px,#33aa68 136px,#3cad65 144px,#48b062 152px,#55b45f 160px,#63b85b 168px,#72bb55 176px,#81bd4e 184px,#91bf47 192px,#9fc040 200px,#acc03a 208px,#b8c234 216px,#c4c52e 224px,#cec629 232px,#d7c626 240px,#dec424 248px,#e1c223 256px,#e1bf23 264px,#debb25 272px,#dab826 280px,#d5b528 288px,#d2b229 296px,#cfaf2a 304px,#ccac2a 312px,#caa92a 320px,#c9a629 328px,#c7a328 336px,#c6a027 344px,#c59c26 352px,#c59925 360px,#c49524 368px,#c49223 376px,#c38f21 384px)"></i><i style="top:256px;background:linear-gradient(90deg,#42aa79 8px,#42a97a 16px,#41a97a 24px,#40a97b 32px,#3ea97c 40px,#3ca97d 48px,#39a87d 56px,#35a87e 64px,#32a77e 72px,#2ea77d 80px,#2aa67d 88px,#28a67b 96px,#26a579 104px,#26a675 112px,#28a771 120px,#2ca86d 128px,#32aa69 136px,#3bad66 144px,#47b063 152px,#55b460 160px,#64b85c 168px,#73bb56 176px,#82bd4f 184px,#92bf48 192px,#a0c040 200px,#adc13a 208px,#b9c233 216px,#c4c52e 224px,#cfc629 232px,#d8c625 240px,#dfc423 248px,#e2c122 256px,#e3bd23 264px,#e0ba24 272px,#ddb626 280px,#d9b327 288px,#d5b128 296px,#d2ae29 304px,#cfab29 312px,#cda829 320px,#cba529 328px,#caa228 336px,#c99e27 344px,#c89b26 352px,#c79725 360px,#c69424 368px,#c69122 376px,#c58e21 384px)"></i><i style="top:259px;background:linear-gradient(90deg,#42a97a 8px,#41a97b 16px,#40a97b 24px,#3fa97c 32px,#3da97d 40px,#3ba97e 48px,#38a87e 56px,#35a87f 64px,#31a77f 72px,#2da77f 80px,#29a67e 88px,#26a57c 96px,#24a57a 104px,#25a676 112px,#26a772 120px,#2aa86e 128px,#31aa6a 136px,#3aac67 144px,#47b065 152px,#55b462 160px,#64b85e 168px,#74bb58 176px,#83bd50 184px,#93bf48 192px,#a1c040 200px,#afc139 208px,#bac233 216px,#c5c42d 224px,#cfc628 232px,#d9c525 240px,#e0c322 248px,#e4c022 256px,#e5bc22 264px,#e3b824 272px,#e0b525 280px,#dcb227 288px,#d8af28 296px,#d5ad29 304px,#d2aa29 312px,#d0a729 320px,#cea428 328px,#cca127 336px,#cb9d27 344px,#ca9a26 352px,#c99624 360px,#c89323 368px,#c78f22 376px,#c78c21 384px)"></i><i style="top:262px;background:linear-gradient(90deg,#41a97b 8px,#41a97c 16px,#40a97c 24px,#3fa97d 32px,#3da97e 40px,#3ba97f 48px,#38a880 56px,#34a880 64px,#30a780 72px,#2ca680 80px,#28a67f 88px,#25a57d 96px,#23a57b 104px,#23a678 112px,#25a673 120px,#29a86f 128px,#2fa96b 136px,#3aac68 144px,#47b066 152px,#56b464 160px,#65b85f 168px,#75bb59 176px,#85bd51 184px,#95bf48 192px,#a3c040 200px,#b0c139 208px,#bcc233 216px,#c6c42d 224px,#d0c528 232px,#dac424 240px,#e1c222 248px,#e5be21 256px,#e6ba22 264px,#e5b624 272px,#e2b325 280px,#dfb027 288px,#dbae28 296px,#d8ab28 304px,#d5a928 312px,#d3a628 320px,#d1a328 328px,#cf9f27 336px,#cd9c26 344px,#cc9825 352px,#cb9524 360px,#ca9123 368px,#c98e22 376px,#c98b20 384px)"></i><i style="top:265px;background:linear-gradient(90deg,#41a97c 8px,#40a97d 16px,#3fa97d 24px,#3ea97e 32px,#3ca97f 40px,#3aa980 48px,#37a881 56px,#33a881 64px,#2fa781 72px,#2aa681 80px,#26a680 88px,#23a57e 96px,#22a57c 104px,#22a579 112px,#24a674 120px,#28a770 128px,#2fa96c 136px,#39ac6a 144px,#47b068 152px,#57b465 160px,#66b861 168px,#76bb5a 176px,#86bd52 184px,#96bf49 192px,#a5c040 200px,#b2c139 208px,#bdc232 216px,#c8c32d 224px,#d1c427 232px,#dbc324 240px,#e2c021 248px,#e6bc21 256px,#e8b822 264px,#e7b424 272px,#e4b125 280px,#e1af27 288px,#deac28 296px,#daaa28 304px,#d8a728 312px,#d5a528 320px,#d3a127 328px,#d19e27 336px,#d09a26 344px,#ce9725 352px,#cd9324 360px,#cc9023 368px,#cb8c21 376px,#ca8920 384px)"></i><i style="top:268px;background:linear-gradient(90deg,#40a97d 8px,#40a97d 16px,#3fa97e 24px,#3ea97f 32px,#3ca980 40px,#3aa981 48px,#36a882 56px,#32a882 64px,#2ea782 72px,#29a682 80px,#25a681 88px,#22a57f 96px,#20a57d 104px,#20a57a 112px,#23a676 120px,#27a771 128px,#2ea96e 136px,#3aac6b 144px,#48b069 152px,#58b467 160px,#68b862 168px,#78bb5b 176px,#88bd53 184px,#98bf4a 192px,#a7c041 200px,#b4c039 208px,#bfc132 216px,#cac22c 224px,#d3c327 232px,#dcc223 240px,#e3bf21 248px,#e8bb21 256px,#e9b622 264px,#e9b224 272px,#e6af25 280px,#e3ad27 288px,#e0ab28 296px,#dda928 304px,#daa628 312px,#d8a328 320px,#d5a027 328px,#d39d26 336px,#d29926 344px,#d09525 352px,#cf9223 360px,#ce8e22 368px,#cd8b21 376px,#cc8720 384px)"></i><i style="top:271px;background:linear-gradient(90deg,#3fa97e 8px,#3fa97e 16px,#3ea97f 24px,#3da980 32px,#3ba981 40px,#39a982 48px,#36a883 56px,#32a884 64px,#2da784 72px,#28a683 80px,#24a582 88px,#21a580 96px,#1fa57e 104px,#1fa57b 112px,#22a677 120px,#27a773 128px,#2fa96f 136px,#3aac6c 144px,#49b06b 152px,#5ab468 160px,#6ab763 168px,#7aba5c 176px,#8abd54 184px,#9abe4a 192px,#a9bf41 200px,#b6bf39 208px,#c2c033 216px,#ccc12d 224px,#d5c127 232px,#dec023 240px,#e5bd21 248px,#e9b921 256px,#eab422 264px,#eab024 272px,#e8ad26 280px,#e5ab27 288px,#e2a928 296px,#dfa728 304px,#dca528 312px,#daa228 320px,#d89f27 328px,#d69b26 336px,#d49825 344px,#d29424 352px,#d19023 360px,#d08d22 368px,#cf8921 376px,#ce861f 384px)"></i><i style="top:274px;background:linear-gradient(90deg,#3fa97f 8px,#3ea97f 16px,#3ea980 24px,#3ca981 32px,#3ba982 40px,#38a983 48px,#35a884 56px,#31a885 64px,#2ca785 72px,#27a684 80px,#23a583 88px,#1fa581 96px,#1ea57f 104px,#1ea57c 112px,#21a678 120px,#27a774 128px,#2fa970 136px,#3cac6e 144px,#4bb06c 152px,#5cb469 160px,#6cb764 168px,#7cba5d 176px,#8dbc54 184px,#9dbd4b 192px,#abbe42 200px,#b8be3a 208px,#c4be33 216px,#cfbf2d 224px,#d8bf27 232px,#e0be23 240px,#e6bc20 248px,#eab721 256px,#ecb222 264px,#ebad25 272px,#eaab26 280px,#e7a927 288px,#e4a828 296px,#e1a628 304px,#dea328 312px,#dca127 320px,#da9d27 328px,#d89a26 336px,#d69625 344px,#d49224 352px,#d38e23 360px,#d18b22 368px,#d08720 376px,#cf841f 384px)"></i><i style="top:277px;background:linear-gradient(90deg,#3ea980 8px,#3ea980 16px,#3da981 24px,#3ca982 32px,#3aa983 40px,#38a984 48px,#35a885 56px,#30a886 64px,#2ba786 72px,#26a685 80px,#22a584 88px,#1ea582 96px,#1da580 104px,#1da57d 112px,#21a679 120px,#27a775 128px,#30a972 136px,#3eac6f 144px,#4db06d 152px,#5eb46a 160px,#6fb765 168px,#7fba5e 176px,#8fbb55 184px,#9fbd4c 192px,#aebd43 200px,#bbbd3a 208px,#c7bd33 216px,#d1bd2d 224px,#dbbd27 232px,#e2bc22 240px,#e8ba20 248px,#ebb521 256px,#edaf23 264px,#ecab25 272px,#eba827 280px,#e8a728 288px,#e6a628 296px,#e3a428 304px,#e0a228 312px,#de9f27 320px,#dc9c27 328px,#da9826 336px,#d89425 344px,#d69124 352px,#d48d23 360px,#d38921 368px,#d28620 376px,#d1821f 384px)"></i><i style="top:280px;background:linear-gradient(90deg,#3da981 8px,#3da881 16px,#3ca882 24px,#3ba883 32px,#39a984 40px,#37a886 48px,#34a886 56px,#30a887 64px,#2ba787 72px,#25a686 80px,#20a585 88px,#1da583 96px,#1ba581 104px,#1ca57e 112px,#20a67a 120px,#27a877 128px,#32aa73 136px,#40ad71 144px,#50b06e 152px,#61b46b 160px,#72b766 168px,#82b95f 176px,#92bb56 184px,#a1bc4d 192px,#b0bc44 200px,#bdbb3b 208px,#c9bb34 216px,#d4bb2d 224px,#ddba27 232px,#e4bb22 240px,#e9b820 248px,#ecb221 256px,#eeac23 264px,#eda826 272px,#eca627 280px,#eaa528 288px,#e7a429 296px,#e5a328 304px,#e2a128 312px,#e09e27 320px,#de9a27 328px,#db9726 336px,#d99325 344px,#d88f24 352px,#d68b22 360px,#d58721 368px,#d38420 376px,#d2811f 384px)"></i><i style="top:283px;background:linear-gradient(90deg,#3ca882 8px,#3ca882 16px,#3ba883 24px,#3aa884 32px,#38a885 40px,#36a887 48px,#33a888 56px,#2fa888 64px,#2aa788 72px,#24a687 80px,#1fa586 88px,#1ca584 96px,#1aa582 104px,#1ca57f 112px,#20a67b 120px,#28a878 128px,#33aa75 136px,#42ad72 144px,#53b06f 152px,#64b46c 160px,#75b766 168px,#85b95f 176px,#95ba57 184px,#a4ba4e 192px,#b2ba45 200px,#bfba3c 208px,#cbb935 216px,#d6b82e 224px,#dfb927 232px,#e6b922 240px,#eab620 248px,#edb021 256px,#eeaa24 264px,#eea527 272px,#eda428 280px,#eba329 288px,#e9a329 296px,#e6a129 304px,#e49f28 312px,#e29c27 320px,#df9927 328px,#dd9526 336px,#db9125 344px,#d98d23 352px,#d88922 360px,#d68521 368px,#d58220 376px,#d47f1f 384px)"></i><i style="top:286px;background:linear-gradient(90deg,#3ba883 8px,#3ba883 16px,#3aa884 24px,#39a885 32px,#38a886 40px,#35a888 48px,#32a889 56px,#2ea889 64px,#29a789 72px,#23a688 80px,#1ea587 88px,#1aa585 96px,#19a582 104px,#1ba580 112px,#20a67d 120px,#29a879 128px,#35aa76 136px,#44ad74 144px,#56b171 152px,#67b46d 160px,#78b667 168px,#88b860 176px,#98b958 184px,#a7b94f 192px,#b5b946 200px,#c1b83d 208px,#cdb736 216px,#d8b62e 224px,#e1b727 232px,#e7b722 240px,#ebb420 248px,#eeae22 256px,#efa725 264px,#efa327 272px,#eea229 280px,#eca229 288px,#eaa129 296px,#e8a029 304px,#e59e28 312px,#e39b27 320px,#e19727 328px,#df9326 336px,#dd8f25 344px,#db8b23 352px,#d98722 360px,#d88321 368px,#d68020 376px,#d57d1e 384px)"></i><i style="top:289px;background:linear-gradient(90deg,#3aa884 8px,#3aa884 16px,#39a885 24px,#38a886 32px,#37a887 40px,#34a889 48px,#31a88a 56px,#2da88a 64px,#28a78a 72px,#22a689 80px,#1da588 88px,#19a486 96px,#18a483 104px,#1aa581 112px,#1fa67e 120px,#29a87b 128px,#37ab78 136px,#47ae75 144px,#59b172 152px,#6bb46e 160px,#7bb668 168px,#8bb761 176px,#9bb858 184px,#a9b850 192px,#b7b747 200px,#c3b63f 208px,#cfb537 216px,#dab52f 224px,#e2b528 232px,#e8b522 240px,#ecb220 248px,#efab22 256px,#f0a525 264px,#f0a128 272px,#efa029 280px,#eda02a 288px,#eba02a 296px,#e99e29 304px,#e79c29 312px,#e59928 320px,#e29527 328px,#e09126 336px,#de8d24 344px,#dc8923 352px,#db8522 360px,#d98121 368px,#d87e20 376px,#d67b1e 384px)"></i><i style="top:292px;background:linear-gradient(90deg,#39a885 8px,#39a885 16px,#38a886 24px,#37a887 32px,#35a888 40px,#33a88a 48px,#30a88b 56px,#2ca78b 64px,#26a78b 72px,#21a68a 80px,#1ca589 88px,#18a487 96px,#17a484 104px,#19a582 112px,#1fa67f 120px,#2aa87c 128px,#38ab79 136px,#4aae76 144px,#5cb173 152px,#6eb46f 160px,#7fb669 168px,#8fb762 176px,#9db759 184px,#acb751 192px,#b9b548 200px,#c5b440 208px,#d1b338 216px,#dbb230 224px,#e3b328 232px,#e9b323 240px,#edaf21 248px,#efa923 256px,#f0a326 264px,#f09f29 272px,#ef9e2a 280px,#ee9e2b 288px,#ec9e2a 296px,#ea9d2a 304px,#e89b29 312px,#e69728 320px,#e49427 328px,#e28f26 336px,#e08b24 344px,#de8723 352px,#dc8322 360px,#da7f21 368px,#d97c1f 376px,#d8791e 384px)"></i><i style="top:295px;background:linear-gradient(90deg,#38a886 8px,#38a886 16px,#37a887 24px,#36a888 32px,#34a889 40px,#32a88b 48px,#2fa88b 56px,#2ba78c 64px,#25a68c 72px,#1fa58b 80px,#1aa589 88px,#17a488 96px,#15a485 104px,#18a583 112px,#1ea680 120px,#2aa87d 128px,#3aab7b 136px,#4cae78 144px,#5fb174 152px,#71b470 160px,#82b56a 168px,#92b662 176px,#a0b65a 184px,#aeb552 192px,#bbb44a 200px,#c7b241 208px,#d2b139 216px,#dcb031 224px,#e4b029 232px,#e9b024 240px,#edac22 248px,#f0a624 256px,#f1a027 264px,#f19d29 272px,#f09c2b 280px,#ee9d2b 288px,#ed9d2b 296px,#eb9b2a 304px,#e99929 312px,#e79628 320px,#e59227 328px,#e38d26 336px,#e18925 344px,#df8523 352px,#dd8122 360px,#db7d21 368px,#da7a1f 376px,#d9771e 384px)"></i><i style="top:298px;background:linear-gradient(90deg,#37a887 8px,#36a887 16px,#36a888 24px,#35a889 32px,#33a88a 40px,#31a88c 48px,#2ea78c 56px,#29a78d 64px,#24a68d 72px,#1ea58c 80px,#19a58a 88px,#15a488 96px,#14a486 104px,#17a584 112px,#1ea681 120px,#2aa87f 128px,#3bab7c 136px,#4eae79 144px,#62b175 152px,#75b471 160px,#85b56b 168px,#95b563 176px,#a3b55c 184px,#b0b453 192px,#bdb24b 200px,#c8b043 208px,#d3ae3b 216px,#ddae32 224px,#e4ae2b 232px,#eaad25 240px,#eea923 248px,#f0a325 256px,#f19e27 264px,#f19b2a 272px,#f09b2b 280px,#ef9b2c 288px,#ed9b2b 296px,#ec9a2b 304px,#ea9729 312px,#e89428 320px,#e69027 328px,#e48b26 336px,#e28725 344px,#e08323 352px,#de7f22 360px,#dd7b21 368px,#db781f 376px,#da751e 384px)"></i><i style="top:301px;background:linear-gradient(90deg,#35a888 8px,#35a888 16px,#34a889 24px,#33a88a 32px,#32a88b 40px,#2fa78d 48px,#2ca78d 56px,#28a78e 64px,#23a68d 72px,#1da58d 80px,#18a48b 88px,#14a489 96px,#13a487 104px,#15a485 112px,#1da682 120px,#2aa880 128px,#3cab7d 136px,#51ae7a 144px,#65b177 152px,#78b372 160px,#88b56c 168px,#97b564 176px,#a5b45d 184px,#b2b255 192px,#beb04d 200px,#caae45 208px,#d4ac3c 216px,#ddab34 224px,#e5aa2c 232px,#eaa927 240px,#eea525 248px,#f1a126 256px,#f19c28 264px,#f19a2b 272px,#f09a2c 280px,#ef9a2d 288px,#ee9a2c 296px,#ed982b 304px,#eb962a 312px,#e99229 320px,#e78e27 328px,#e58926 336px,#e38525 344px,#e18023 352px,#df7c22 360px,#de7921 368px,#dc751f 376px,#db721e 384px)"></i><i style="top:304px;background:linear-gradient(90deg,#34a889 8px,#34a789 16px,#33a78a 24px,#32a78b 32px,#30a78c 40px,#2ea78e 48px,#2ba78e 56px,#26a68f 64px,#21a68e 72px,#1ca58e 80px,#17a48c 88px,#13a48a 96px,#12a488 104px,#14a486 112px,#1ca683 120px,#29a881 128px,#3dab7f 136px,#53ae7c 144px,#68b178 152px,#7bb373 160px,#8bb46d 168px,#9ab465 176px,#a7b35e 184px,#b4b156 192px,#c0ae4e 200px,#cbac46 208px,#d5a93e 216px,#dea836 224px,#e5a72e 232px,#eba529 240px,#efa227 248px,#f19e27 256px,#f29a29 264px,#f1982b 272px,#f0982d 280px,#ef992d 288px,#ee982d 296px,#ed972c 304px,#ec942a 312px,#ea9029 320px,#e88b28 328px,#e68726 336px,#e48225 344px,#e27e24 352px,#e07a22 360px,#df7621 368px,#dd731f 376px,#dc701e 384px)"></i><i style="top:307px;background:linear-gradient(90deg,#33a78a 8px,#32a78a 16px,#32a78b 24px,#30a78c 32px,#2fa78d 40px,#2ca78f 48px,#29a78f 56px,#25a690 64px,#20a68f 72px,#1ba58f 80px,#16a48d 88px,#12a48b 96px,#10a489 104px,#13a487 112px,#1aa584 120px,#29a882 128px,#3dab80 136px,#54ae7d 144px,#6ab179 152px,#7db374 160px,#8db46e 168px,#9cb366 176px,#a9b25f 184px,#b6b058 192px,#c1ac50 200px,#cca948 208px,#d6a740 216px,#dea538 224px,#e6a431 232px,#eba22b 240px,#ef9e28 248px,#f19b29 256px,#f2982a 264px,#f1972c 272px,#f0972e 280px,#ef972e 288px,#ee972e 296px,#ee952c 304px,#ec922b 312px,#eb8e29 320px,#e98928 328px,#e78427 336px,#e58025 344px,#e37b24 352px,#e17722 360px,#e07421 368px,#de711f 376px,#dd6e1e 384px)"></i><i style="top:310px;background:linear-gradient(90deg,#31a78b 8px,#31a78c 16px,#30a78c 24px,#2fa78d 32px,#2da78f 40px,#2ba790 48px,#28a690 56px,#24a691 64px,#1fa590 72px,#1aa590 80px,#15a48e 88px,#11a38c 96px,#0fa38a 104px,#11a488 112px,#19a585 120px,#28a883 128px,#3dab81 136px,#55ae7e 144px,#6cb17b 152px,#7fb375 160px,#8fb36f 168px,#9eb368 176px,#abb160 184px,#b7ae59 192px,#c2ab52 200px,#cda74b 208px,#d6a542 216px,#dfa33a 224px,#e6a133 232px,#eb9e2d 240px,#ef9b2a 248px,#f1982a 256px,#f2962c 264px,#f1952e 272px,#f0952f 280px,#ef962f 288px,#ef952f 296px,#ee932d 304px,#ed902b 312px,#eb8b2a 320px,#e98628 328px,#e88127 336px,#e67d25 344px,#e47924 352px,#e27522 360px,#e17121 368px,#df6e1f 376px,#de6c1e 384px)"></i><i style="top:313px;background:linear-gradient(90deg,#30a78d 8px,#30a78d 16px,#2fa78e 24px,#2da78f 32px,#2ca790 40px,#2aa791 48px,#26a692 56px,#23a692 64px,#1ea592 72px,#19a491 80px,#14a48f 88px,#10a38d 96px,#0ea38b 104px,#10a489 112px,#17a586 120px,#26a784 128px,#3cab82 136px,#55ae80 144px,#6db17c 152px,#80b277 160px,#90b370 168px,#9fb269 176px,#acb062 184px,#b8ad5b 192px,#c3a954 200px,#cda54d 208px,#d6a245 216px,#dfa03d 224px,#e69e35 232px,#eb9b30 240px,#ef982d 248px,#f1952c 256px,#f2942d 264px,#f1932f 272px,#f09430 280px,#ef9430 288px,#ef9430 296px,#ee912e 304px,#ed8e2c 312px,#ec892a 320px,#ea8429 328px,#e87f27 336px,#e67a26 344px,#e57624 352px,#e37223 360px,#e16f21 368px,#e06c20 376px,#df691e 384px)"></i><i style="top:316px;background:linear-gradient(90deg,#2fa78e 8px,#2ea78e 16px,#2da78f 24px,#2ca790 32px,#2aa791 40px,#28a692 48px,#25a693 56px,#21a693 64px,#1da593 72px,#18a492 80px,#14a490 88px,#10a38e 96px,#0ea38c 104px,#0fa389 112px,#16a587 120px,#25a785 128px,#3baa83 136px,#55ae81 144px,#6db07d 152px,#81b278 160px,#91b271 168px,#a0b16a 176px,#adaf64 184px,#b9ac5d 192px,#c3a856 200px,#cda34f 208px,#d7a047 216px,#df9d3f 224px,#e69b38 232px,#eb9832 240px,#ef942f 248px,#f1922e 256px,#f1912f 264px,#f19230 272px,#f09231 280px,#ef9332 288px,#ee9231 296px,#ee8f2f 304px,#ed8b2d 312px,#ec862b 320px,#ea8129 328px,#e97c28 336px,#e77726 344px,#e57324 352px,#e46f23 360px,#e26c21 368px,#e16920 376px,#e0671e 384px)"></i><i style="top:319px;background:linear-gradient(90deg,#2da78f 8px,#2da78f 16px,#2ca790 24px,#2aa791 32px,#29a692 40px,#27a693 48px,#24a694 56px,#20a594 64px,#1ca594 72px,#18a493 80px,#13a491 88px,#0fa38f 96px,#0da38d 104px,#0ea38a 112px,#14a488 120px,#23a786 128px,#39aa84 136px,#53ad82 144px,#6cb07e 152px,#80b179 160px,#91b273 168px,#a0b16c 176px,#aeaf65 184px,#b9ab5f 192px,#c4a759 200px,#cda252 208px,#d79e4a 216px,#df9b42 224px,#e6983b 232px,#eb9535 240px,#ef9131 248px,#f19030 256px,#f18f31 264px,#f19032 272px,#ef9133 280px,#ee9133 288px,#ee9032 296px,#ee8c30 304px,#ed882e 312px,#ec832c 320px,#eb7e2a 328px,#e97928 336px,#e77426 344px,#e67025 352px,#e46d23 360px,#e36a21 368px,#e26720 376px,#e0651e 384px)"></i><i style="top:322px;background:linear-gradient(90deg,#2ca791 8px,#2ba791 16px,#2aa791 24px,#29a692 32px,#27a693 40px,#25a695 48px,#23a695 56px,#1fa595 64px,#1ba595 72px,#17a494 80px,#13a492 88px,#0fa390 96px,#0da38e 104px,#0ea38b 112px,#13a489 120px,#21a687 128px,#36a985 136px,#50ac83 144px,#69af7f 152px,#7eb07a 160px,#90b174 168px,#a0b06d 176px,#aeae67 184px,#b9aa61 192px,#c4a65b 200px,#cda154 208px,#d69c4c 216px,#df9945 224px,#e5963d 232px,#eb9238 240px,#ef8f34 248px,#f18d32 256px,#f18d33 264px,#f08e34 272px,#ef8f34 280px,#ee8f34 288px,#ed8d33 296px,#ed8a31 304px,#ed852f 312px,#ec7f2d 320px,#eb7a2b 328px,#e97529 336px,#e87127 344px,#e66d25 352px,#e56a23 360px,#e36722 368px,#e26420 376px,#e1621f 384px)"></i><i style="top:325px;background:linear-gradient(90deg,#2aa792 8px,#2aa792 16px,#29a693 24px,#28a694 32px,#26a695 40px,#24a696 48px,#22a597 56px,#1ea597 64px,#1ba596 72px,#17a495 80px,#13a493 88px,#0fa391 96px,#0da38f 104px,#0da38c 112px,#13a48a 120px,#1fa688 128px,#33a886 136px,#4cab84 144px,#66ae80 152px,#7cb07b 160px,#8fb076 168px,#a0af6f 176px,#aead69 184px,#b9aa63 192px,#c4a55d 200px,#cda056 208px,#d69b4f 216px,#de9747 224px,#e59340 232px,#eb903a 240px,#ee8d36 248px,#f08b35 256px,#f08b35 264px,#f08c35 272px,#ee8d36 280px,#ed8d36 288px,#ed8b35 296px,#ed8632 304px,#ed8130 312px,#ec7c2e 320px,#eb772b 328px,#e97229 336px,#e86e27 344px,#e76a25 352px,#e56724 360px,#e46422 368px,#e36220 376px,#e2601f 384px)"></i><i style="top:328px;background:linear-gradient(90deg,#29a793 8px,#28a794 16px,#27a694 24px,#26a695 32px,#25a696 40px,#23a697 48px,#21a598 56px,#1ea598 64px,#1aa498 72px,#16a496 80px,#13a494 88px,#10a392 96px,#0ea390 104px,#0ea38d 112px,#12a48b 120px,#1ea589 128px,#30a787 136px,#47aa85 144px,#61ad81 152px,#79ae7d 160px,#8eaf77 168px,#9fae71 176px,#aeac6b 184px,#b9a966 192px,#c3a460 200px,#cd9f59 208px,#d69a52 216px,#de954a 224px,#e59143 232px,#ea8d3d 240px,#ee8a39 248px,#f08937 256px,#f08937 264px,#ef8a37 272px,#ee8a38 280px,#ed8a37 288px,#ec8736 296px,#ec8334 304px,#ec7d31 312px,#eb782f 320px,#ea732c 328px,#e96e2a 336px,#e86a28 344px,#e76726 352px,#e66424 360px,#e46122 368px,#e35f20 376px,#e25d1f 384px)"></i><i style="top:331px;background:linear-gradient(90deg,#27a795 8px,#27a795 16px,#26a696 24px,#25a697 32px,#23a698 40px,#22a599 48px,#20a59a 56px,#1da59a 64px,#1aa499 72px,#16a498 80px,#13a496 88px,#10a393 96px,#0ea391 104px,#0ea38e 112px,#12a48c 120px,#1ca58a 128px,#2ca788 136px,#42a985 144px,#5cab82 152px,#76ad7e 160px,#8cae78 168px,#9fae73 176px,#adac6d 184px,#b9a868 192px,#c3a462 200px,#cd9e5b 208px,#d59954 216px,#de944d 224px,#e48f46 232px,#ea8b40 240px,#ed883c 248px,#ef873a 256px,#f08739 264px,#ef8739 272px,#ee8839 280px,#ec8739 288px,#ec8437 296px,#ec7f35 304px,#ec7932 312px,#eb7430 320px,#ea6f2d 328px,#e96b2b 336px,#e86728 344px,#e76426 352px,#e66124 360px,#e55f22 368px,#e45d21 376px,#e35b1f 384px)"></i><i style="top:334px;background:linear-gradient(90deg,#26a797 8px,#25a697 16px,#24a697 24px,#23a698 32px,#22a69a 40px,#21a59b 48px,#1fa59b 56px,#1ca59b 64px,#19a49a 72px,#16a499 80px,#13a497 88px,#11a394 96px,#0fa392 104px,#0fa38f 112px,#12a38d 120px,#1aa48b 128px,#29a688 136px,#3da886 144px,#58aa83 152px,#73ac7f 160px,#8bad7a 168px,#9ead75 176px,#adab6f 184px,#b9a86a 192px,#c3a364 200px,#cc9e5e 208px,#d59857 216px,#dd924f 224px,#e48e49 232px,#e98943 240px,#ed863f 248px,#ef853c 256px,#ef853b 264px,#ee853b 272px,#ed853b 280px,#ec843a 288px,#eb8039 296px,#eb7b36 304px,#eb7533 312px,#eb7031 320px,#ea6b2e 328px,#e9672b 336px,#e86429 344px,#e76127 352px,#e65e25 360px,#e55c23 368px,#e45a21 376px,#e3581f 384px)"></i><i style="top:337px;background:linear-gradient(90deg,#25a798 8px,#24a699 16px,#23a699 24px,#22a69a 32px,#21a69b 40px,#20a59c 48px,#1ea59d 56px,#1ca59d 64px,#19a49c 72px,#16a49a 80px,#14a498 88px,#11a395 96px,#10a393 104px,#10a390 112px,#12a38e 120px,#19a48b 128px,#25a589 136px,#39a787 144px,#54a984 152px,#70ab80 160px,#89ac7b 168px,#9dac76 176px,#acaa71 184px,#b8a76c 192px,#c2a367 200px,#cc9d60 208px,#d59759 216px,#dd9152 224px,#e48c4b 232px,#e98846 240px,#ec8542 248px,#ee833f 256px,#ef823e 264px,#ee823d 272px,#ed823c 280px,#eb803c 288px,#eb7c3a 296px,#ea7637 304px,#ea7135 312px,#ea6c32 320px,#ea672f 328px,#e9642c 336px,#e8602a 344px,#e75e27 352px,#e75b25 360px,#e65923 368px,#e55721 376px,#e45620 384px)"></i><i style="top:340px;background:linear-gradient(90deg,#23a79a 8px,#23a69a 16px,#22a69b 24px,#21a69c 32px,#20a59d 40px,#1fa59e 48px,#1da59f 56px,#1ba59e 64px,#19a49d 72px,#16a49c 80px,#14a499 88px,#12a496 96px,#11a394 104px,#11a391 112px,#12a38e 120px,#18a48c 128px,#23a48a 136px,#35a687 144px,#50a885 152px,#6eaa81 160px,#89ab7d 168px,#9dab78 176px,#aca973 184px,#b8a66e 192px,#c2a269 200px,#cb9c63 208px,#d4965c 216px,#dc8f55 224px,#e38a4e 232px,#e98649 240px,#ec8344 248px,#ee8142 256px,#ee8040 264px,#ee803f 272px,#ec7f3e 280px,#eb7d3d 288px,#ea783b 296px,#ea7239 304px,#ea6c36 312px,#ea6733 320px,#e96330 328px,#e9602d 336px,#e85d2a 344px,#e85a28 352px,#e75825 360px,#e65623 368px,#e55522 376px,#e45320 384px)"></i><i style="top:343px;background:linear-gradient(90deg,#22a79c 8px,#22a69c 16px,#21a69d 24px,#20a69e 32px,#1fa59f 40px,#1ea5a0 48px,#1ca5a1 56px,#1aa5a0 64px,#18a49f 72px,#16a49d 80px,#14a49a 88px,#13a498 96px,#12a495 104px,#12a392 112px,#12a38f 120px,#17a38d 128px,#21a48a 136px,#33a588 144px,#4ea785 152px,#6da982 160px,#88aa7e 168px,#9daa7a 176px,#aca875 184px,#b7a671 192px,#c1a16b 200px,#cb9b65 208px,#d4945e 216px,#dc8e57 224px,#e38851 232px,#e8844c 240px,#ec8147 248px,#ee7f44 256px,#ee7e42 264px,#ed7d41 272px,#ec7c40 280px,#eb793e 288px,#ea743c 296px,#e96e3a 304px,#e96837 312px,#e96334 320px,#e96030 328px,#e95c2d 336px,#e85a2b 344px,#e85728 352px,#e75526 360px,#e65324 368px,#e55222 376px,#e55120 384px)"></i><i style="top:346px;background:linear-gradient(90deg,#21a79e 8px,#20a69f 16px,#1fa69f 24px,#1fa6a0 32px,#1ea5a1 40px,#1da5a2 48px,#1ba5a3 56px,#1aa5a2 64px,#18a4a1 72px,#16a49f 80px,#15a49c 88px,#13a498 96px,#13a495 104px,#12a492 112px,#13a390 120px,#17a38d 128px,#20a38b 136px,#32a489 144px,#4da686 152px,#6da883 160px,#88a97f 168px,#9da87b 176px,#aca777 184px,#b7a473 192px,#c1a06d 200px,#ca9a67 208px,#d39361 216px,#dc8c5a 224px,#e38754 232px,#e8824e 240px,#eb7f4a 248px,#ed7d47 256px,#ee7b44 264px,#ed7a43 272px,#ec7841 280px,#eb7540 288px,#ea703e 296px,#e96a3b 304px,#e96438 312px,#e95f35 320px,#e95c31 328px,#e9592e 336px,#e8562b 344px,#e85429 352px,#e75226 360px,#e75124 368px,#e65022 376px,#e54f21 384px)"></i><i style="top:349px;background:linear-gradient(90deg,#20a7a0 8px,#1fa6a1 16px,#1ea6a1 24px,#1ea6a2 32px,#1da5a3 40px,#1ca5a4 48px,#1ba5a5 56px,#19a5a4 64px,#18a5a3 72px,#16a4a0 80px,#15a49d 88px,#14a499 96px,#13a496 104px,#13a493 112px,#13a390 120px,#17a38e 128px,#21a38c 136px,#32a489 144px,#4ea587 152px,#6da784 160px,#89a881 168px,#9ea77d 176px,#aca579 184px,#b7a374 192px,#c19f6f 200px,#ca9969 208px,#d39163 216px,#dc8b5c 224px,#e28556 232px,#e88051 240px,#eb7d4d 248px,#ed7a49 256px,#ed7947 264px,#ed7845 272px,#ec7543 280px,#ea7241 288px,#e96c3f 296px,#e9663c 304px,#e86039 312px,#e85c35 320px,#e85832 328px,#e8552f 336px,#e8532c 344px,#e85129 352px,#e74f27 360px,#e74e25 368px,#e64d23 376px,#e54c21 384px)"></i><i style="top:352px;background:linear-gradient(90deg,#1fa7a3 8px,#1ea6a3 16px,#1da6a4 24px,#1ca6a5 32px,#1ca5a6 40px,#1ba5a7 48px,#1aa5a7 56px,#19a5a6 64px,#18a5a4 72px,#16a5a2 80px,#15a59e 88px,#14a59a 96px,#13a497 104px,#13a494 112px,#13a391 120px,#18a38e 128px,#22a38c 136px,#34a38a 144px,#50a588 152px,#6fa685 160px,#8aa782 168px,#9ea67e 176px,#ada47a 184px,#b8a176 192px,#c19d71 200px,#ca976b 208px,#d39065 216px,#db895f 224px,#e28359 232px,#e77e54 240px,#eb7b4f 248px,#ed784c 256px,#ed7749 264px,#ec7546 272px,#eb7244 280px,#ea6f42 288px,#e96940 296px,#e8623d 304px,#e85c3a 312px,#e85836 320px,#e85533 328px,#e8522f 336px,#e8502c 344px,#e84e2a 352px,#e84d27 360px,#e74b25 368px,#e64b23 376px,#e64a21 384px)"></i><i style="top:355px;background:linear-gradient(90deg,#1ea7a5 8px,#1da6a5 16px,#1ca6a6 24px,#1ba6a7 32px,#1ba6a8 40px,#1aa5a9 48px,#19a5a9 56px,#18a5a8 64px,#17a5a6 72px,#16a5a3 80px,#15a59f 88px,#14a59b 96px,#13a597 104px,#13a494 112px,#14a391 120px,#18a38f 128px,#24a38d 136px,#37a38b 144px,#52a489 152px,#71a586 160px,#8ba583 168px,#9fa480 176px,#aea27c 184px,#b89f78 192px,#c19b73 200px,#ca956d 208px,#d38e67 216px,#db8761 224px,#e2815b 232px,#e77c56 240px,#eb7852 248px,#ec764e 256px,#ed744b 264px,#ec7248 272px,#eb7046 280px,#ea6b43 288px,#e96641 296px,#e85f3e 304px,#e8593b 312px,#e85537 320px,#e85233 328px,#e84f30 336px,#e84d2d 344px,#e84b2a 352px,#e84a28 360px,#e74926 368px,#e74824 376px,#e64822 384px)"></i><i style="top:358px;background:linear-gradient(90deg,#1ca7a7 8px,#1ca6a8 16px,#1ba6a9 24px,#1aa6aa 32px,#1aa6ab 40px,#19a5ab 48px,#18a5ab 56px,#17a5aa 64px,#17a5a8 72px,#16a5a5 80px,#15a5a1 88px,#14a59c 96px,#13a598 104px,#13a495 112px,#14a492 120px,#19a390 128px,#26a28e 136px,#3aa38c 144px,#56a48a 152px,#73a587 160px,#8da484 168px,#a1a281 176px,#aea07d 184px,#b99d79 192px,#c29874 200px,#cb926f 208px,#d48b69 216px,#dc8563 224px,#e27f5e 232px,#e77a59 240px,#eb7654 248px,#ec7450 256px,#ec724d 264px,#ec704a 272px,#eb6d47 280px,#ea6945 288px,#e96342 296px,#e85c3f 304px,#e8573b 312px,#e85238 320px,#e84f34 328px,#e84c31 336px,#e84a2d 344px,#e8482b 352px,#e84728 360px,#e74626 368px,#e74624 376px,#e64522 384px)"></i><i style="top:361px;background:linear-gradient(90deg,#1ba7a9 8px,#1ba6aa 16px,#1aa6ab 24px,#19a6ac 32px,#19a6ad 40px,#18a6ae 48px,#17a5ad 56px,#17a5ac 64px,#16a5aa 72px,#15a5a7 80px,#15a5a2 88px,#14a69d 96px,#13a598 104px,#12a595 112px,#14a492 120px,#1aa390 128px,#28a28e 136px,#3da38d 144px,#59a48b 152px,#77a488 160px,#90a385 168px,#a2a082 176px,#af9d7e 184px,#b99a7a 192px,#c29676 200px,#cb9071 208px,#d4896b 216px,#dc8266 224px,#e27c60 232px,#e7775b 240px,#ea7457 248px,#ec7253 256px,#ec704f 264px,#ec6e4c 272px,#eb6b49 280px,#ea6646 288px,#e96043 296px,#e85a40 304px,#e8543c 312px,#e84f38 320px,#e84c35 328px,#e84931 336px,#e8472e 344px,#e8462b 352px,#e84529 360px,#e74427 368px,#e74324 376px,#e64323 384px)"></i><i style="top:364px;background:linear-gradient(90deg,#1aa7ac 8px,#1aa7ac 16px,#19a6ad 24px,#18a6af 32px,#18a6af 40px,#17a6b0 48px,#16a6b0 56px,#16a6af 64px,#15a6ac 72px,#15a6a9 80px,#14a6a3 88px,#13a69e 96px,#12a699 104px,#12a596 112px,#14a493 120px,#1ca391 128px,#2aa28f 136px,#41a38d 144px,#5da38c 152px,#7aa389 160px,#92a187 168px,#a49e83 176px,#b09b80 184px,#ba977c 192px,#c39377 200px,#cc8d72 208px,#d4876d 216px,#dc8068 224px,#e27a63 232px,#e7755e 240px,#ea7259 248px,#ec7055 256px,#ec6e51 264px,#eb6b4e 272px,#ea684a 280px,#e96447 288px,#e85e44 296px,#e85741 304px,#e8523d 312px,#e84d39 320px,#e84935 328px,#e84732 336px,#e8452f 344px,#e8432c 352px,#e84229 360px,#e84127 368px,#e74125 376px,#e74123 384px)"></i><i style="top:367px;background:linear-gradient(90deg,#19a7ae 8px,#19a7af 16px,#18a6b0 24px,#17a6b1 32px,#17a6b2 40px,#16a6b2 48px,#15a6b2 56px,#15a6b1 64px,#15a6ae 72px,#14a6aa 80px,#14a6a5 88px,#13a69f 96px,#12a69a 104px,#12a596 112px,#14a494 120px,#1da392 128px,#2da290 136px,#44a28e 144px,#62a38d 152px,#7ea28b 160px,#95a088 168px,#a59c85 176px,#b19881 184px,#bb957d 192px,#c49079 200px,#cc8b74 208px,#d4856f 216px,#dc7e6a 224px,#e37865 232px,#e77360 240px,#ea705c 248px,#ec6d57 256px,#ec6c53 264px,#eb6950 272px,#ea664c 280px,#e96149 288px,#e85c45 296px,#e85542 304px,#e8503e 312px,#e84b3a 320px,#e84736 328px,#e84432 336px,#e8422f 344px,#e8412c 352px,#e8402a 360px,#e83f28 368px,#e73f25 376px,#e73f23 384px)"></i><i style="top:370px;background:linear-gradient(90deg,#18a7b0 8px,#18a7b1 16px,#17a6b2 24px,#16a6b3 32px,#16a6b4 40px,#15a6b5 48px,#14a6b4 56px,#14a6b3 64px,#14a6b0 72px,#13a6ac 80px,#13a7a6 88px,#12a7a0 96px,#11a69b 104px,#11a597 112px,#14a494 120px,#1ea393 128px,#2fa291 136px,#48a290 144px,#66a28e 152px,#82a28c 160px,#989f89 168px,#a79a86 176px,#b29682 184px,#bc927f 192px,#c48e7a 200px,#cd8876 208px,#d58271 216px,#dc7c6c 224px,#e37667 232px,#e87163 240px,#ea6d5e 248px,#eb6b5a 256px,#eb6a55 264px,#eb6751 272px,#ea644d 280px,#e95f4a 288px,#e85946 296px,#e85342 304px,#e84d3f 312px,#e8493b 320px,#e84537 328px,#e84233 336px,#e84030 344px,#e83e2d 352px,#e83d2b 360px,#e83d28 368px,#e73d26 376px,#e73d24 384px)"></i><i style="top:373px;background:linear-gradient(90deg,#17a7b3 8px,#17a7b3 16px,#16a7b5 24px,#15a6b6 32px,#15a6b7 40px,#14a6b7 48px,#13a7b7 56px,#13a7b5 64px,#12a7b2 72px,#12a7ae 80px,#12a7a8 88px,#11a7a1 96px,#11a79c 104px,#11a698 112px,#15a496 120px,#1fa294 128px,#31a192 136px,#4ba191 144px,#69a28f 152px,#86a18d 160px,#9b9d8a 168px,#a99887 176px,#b39384 184px,#bd8f80 192px,#c58b7c 200px,#cd8677 208px,#d58073 216px,#dd7a6e 224px,#e3746a 232px,#e86f65 240px,#ea6b60 248px,#eb695c 256px,#eb6857 264px,#ea6553 272px,#ea624f 280px,#e95d4b 288px,#e85747 296px,#e85143 304px,#e84c40 312px,#e8463c 320px,#e84238 328px,#e83f34 336px,#e83d31 344px,#e83c2e 352px,#e83b2b 360px,#e83b29 368px,#e83b27 376px,#e73b25 384px)"></i><i style="top:376px;background:linear-gradient(90deg,#16a7b5 8px,#16a7b6 16px,#15a7b7 24px,#14a7b8 32px,#14a7b9 40px,#13a7ba 48px,#12a7b9 56px,#11a7b8 64px,#11a7b5 72px,#11a7b0 80px,#11a8a9 88px,#10a8a2 96px,#10a79d 104px,#11a699 112px,#15a497 120px,#20a295 128px,#33a193 136px,#4da192 144px,#6da190 152px,#89a08e 160px,#9d9c8c 168px,#aa9688 176px,#b49185 184px,#bd8d82 192px,#c6897e 200px,#ce8479 208px,#d57e75 216px,#dd7871 224px,#e3726c 232px,#e86d68 240px,#ea6963 248px,#eb675e 256px,#eb6659 264px,#ea6355 272px,#e96050 280px,#e95b4c 288px,#e85548 296px,#e84f45 304px,#e84a41 312px,#e8453d 320px,#e84038 328px,#e83d35 336px,#e83b31 344px,#e83a2f 352px,#e8392c 360px,#e83929 368px,#e83927 376px,#e73a25 384px)"></i><i style="top:379px;background:linear-gradient(90deg,#15a7b7 8px,#15a7b8 16px,#14a7b9 24px,#13a7bb 32px,#12a7bc 40px,#12a7bc 48px,#11a7bc 56px,#10a8ba 64px,#10a8b7 72px,#0fa8b2 80px,#0fa8ab 88px,#0fa8a4 96px,#0fa79f 104px,#11a69b 112px,#16a498 120px,#22a296 128px,#35a195 136px,#50a093 144px,#6fa092 152px,#8c9f90 160px,#9f9a8d 168px,#ab948a 176px,#b58f87 184px,#be8a83 192px,#c6867f 200px,#ce827b 208px,#d67c77 216px,#dd7673 224px,#e3706f 232px,#e76b6a 240px,#ea6865 248px,#ea6560 256px,#ea645b 264px,#ea6157 272px,#e95e52 280px,#e8594d 288px,#e85449 296px,#e84e46 304px,#e84842 312px,#e8433e 320px,#e83e39 328px,#e83b36 336px,#e83932 344px,#e8372f 352px,#e8372d 360px,#e8372a 368px,#e83728 376px,#e73826 384px)"></i><i style="top:382px;background:linear-gradient(90deg,#14a7b9 8px,#14a7ba 16px,#13a7bc 24px,#12a7bd 32px,#11a7be 40px,#10a7be 48px,#0fa8be 56px,#0ea8bc 64px,#0ea8b9 72px,#0ea8b4 80px,#0ea8ae 88px,#0ea8a7 96px,#0fa7a1 104px,#11a69d 112px,#17a49a 120px,#24a298 128px,#38a096 136px,#52a095 144px,#719f93 152px,#8d9d91 160px,#a0988f 168px,#ac928c 176px,#b68d88 184px,#be8885 192px,#c78481 200px,#cf807d 208px,#d67a7a 216px,#dd7476 224px,#e36e71 232px,#e7696d 240px,#e96668 248px,#ea6462 256px,#ea625d 264px,#e96058 272px,#e95c53 280px,#e8574f 288px,#e8524b 296px,#e84c47 304px,#e84643 312px,#e8413f 320px,#e83c3b 328px,#e83937 336px,#e83733 344px,#e83530 352px,#e8352d 360px,#e8352b 368px,#e83629 376px,#e73626 384px)"></i><i style="top:385px;background:linear-gradient(90deg,#13a7bb 8px,#13a7bc 16px,#12a7be 24px,#11a7bf 32px,#10a7c0 40px,#0fa8c1 48px,#0ea8c0 56px,#0da9bf 64px,#0ca9bb 72px,#0ca9b6 80px,#0ca9b0 88px,#0da8a9 96px,#0ea7a4 104px,#11a6a0 112px,#18a49c 120px,#26a29a 128px,#3aa098 136px,#559f97 144px,#739e95 152px,#8e9b93 160px,#a09690 168px,#ac908d 176px,#b68b8a 184px,#bf8787 192px,#c78383 200px,#cf7e80 208px,#d6797c 216px,#dd7378 224px,#e36d74 232px,#e7686f 240px,#e9646a 248px,#e96265 256px,#e9605f 264px,#e95d5a 272px,#e85a55 280px,#e85550 288px,#e8504c 296px,#e74a48 304px,#e74444 312px,#e83f40 320px,#e83b3c 328px,#e83738 336px,#e83534 344px,#e83431 352px,#e8332e 360px,#e8332c 368px,#e83429 376px,#e83527 384px)"></i><i style="top:388px;background:linear-gradient(90deg,#12a7bd 8px,#12a7be 16px,#11a7c0 24px,#10a8c1 32px,#0fa8c3 40px,#0ea8c3 48px,#0ca9c3 56px,#0ba9c1 64px,#0ba9be 72px,#0aa9b9 80px,#0ba9b3 88px,#0ca8ac 96px,#0da7a7 104px,#11a6a2 112px,#19a49f 120px,#28a19c 128px,#3c9f9a 136px,#579e98 144px,#749c97 152px,#8e9995 160px,#a09492 168px,#ad8e8f 176px,#b6898c 184px,#bf8589 192px,#c88186 200px,#cf7c82 208px,#d7777e 216px,#dd727b 224px,#e26c76 232px,#e66672 240px,#e8626c 248px,#e96067 256px,#e95d61 264px,#e85b5b 272px,#e85856 280px,#e85351 288px,#e84e4d 296px,#e7484a 304px,#e74346 312px,#e83d42 320px,#e8393d 328px,#e83539 336px,#e83335 344px,#e83232 352px,#e8312f 360px,#e8322c 368px,#e8332a 376px,#e83428 384px)"></i><i style="top:391px;background:linear-gradient(90deg,#12a7bf 8px,#11a7c0 16px,#10a8c2 24px,#0fa8c4 32px,#0ea8c5 40px,#0ca9c5 48px,#0baac5 56px,#0aaac3 64px,#09aac0 72px,#09a9bb 80px,#09a9b6 88px,#0aa8af 96px,#0da7aa 104px,#12a5a5 112px,#1ba3a1 120px,#2aa19e 128px,#3f9f9c 136px,#589d9a 144px,#749b98 152px,#8d9796 160px,#9f9294 168px,#ac8d91 176px,#b6878e 184px,#c0838b 192px,#c87f88 200px,#d07b84 208px,#d77681 216px,#dd707d 224px,#e26b79 232px,#e66574 240px,#e8616f 248px,#e85d69 256px,#e85b63 264px,#e8595d 272px,#e85557 280px,#e75152 288px,#e74c4f 296px,#e7464b 304px,#e74148 312px,#e73c43 320px,#e8373f 328px,#e8343b 336px,#e83136 344px,#e83033 352px,#e83030 360px,#e8302d 368px,#e8312b 376px,#e83228 384px)"></i><i style="top:394px;background:linear-gradient(90deg,#11a7c1 8px,#10a7c2 16px,#0fa8c4 24px,#0ea8c6 32px,#0da9c7 40px,#0ba9c7 48px,#09aac7 56px,#08aac5 64px,#07aac2 72px,#07a9be 80px,#08a9b8 88px,#09a8b3 96px,#0ca6ad 104px,#12a5a8 112px,#1ca3a4 120px,#2ca1a1 128px,#419e9e 136px,#5a9c9c 144px,#74999a 152px,#8c9598 160px,#9f9096 168px,#ac8b93 176px,#b68690 184px,#c0828d 192px,#c87e8a 200px,#d07a87 208px,#d77584 216px,#dd6f80 224px,#e2697c 232px,#e56477 240px,#e75f71 248px,#e85b6b 256px,#e85865 264px,#e7565f 272px,#e75359 280px,#e74f54 288px,#e74a50 296px,#e7444d 304px,#e73f4a 312px,#e73a45 320px,#e83641 328px,#e8323c 336px,#e83038 344px,#e82e34 352px,#e82e31 360px,#e82f2e 368px,#e8302b 376px,#e83129 384px)"></i><i style="top:397px;background:linear-gradient(90deg,#10a7c3 8px,#0fa7c4 16px,#0ea8c6 24px,#0da8c7 32px,#0ba9c9 40px,#0aaaca 48px,#08abc9 56px,#07abc8 64px,#06aac5 72px,#06a9c1 80px,#06a8bb 88px,#08a7b6 96px,#0ca6b0 104px,#12a4ab 112px,#1da2a7 120px,#2da0a3 128px,#429da0 136px,#5b9b9e 144px,#75979c 152px,#8c939a 160px,#9e8e97 168px,#ab8995 176px,#b68492 184px,#bf818f 192px,#c87d8c 200px,#d07989 208px,#d77486 216px,#dd6e83 224px,#e1687e 232px,#e46279 240px,#e65d73 248px,#e7596d 256px,#e75566 264px,#e75360 272px,#e7505a 280px,#e74c55 288px,#e74852 296px,#e7424f 304px,#e73d4c 312px,#e73847 320px,#e83443 328px,#e8313e 336px,#e82e39 344px,#e82d35 352px,#e82d32 360px,#e82e2f 368px,#e82f2c 376px,#e8302a 384px)"></i><i style="top:400px;background:linear-gradient(90deg,#0fa7c4 8px,#0ea7c5 16px,#0da8c7 24px,#0ca9c9 32px,#0aa9cb 40px,#09aacb 48px,#07abcb 56px,#05abca 64px,#05aac7 72px,#04a9c3 80px,#05a8be 88px,#07a7b9 96px,#0ba5b4 104px,#13a4ae 112px,#1ea2a9 120px,#2f9fa5 128px,#449da2 136px,#5c99a0 144px,#74969e 152px,#8b919c 160px,#9c8c99 168px,#aa8797 176px,#b58394 184px,#bf7f91 192px,#c87c8e 200px,#d0788c 208px,#d77389 216px,#dc6d85 224px,#e16781 232px,#e4617c 240px,#e55b76 248px,#e6566f 256px,#e65268 264px,#e65062 272px,#e74d5b 280px,#e74957 288px,#e74553 296px,#e74051 304px,#e73c4e 312px,#e7374a 320px,#e73345 328px,#e82f3f 336px,#e82d3a 344px,#e82c36 352px,#e82c33 360px,#e82d30 368px,#e82e2d 376px,#e82f2a 384px)"></i><i style="top:403px;background:linear-gradient(90deg,#0ea7c6 8px,#0ea7c7 16px,#0ca8c9 24px,#0ba9cb 32px,#09aacc 40px,#07abcd 48px,#06abcd 56px,#04abcc 64px,#04aac9 72px,#03a9c6 80px,#04a7c1 88px,#06a6bc 96px,#0ba5b7 104px,#13a3b1 112px,#20a1ac 120px,#309fa7 128px,#459ca4 136px,#5d98a2 144px,#7494a0 152px,#8a8f9e 160px,#9b8a9b 168px,#a98599 176px,#b58196 184px,#bf7e93 192px,#c87b91 200px,#d0778e 208px,#d7728b 216px,#dc6c88 224px,#e06583 232px,#e35f7e 240px,#e55878 248px,#e55371 256px,#e64f6a 264px,#e64c63 272px,#e6495d 280px,#e64658 288px,#e74355 296px,#e73e53 304px,#e73a50 312px,#e7354c 320px,#e73146 328px,#e82e41 336px,#e82b3c 344px,#e82a37 352px,#e82b34 360px,#e82c31 368px,#e82d2e 376px,#e72f2b 384px)"></i><i style="top:406px;background:linear-gradient(90deg,#0ea7c7 8px,#0da7c8 16px,#0ca8ca 24px,#0aa9cc 32px,#08aace 40px,#06abcf 48px,#05accf 56px,#03abce 64px,#03aacb 72px,#03a8c8 80px,#03a6c4 88px,#05a5bf 96px,#0aa4ba 104px,#13a2b4 112px,#20a0ae 120px,#329eaa 128px,#469aa6 136px,#5d97a4 144px,#7492a2 152px,#898d9f 160px,#9a889d 168px,#a8849a 176px,#b48098 184px,#be7d95 192px,#c77a93 200px,#d07690 208px,#d6718d 216px,#dc6a8a 224px,#e06486 232px,#e25d81 240px,#e4557a 248px,#e54f73 256px,#e54b6c 264px,#e54865 272px,#e6465f 280px,#e6435a 288px,#e64057 296px,#e63c56 304px,#e63853 312px,#e7344e 320px,#e73048 328px,#e82d42 336px,#e82a3d 344px,#e82938 352px,#e82a34 360px,#e82b31 368px,#e82d2f 376px,#e72e2c 384px)"></i><i style="top:409px;background:linear-gradient(90deg,#0da6c8 8px,#0ca7ca 16px,#0ba7cc 24px,#09a8cd 32px,#08aacf 40px,#06abd0 48px,#04acd0 56px,#03abcf 64px,#02a9cd 72px,#02a7ca 80px,#03a5c6 88px,#05a4c2 96px,#0aa2bd 104px,#14a1b7 112px,#219fb1 120px,#339dac 128px,#4799a8 136px,#5e95a5 144px,#7490a3 152px,#888ba1 160px,#99869f 168px,#a7829c 176px,#b27e9a 184px,#bd7b97 192px,#c77895 200px,#cf7592 208px,#d66f90 216px,#dc698c 224px,#df6288 232px,#e25a83 240px,#e3527c 248px,#e44c75 256px,#e4476d 264px,#e54466 272px,#e54260 280px,#e6405c 288px,#e63d5a 296px,#e63a58 304px,#e63656 312px,#e63251 320px,#e72f4a 328px,#e72c44 336px,#e82a3e 344px,#e82939 352px,#e82935 360px,#e82b32 368px,#e72c2f 376px,#e72d2d 384px)"></i><i style="top:412px;background:linear-gradient(90deg,#0da6c9 8px,#0ca6cb 16px,#0aa7cd 24px,#09a8cf 32px,#07a9d0 40px,#05abd1 48px,#03abd2 56px,#02abd1 64px,#02a9ce 72px,#02a6cb 80px,#02a4c8 88px,#05a2c5 96px,#0aa1bf 104px,#14a0b9 112px,#229eb3 120px,#349cae 128px,#4898aa 136px,#5e93a7 144px,#738ea5 152px,#8789a3 160px,#9785a0 168px,#a5809e 176px,#b17d9b 184px,#bc7a99 192px,#c67797 200px,#cf7494 208px,#d66e92 216px,#db678e 224px,#df5f8a 232px,#e15785 240px,#e34f7e 248px,#e34776 256px,#e4426f 264px,#e44068 272px,#e53e62 280px,#e53d5e 288px,#e63a5d 296px,#e6375b 304px,#e63459 312px,#e63153 320px,#e72e4c 328px,#e72b45 336px,#e8293f 344px,#e8283a 352px,#e82936 360px,#e72a33 368px,#e72c30 376px,#e72d2d 384px)"></i><i style="top:415px;background:linear-gradient(90deg,#0ca5ca 8px,#0ba6cc 16px,#0aa7ce 24px,#09a8cf 32px,#07a9d1 40px,#05aad2 48px,#03abd3 56px,#02aad2 64px,#02a7cf 72px,#02a5cd 80px,#03a3ca 88px,#05a1c7 96px,#0aa0c2 104px,#149ebb 112px,#239db5 120px,#349aaf 128px,#4897ab 136px,#5e92a9 144px,#738da7 152px,#8688a4 160px,#9683a2 168px,#a47e9f 176px,#b07b9d 184px,#bb799b 192px,#c57698 200px,#ce7296 208px,#d56d94 216px,#db6590 224px,#de5d8c 232px,#e15487 240px,#e24b80 248px,#e34378 256px,#e33e70 264px,#e43b6a 272px,#e43a65 280px,#e53961 288px,#e53760 296px,#e5355f 304px,#e6325b 312px,#e63056 320px,#e62d4e 328px,#e72a47 336px,#e72840 344px,#e8283b 352px,#e72937 360px,#e72a34 368px,#e72b31 376px,#e72c2e 384px)"></i><i style="top:418px;background:linear-gradient(90deg,#0ca5cb 8px,#0ba5cc 16px,#0aa6ce 24px,#08a7d0 32px,#07a8d2 40px,#05a9d3 48px,#03aad3 56px,#03a8d2 64px,#03a6d0 72px,#03a3ce 80px,#03a1cb 88px,#059fc8 96px,#0b9ec4 104px,#159dbd 112px,#239bb7 120px,#3599b1 128px,#4995ad 136px,#5e90aa 144px,#728ba8 152px,#8586a6 160px,#9581a3 168px,#a27da1 176px,#af7a9e 184px,#ba779c 192px,#c5759a 200px,#ce7198 208px,#d56b95 216px,#da6392 224px,#de5a8e 232px,#e05089 240px,#e14681 248px,#e23e79 256px,#e33972 264px,#e3366c 272px,#e43667 280px,#e53564 288px,#e53463 296px,#e53362 304px,#e5315e 312px,#e62e58 320px,#e62c50 328px,#e72a48 336px,#e72841 344px,#e7283c 352px,#e72938 360px,#e72a35 368px,#e72b32 376px,#e72c2f 384px)"></i><i style="top:421px;background:linear-gradient(90deg,#0ba4cc 8px,#0ba4cd 16px,#0aa5cf 24px,#08a6d1 32px,#07a7d2 40px,#05a8d3 48px,#04a8d4 56px,#03a7d3 64px,#04a4d1 72px,#04a1ce 80px,#049fcc 88px,#069dc9 96px,#0b9cc5 104px,#169bbf 112px,#2499b8 120px,#3597b3 128px,#4993af 136px,#5d8eac 144px,#7289a9 152px,#8484a7 160px,#937fa4 168px,#a17ba2 176px,#ad78a0 184px,#b9769e 192px,#c4749c 200px,#cd7099 208px,#d46997 216px,#da6094 224px,#de568f 232px,#e04c8a 240px,#e14182 248px,#e2397a 256px,#e23473 264px,#e3326d 272px,#e43169 280px,#e43167 288px,#e53166 296px,#e53065 304px,#e52f61 312px,#e52d5a 320px,#e62b51 328px,#e62949 336px,#e72842 344px,#e7283c 352px,#e72838 360px,#e72a35 368px,#e72b32 376px,#e62c2f 384px)"></i><i style="top:424px;background:linear-gradient(90deg,#0ba3cd 8px,#0ba4ce 16px,#0aa4cf 24px,#08a5d1 32px,#07a6d2 40px,#06a6d3 48px,#05a6d3 56px,#05a4d2 64px,#05a1d0 72px,#059ece 80px,#069ccc 88px,#079bca 96px,#0d9ac6 104px,#1799c0 112px,#2598ba 120px,#3695b4 128px,#4991b0 136px,#5d8cad 144px,#7187aa 152px,#8382a8 160px,#927ea5 168px,#a07aa3 176px,#ac77a1 184px,#b8759f 192px,#c2729d 200px,#cc6e9b 208px,#d46798 216px,#d95d95 224px,#dd5291 232px,#e0478b 240px,#e13b83 248px,#e1337b 256px,#e22e75 264px,#e22d6f 272px,#e32d6b 280px,#e42e69 288px,#e42e68 296px,#e42e67 304px,#e52d63 312px,#e52c5b 320px,#e62a52 328px,#e62949 336px,#e72842 344px,#e7283d 352px,#e72839 360px,#e72a36 368px,#e62b33 376px,#e62b30 384px)"></i><i style="top:427px;background:linear-gradient(90deg,#0ba2cd 8px,#0aa3ce 16px,#0aa3d0 24px,#09a4d1 32px,#08a4d2 40px,#07a4d3 48px,#06a4d3 56px,#06a2d2 64px,#079fd0 72px,#079cce 80px,#079acc 88px,#0999ca 96px,#0e98c6 104px,#1797c1 112px,#2596bb 120px,#3693b5 128px,#498fb1 136px,#5d8aae 144px,#7085ab 152px,#8280a9 160px,#917ca6 168px,#9e78a4 176px,#ab76a2 184px,#b674a0 192px,#c1719e 200px,#cb6c9c 208px,#d36599 216px,#d95a96 224px,#dd4e91 232px,#df418c 240px,#e13584 248px,#e12d7c 256px,#e12976 264px,#e22871 272px,#e3296d 280px,#e42a6b 288px,#e42b6b 296px,#e42b69 304px,#e42b65 312px,#e52a5c 320px,#e62952 328px,#e62849 336px,#e62742 344px,#e6283d 352px,#e62839 360px,#e62a36 368px,#e62a33 376px,#e62b30 384px)"></i><i style="top:430px;background:linear-gradient(90deg,#0ba1ce 8px,#0aa2cf 16px,#0aa2d0 24px,#09a2d1 32px,#08a2d2 40px,#08a2d3 48px,#08a1d2 56px,#089fd1 64px,#099ccf 72px,#0999cd 80px,#0997cc 88px,#0b96ca 96px,#0f96c6 104px,#1895c1 112px,#2693bc 120px,#3691b7 128px,#498db2 136px,#5c88af 144px,#6f83ac 152px,#807fa9 160px,#907ba7 168px,#9d77a5 176px,#a975a3 184px,#b572a1 192px,#c0709f 200px,#ca6b9d 208px,#d2639a 216px,#d85797 224px,#dd4992 232px,#df3b8c 240px,#e02f85 248px,#e1277d 256px,#e12377 264px,#e22372 272px,#e3246f 280px,#e4266d 288px,#e4286c 296px,#e4296b 304px,#e42966 312px,#e5295d 320px,#e52853 328px,#e62849 336px,#e62742 344px,#e6273d 352px,#e6283a 360px,#e62937 368px,#e62a33 376px,#e62a30 384px)"></i><i style="top:433px;background:linear-gradient(90deg,#0ba0ce 8px,#0aa0cf 16px,#0aa1d0 24px,#09a1d1 32px,#09a0d2 40px,#09a0d2 48px,#099ed2 56px,#0a9cd0 64px,#0b98ce 72px,#0c96cc 80px,#0c94cb 88px,#0d94c9 96px,#1193c6 104px,#1993c2 112px,#2691bd 120px,#368fb8 128px,#488bb3 136px,#5c86b0 144px,#6e81ad 152px,#7f7daa 160px,#8e79a7 168px,#9c76a5 176px,#a873a3 184px,#b371a1 192px,#be6ea0 200px,#c9699e 208px,#d1609b 216px,#d85497 224px,#dc4593 232px,#df368d 240px,#e12985 248px,#e1217e 256px,#e11e78 264px,#e21f74 272px,#e32171 280px,#e3236f 288px,#e4256e 296px,#e4276c 304px,#e42867 312px,#e5285d 320px,#e52852 328px,#e62749 336px,#e62742 344px,#e6273d 352px,#e6283a 360px,#e62937 368px,#e62a34 376px,#e52a31 384px)"></i><i style="top:436px;background:linear-gradient(90deg,#0b9fce 8px,#0b9fcf 16px,#0a9fd0 24px,#0a9fd1 32px,#0a9ed1 40px,#0a9dd1 48px,#0b9cd1 56px,#0c99cf 64px,#0e95cd 72px,#0e92cb 80px,#0e91ca 88px,#0e91c8 96px,#1291c5 104px,#1a90c2 112px,#268fbd 120px,#368cb8 128px,#4889b4 136px,#5b84b0 144px,#6e7fad 152px,#7e7baa 160px,#8d77a8 168px,#9a74a6 176px,#a672a4 184px,#b270a2 192px,#bd6da0 200px,#c7679e 208px,#d05e9c 216px,#d75198 224px,#dc4193 232px,#df308d 240px,#e12386 248px,#e11c7f 256px,#e11979 264px,#e21a75 272px,#e31d73 280px,#e32071 288px,#e4236f 296px,#e4256c 304px,#e42666 312px,#e4275c 320px,#e52752 328px,#e52749 336px,#e52742 344px,#e6273d 352px,#e5283a 360px,#e52937 368px,#e52934 376px,#e52a31 384px)"></i><i style="top:439px;background:linear-gradient(90deg,#0b9ece 8px,#0b9ecf 16px,#0b9ed0 24px,#0b9dd1 32px,#0b9cd1 40px,#0b9bd1 48px,#0d99d0 56px,#0e95ce 64px,#1092cc 72px,#118fca 80px,#108ec8 88px,#108fc7 96px,#148fc5 104px,#1b8ec2 112px,#278cbd 120px,#368ab9 128px,#4886b5 136px,#5b82b1 144px,#6d7dad 152px,#7e79aa 160px,#8c76a8 168px,#9973a6 176px,#a570a4 184px,#b06ea2 192px,#bb6ba1 200px,#c6669f 208px,#cf5d9c 216px,#d64f98 224px,#dc3d93 232px,#df2b8d 240px,#e11d86 248px,#e11780 256px,#e1157b 264px,#e21777 272px,#e21a74 280px,#e31d72 288px,#e42070 296px,#e4236c 304px,#e42466 312px,#e4265c 320px,#e52651 328px,#e52648 336px,#e52641 344px,#e5273d 352px,#e5283a 360px,#e52837 368px,#e52934 376px,#e52931 384px)"></i><i style="top:442px;background:linear-gradient(90deg,#0b9dce 8px,#0b9dcf 16px,#0b9cd0 24px,#0b9bd0 32px,#0c9ad0 40px,#0d98d0 48px,#0e96ce 56px,#1192cc 64px,#138fca 72px,#148cc8 80px,#128bc7 88px,#128cc6 96px,#158cc4 104px,#1c8cc1 112px,#278abe 120px,#3687b9 128px,#4784b5 136px,#5a7fb1 144px,#6c7bae 152px,#7d77aa 160px,#8b74a8 168px,#9771a6 176px,#a36fa4 184px,#ae6da2 192px,#b96aa1 200px,#c4649f 208px,#ce5b9c 216px,#d54c99 224px,#db3a94 232px,#df268d 240px,#e11887 248px,#e11281 256px,#e1117c 264px,#e21378 272px,#e21775 280px,#e31a73 288px,#e31e70 296px,#e4216c 304px,#e42365 312px,#e4245b 320px,#e52550 328px,#e52647 336px,#e52641 344px,#e5263d 352px,#e5273a 360px,#e52837 368px,#e52834 376px,#e52831 384px)"></i><i style="top:445px;background:linear-gradient(90deg,#0b9cce 8px,#0b9bcf 16px,#0b9bcf 24px,#0c99d0 32px,#0d98cf 40px,#0e96cf 48px,#1093cd 56px,#128fcb 64px,#158cc9 72px,#1689c7 80px,#1489c6 88px,#148ac5 96px,#168ac3 104px,#1d89c1 112px,#2887bd 120px,#3685ba 128px,#4781b5 136px,#5a7db1 144px,#6c79ae 152px,#7c75aa 160px,#8a72a8 168px,#966fa6 176px,#a16da4 184px,#ac6ba2 192px,#b868a1 200px,#c2639f 208px,#cc5a9c 216px,#d44b99 224px,#da3794 232px,#de228e 240px,#e01487 248px,#e10e82 256px,#e10e7d 264px,#e21179 272px,#e21476 280px,#e31874 288px,#e31c70 296px,#e41f6c 304px,#e42164 312px,#e4235a 320px,#e4254f 328px,#e42546 336px,#e42641 344px,#e4263d 352px,#e42739 360px,#e42737 368px,#e42834 376px,#e42831 384px)"></i><i style="top:448px;background:linear-gradient(90deg,#0b9ace 8px,#0b9ace 16px,#0c99cf 24px,#0c98cf 32px,#0d96cf 40px,#0f94ce 48px,#1190cc 56px,#148dca 64px,#1789c7 72px,#1886c5 80px,#1686c4 88px,#1587c4 96px,#1788c3 104px,#1e87c0 112px,#2885bd 120px,#3682ba 128px,#477fb6 136px,#5a7bb1 144px,#6c76ad 152px,#7b73aa 160px,#8970a7 168px,#956da5 176px,#a06ba4 184px,#aa69a2 192px,#b666a1 200px,#c1619f 208px,#cb589c 216px,#d34999 224px,#d93594 232px,#dd208e 240px,#e01188 248px,#e10c82 256px,#e10c7e 264px,#e10e7a 272px,#e21277 280px,#e31674 288px,#e31a71 296px,#e41d6b 304px,#e42063 312px,#e42259 320px,#e4244e 328px,#e42546 336px,#e42540 344px,#e4253c 352px,#e42639 360px,#e42737 368px,#e42734 376px,#e42731 384px)"></i><i style="top:451px;background:linear-gradient(90deg,#0b99ce 8px,#0c98ce 16px,#0c97ce 24px,#0d96ce 32px,#0e94ce 40px,#1091cd 48px,#128ecb 56px,#158ac9 64px,#1886c6 72px,#1984c4 80px,#1784c3 88px,#1685c3 96px,#1885c2 104px,#1f84c0 112px,#2982bd 120px,#3680ba 128px,#477cb5 136px,#5a78b1 144px,#6c74ad 152px,#7b71aa 160px,#886ea7 168px,#936ba5 176px,#9e69a3 184px,#a867a2 192px,#b464a0 200px,#bf609e 208px,#c9579c 216px,#d14899 224px,#d73394 232px,#dc1e8e 240px,#df0f88 248px,#e00a83 256px,#e00a7f 264px,#e10d7b 272px,#e21078 280px,#e31575 288px,#e31971 296px,#e31c6b 304px,#e31f62 312px,#e42158 320px,#e4234e 328px,#e42446 336px,#e42440 344px,#e4253c 352px,#e32539 360px,#e32637 368px,#e32634 376px,#e32631 384px)"></i><i style="top:454px;background:linear-gradient(90deg,#0b98ce 8px,#0c97ce 16px,#0c96ce 24px,#0e94ce 32px,#0f92cd 40px,#118fcc 48px,#138cca 56px,#1688c7 64px,#1984c5 72px,#1a82c3 80px,#1882c2 88px,#1783c2 96px,#1983c1 104px,#2082bf 112px,#2a80bc 120px,#377db9 128px,#4879b5 136px,#5a75b1 144px,#6c71ac 152px,#7a6ea9 160px,#876ba6 168px,#9269a4 176px,#9c66a2 184px,#a764a1 192px,#b2629f 200px,#bd5e9e 208px,#c7569c 216px,#cf4798 224px,#d63294 232px,#db1d8e 240px,#de0f89 248px,#df0984 256px,#e00980 264px,#e10b7c 272px,#e10f79 280px,#e21375 288px,#e31771 296px,#e31b6a 304px,#e31e62 312px,#e32058 320px,#e3224d 328px,#e32346 336px,#e32440 344px,#e3243d 352px,#e32539 360px,#e32537 368px,#e32634 376px,#e32632 384px)"></i><i style="top:457px;background:linear-gradient(90deg,#0c96cd 8px,#0c96cd 16px,#0d94cd 24px,#0e92cd 32px,#1090cc 40px,#128dcb 48px,#1489c9 56px,#1786c6 64px,#1982c4 72px,#1a80c2 80px,#1980c1 88px,#1881c1 96px,#1b80c0 104px,#227fbe 112px,#2b7dbc 120px,#377ab9 128px,#4877b5 136px,#5b72b0 144px,#6c6fac 152px,#7a6ca9 160px,#8669a6 168px,#9066a4 176px,#9b64a2 184px,#a561a0 192px,#af5f9f 200px,#ba5b9d 208px,#c4549b 216px,#cd4698 224px,#d33293 232px,#d91d8e 240px,#dc0f89 248px,#de0984 256px,#df0980 264px,#e00b7d 272px,#e10e79 280px,#e21275 288px,#e21671 296px,#e31a6a 304px,#e31d62 312px,#e31f58 320px,#e3214e 328px,#e32246 336px,#e32341 344px,#e3233d 352px,#e2243a 360px,#e22437 368px,#e32534 376px,#e32532 384px)"></i><i style="top:460px;background:linear-gradient(90deg,#0c95cd 8px,#0c94cd 16px,#0d92cd 24px,#0e90cc 32px,#108ecb 40px,#128bca 48px,#1587c8 56px,#1784c5 64px,#1a80c3 72px,#1a7ec1 80px,#1a7ec0 88px,#197ec0 96px,#1c7ebf 104px,#237cbd 112px,#2c7abb 120px,#3877b8 128px,#4974b4 136px,#5b70af 144px,#6c6cab 152px,#7969a8 160px,#8466a5 168px,#8f63a3 176px,#9961a1 184px,#a35e9f 192px,#ad5c9e 200px,#b8589c 208px,#c2529a 216px,#ca4497 224px,#d13193 232px,#d61e8e 240px,#da1089 248px,#dd0a85 256px,#de0981 264px,#df0b7d 272px,#e00e7a 280px,#e11276 288px,#e21571 296px,#e2196a 304px,#e21c61 312px,#e21e58 320px,#e2204e 328px,#e22147 336px,#e22241 344px,#e2233d 352px,#e2233a 360px,#e22437 368px,#e22434 376px,#e22432 384px)"></i><i style="top:463px;background:linear-gradient(90deg,#0c94cd 8px,#0c93cd 16px,#0d91cc 24px,#0f8fcc 32px,#108cca 40px,#1389c9 48px,#1586c7 56px,#1882c5 64px,#1a7fc2 72px,#1b7dc1 80px,#1a7cc0 88px,#1a7cbf 96px,#1e7bbe 104px,#2579bc 112px,#2e77ba 120px,#3a75b7 128px,#4a71b3 136px,#5c6dae 144px,#6c69aa 152px,#7867a7 160px,#8364a5 168px,#8d61a2 176px,#985d9f 184px,#a15b9e 192px,#ab589c 200px,#b5559b 208px,#bf4f99 216px,#c74296 224px,#ce3093 232px,#d41f8e 240px,#d8128a 248px,#db0b85 256px,#dd0a81 264px,#de0b7e 272px,#df0e7a 280px,#e01176 288px,#e11571 296px,#e2186a 304px,#e21b61 312px,#e11d58 320px,#e11f4f 328px,#e12047 336px,#e12142 344px,#e1223e 352px,#e1223a 360px,#e12337 368px,#e12335 376px,#e22332 384px)"></i><i style="top:466px;background:linear-gradient(90deg,#0c92cc 8px,#0c91cc 16px,#0e8fcc 24px,#0f8dcb 32px,#118aca 40px,#1387c8 48px,#1584c6 56px,#1880c4 64px,#1a7dc2 72px,#1b7bc0 80px,#1b7bbf 88px,#1c7abe 96px,#2079bc 104px,#2777bb 112px,#2f75b9 120px,#3b72b6 128px,#4b6eb2 136px,#5d6aae 144px,#6c67aa 152px,#7764a7 160px,#8161a4 168px,#8b5ea1 176px,#965a9e 184px,#a0579c 192px,#a8549b 200px,#b25199 208px,#bb4b98 216px,#c44095 224px,#cb3092 232px,#d11f8e 240px,#d6138a 248px,#d90d86 256px,#db0b82 264px,#dd0b7e 272px,#de0e7a 280px,#df1176 288px,#e01471 296px,#e1176a 304px,#e11a62 312px,#e11c58 320px,#e11e4f 328px,#e11f48 336px,#e12042 344px,#e1213e 352px,#e1223b 360px,#e12238 368px,#e12235 376px,#e12232 384px)"></i><i style="top:469px;background:linear-gradient(90deg,#0c91cc 8px,#0d90cc 16px,#0e8ecb 24px,#0f8cca 32px,#1189c9 40px,#1386c7 48px,#1582c5 56px,#187fc3 64px,#197cc1 72px,#1b7abf 80px,#1b79be 88px,#1d78bd 96px,#2276bb 104px,#2874ba 112px,#3072b8 120px,#3c6fb5 128px,#4c6cb1 136px,#5d67ad 144px,#6c64a9 152px,#7662a6 160px,#7f5fa3 168px,#895ba0 176px,#94569d 184px,#9e539b 192px,#a65099 200px,#ae4c98 208px,#b84796 216px,#c03d94 224px,#c82f91 232px,#ce208d 240px,#d3158a 248px,#d70e86 256px,#da0c82 264px,#dc0c7f 272px,#dd0e7b 280px,#de1176 288px,#df1471 296px,#e0166a 304px,#e01962 312px,#e01b59 320px,#e01d50 328px,#e01e49 336px,#e01f43 344px,#e0203f 352px,#e0213b 360px,#e02138 368px,#e02135 376px,#e12233 384px)"></i><i style="top:472px;background:linear-gradient(90deg,#0c90cc 8px,#0d8fcb 16px,#0e8dcb 24px,#0f8aca 32px,#1187c8 40px,#1384c7 48px,#1581c5 56px,#187ec2 64px,#197bc0 72px,#1a79bf 80px,#1c77bd 88px,#1e76bc 96px,#2374ba 104px,#2a72b9 112px,#3170b7 120px,#3c6db4 128px,#4c69b0 136px,#5d65ac 144px,#6b62a8 152px,#7460a6 160px,#7c5da3 168px,#86589f 176px,#92539c 184px,#9b4e99 192px,#a24b98 200px,#ab4896 208px,#b44394 216px,#bd3a92 224px,#c42d90 232px,#cb208d 240px,#d11689 248px,#d51086 256px,#d80d83 264px,#da0d7f 272px,#dc0f7b 280px,#dd1176 288px,#de1371 296px,#de166a 304px,#df1862 312px,#df1a59 320px,#df1c51 328px,#df1d4a 336px,#df1e44 344px,#df1f40 352px,#df203c 360px,#df2039 368px,#e02136 376px,#e02133 384px)"></i><i style="top:475px;background:linear-gradient(90deg,#0c8fcb 8px,#0d8dcb 16px,#0e8bca 24px,#1089c9 32px,#1186c7 40px,#1383c6 48px,#1580c4 56px,#177dc2 64px,#197ac0 72px,#1a78be 80px,#1c76bd 88px,#1e74bb 96px,#2372b9 104px,#2a70b8 112px,#316eb6 120px,#3c6bb3 128px,#4c67af 136px,#5c63ab 144px,#6960a8 152px,#715ea5 160px,#795aa3 168px,#83559f 176px,#8e4f9b 184px,#974a98 192px,#9e4696 200px,#a74394 208px,#b03e92 216px,#b93791 224px,#c12c8f 232px,#c8218c 240px,#ce1889 248px,#d31286 256px,#d60f83 264px,#d90f7f 272px,#da0f7b 280px,#db1176 288px,#dc1371 296px,#dd156a 304px,#dd1762 312px,#dd195a 320px,#de1b52 328px,#de1c4b 336px,#de1d45 344px,#de1e40 352px,#df1f3c 360px,#df1f39 368px,#df2036 376px,#df2033 384px)"></i><i style="top:478px;background:linear-gradient(90deg,#0c8dcb 8px,#0d8cca 16px,#0e8ac9 24px,#1087c8 32px,#1185c7 40px,#1381c5 48px,#157ec3 56px,#177bc1 64px,#1979bf 72px,#1a77bd 80px,#1c75bc 88px,#1e73ba 96px,#2371b9 104px,#296eb7 112px,#316cb5 120px,#3c69b2 128px,#4b65af 136px,#5b61ab 144px,#675ea7 152px,#6e5ca5 160px,#7658a2 168px,#80529e 176px,#8b4b9a 184px,#934597 192px,#9a4194 200px,#a33e92 208px,#ad3a90 216px,#b6348f 224px,#be2b8e 232px,#c6218b 240px,#cc1989 248px,#d11386 256px,#d41183 264px,#d7107f 272px,#d9107b 280px,#da1177 288px,#db1371 296px,#db146a 304px,#dc1663 312px,#dc185a 320px,#dc1a53 328px,#dd1b4c 336px,#dd1c46 344px,#dd1d41 352px,#de1e3d 360px,#de1f3a 368px,#de1f37 376px,#df1f34 384px)"></i><i style="top:481px;background:linear-gradient(90deg,#0c8cca 8px,#0d8bca 16px,#0e89c9 24px,#1086c8 32px,#1183c6 40px,#1380c4 48px,#157dc2 56px,#177ac0 64px,#1878bf 72px,#1a76bd 80px,#1b74bb 88px,#1e72ba 96px,#236fb8 104px,#286db6 112px,#2f6bb5 120px,#3a67b2 128px,#4963ae 136px,#595faa 144px,#645ca7 152px,#6b5aa5 160px,#7256a2 168px,#7c4e9d 176px,#874699 184px,#8f4096 192px,#973b92 200px,#a03990 208px,#a9368e 216px,#b3318d 224px,#bb298c 232px,#c3218b 240px,#c91a89 248px,#cf1586 256px,#d21283 264px,#d5117f 272px,#d7117b 280px,#d81176 288px,#d91271 296px,#da146a 304px,#da1663 312px,#db175b 320px,#db1953 328px,#dc1a4d 336px,#dc1b47 344px,#dc1c42 352px,#dd1d3e 360px,#dd1e3a 368px,#de1e37 376px,#de1e34 384px)"></i><i style="top:484px;background:linear-gradient(90deg,#0c8bca 8px,#0d8ac9 16px,#0e87c8 24px,#1085c7 32px,#1182c5 40px,#137fc4 48px,#157cc2 56px,#1679c0 64px,#1877be 72px,#1975bc 80px,#1b73bb 88px,#1e71b9 96px,#226fb8 104px,#276cb6 112px,#2d6ab4 120px,#3866b1 128px,#4861ae 136px,#575daa 144px,#615aa7 152px,#6858a5 160px,#6f53a1 168px,#794b9d 176px,#834298 184px,#8b3b94 192px,#943690 200px,#9d348e 208px,#a6328c 216px,#b02e8c 224px,#b8288b 232px,#c0218a 240px,#c71b88 248px,#cc1786 256px,#d01483 264px,#d3127f 272px,#d5127b 280px,#d61176 288px,#d71271 296px,#d8136a 304px,#d91563 312px,#d9175b 320px,#da1854 328px,#db194d 336px,#db1a48 344px,#dc1b43 352px,#dc1c3f 360px,#dd1d3b 368px,#dd1d38 376px,#dd1d35 384px)"></i><i style="top:487px;background:linear-gradient(90deg,#0c8ac9 8px,#0d88c9 16px,#0e86c8 24px,#1084c6 32px,#1181c5 40px,#137ec3 48px,#147bc1 56px,#1678bf 64px,#1776bd 72px,#1974bc 80px,#1a72ba 88px,#1d70b9 96px,#206eb7 104px,#256cb6 112px,#2b69b4 120px,#3665b1 128px,#4660ad 136px,#545caa 144px,#5f59a7 152px,#6556a4 160px,#6d51a1 168px,#76489c 176px,#803f96 184px,#893692 192px,#91318e 200px,#9a308b 208px,#a32e8a 216px,#ad2b8a 224px,#b6268a 232px,#be2189 240px,#c51c88 248px,#ca1886 256px,#ce1583 264px,#d1147f 272px,#d3127b 280px,#d41276 288px,#d51271 296px,#d6136b 304px,#d71463 312px,#d8165c 320px,#d91755 328px,#d9184e 336px,#da1a48 344px,#db1a44 352px,#db1b3f 360px,#dc1c3c 368px,#dc1c38 376px,#dd1c35 384px)"></i><i style="top:490px;background:linear-gradient(90deg,#0c89c9 8px,#0d87c8 16px,#0e85c7 24px,#1082c6 32px,#1180c4 40px,#137dc2 48px,#147ac1 56px,#1677bf 64px,#1775bd 72px,#1873bb 80px,#1a71ba 88px,#1c6fb8 96px,#1f6db7 104px,#236bb5 112px,#2869b4 120px,#3365b1 128px,#445fad 136px,#525aa9 144px,#5c57a6 152px,#6354a4 160px,#6a4ea0 168px,#74469b 176px,#7e3b95 184px,#873290 192px,#8f2d8b 200px,#972c89 208px,#a12b88 216px,#ab2988 224px,#b42589 232px,#bb2088 240px,#c21c88 248px,#c81986 256px,#cc1783 264px,#cf157f 272px,#d1137b 280px,#d21276 288px,#d31271 296px,#d4126b 304px,#d51464 312px,#d6155c 320px,#d71655 328px,#d8184f 336px,#d91949 344px,#da1a44 352px,#da1a40 360px,#db1b3c 368px,#db1b39 376px,#dc1c36 384px)"></i><i style="top:493px;background:linear-gradient(90deg,#0c88c8 8px,#0d86c8 16px,#0e84c7 24px,#0f81c5 32px,#117fc4 40px,#127cc2 48px,#1479c0 56px,#1577be 64px,#1674bc 72px,#1872bb 80px,#1970b9 88px,#1b6eb8 96px,#1e6db6 104px,#216bb5 112px,#2668b3 120px,#3164b0 128px,#415eac 136px,#5059a9 144px,#5a56a6 152px,#6152a3 160px,#684c9f 168px,#72439a 176px,#7b3994 184px,#852f8e 192px,#8d2a8a 200px,#952987 208px,#9f2887 216px,#a82687 224px,#b12488 232px,#b92088 240px,#c01d87 248px,#c51a86 256px,#ca1883 264px,#cd157f 272px,#cf137b 280px,#d01276 288px,#d11171 296px,#d2126b 304px,#d41364 312px,#d5145d 320px,#d61556 328px,#d71750 336px,#d8184a 344px,#d91945 352px,#d91941 360px,#da1a3d 368px,#db1a3a 376px,#db1b36 384px)"></i><i style="top:496px;background:linear-gradient(90deg,#0c87c8 8px,#0d85c7 16px,#0e83c6 24px,#0f80c5 32px,#117ec3 40px,#127bc1 48px,#1478bf 56px,#1576be 64px,#1673bc 72px,#1771ba 80px,#196fb9 88px,#1a6eb7 96px,#1c6cb6 104px,#1f6ab5 112px,#2468b3 120px,#2e64b0 128px,#3f5dac 136px,#4e58a8 144px,#5854a6 152px,#5f50a3 160px,#674a9f 168px,#70419a 176px,#793793 184px,#832d8d 192px,#8b2888 200px,#942786 208px,#9d2685 216px,#a72586 224px,#af2387 232px,#b72087 240px,#be1d87 248px,#c31b85 256px,#c71983 264px,#ca167f 272px,#cc137b 280px,#ce1176 288px,#cf1171 296px,#d0116b 304px,#d21264 312px,#d3135d 320px,#d41557 328px,#d61651 336px,#d7174b 344px,#d71846 352px,#d81842 360px,#d9193e 368px,#da1a3a 376px,#db1a37 384px)"></i><i style="top:499px;background:linear-gradient(90deg,#0c86c8 8px,#0d84c7 16px,#0e82c6 24px,#0f7fc4 32px,#117dc2 40px,#127ac1 48px,#1377bf 56px,#1575bd 64px,#1673bb 72px,#1771ba 80px,#186fb8 88px,#1a6db7 96px,#1c6cb5 104px,#1e6ab4 112px,#2268b2 120px,#2c63b0 128px,#3d5cac 136px,#4c57a8 144px,#5653a5 152px,#5e4fa2 160px,#65499e 168px,#6e4099 176px,#773693 184px,#812c8d 192px,#8a2788 200px,#922585 208px,#9b2484 216px,#a52385 224px,#ad2286 232px,#b52087 240px,#bb1e87 248px,#c11b85 256px,#c51983 264px,#c8167f 272px,#ca137a 280px,#cc1176 288px,#cd1170 296px,#cf116b 304px,#d01264 312px,#d2135e 320px,#d31457 328px,#d41551 336px,#d5164c 344px,#d61747 352px,#d71842 360px,#d8183e 368px,#d9193b 376px,#da1938 384px)"></i><i style="top:502px;background:linear-gradient(90deg,#0c85c7 8px,#0d83c6 16px,#0e81c5 24px,#0f7ec3 32px,#117cc2 40px,#1279c0 48px,#1377be 56px,#1474bc 64px,#1672bb 72px,#1770b9 80px,#186eb8 88px,#196cb6 96px,#1b6bb5 104px,#1d69b4 112px,#2267b2 120px,#2b63af 128px,#3c5cab 136px,#4a56a8 144px,#5452a5 152px,#5c4da2 160px,#64479e 168px,#6d3f99 176px,#763593 184px,#7f2c8d 192px,#882688 200px,#912485 208px,#9a2283 216px,#a32284 224px,#ac2185 232px,#b32087 240px,#b91e87 248px,#be1c85 256px,#c31982 264px,#c5167e 272px,#c8137a 280px,#c91175 288px,#cb1070 296px,#cd106b 304px,#ce1165 312px,#d0125e 320px,#d21358 328px,#d31452 336px,#d4154d 344px,#d51648 352px,#d61743 360px,#d7173f 368px,#d8183c 376px,#d91838 384px)"></i><i style="top:505px;background:linear-gradient(90deg,#0c84c7 8px,#0d82c6 16px,#0e80c5 24px,#0f7dc3 32px,#107bc1 40px,#1278bf 48px,#1376be 56px,#1473bc 64px,#1571ba 72px,#176fb8 80px,#186db7 88px,#196cb6 96px,#1b6ab4 104px,#1e68b3 112px,#2266b1 120px,#2b62ae 128px,#3b5bab 136px,#4955a7 144px,#5351a4 152px,#5b4ca1 160px,#63469e 168px,#6b3e99 176px,#743593 184px,#7e2c8d 192px,#872688 200px,#8f2384 208px,#992183 216px,#a22083 224px,#aa2085 232px,#b12087 240px,#b71e87 248px,#bc1c86 256px,#c01982 264px,#c3157e 272px,#c5127a 280px,#c71075 288px,#c91070 296px,#cb106b 304px,#cd1065 312px,#cf115f 320px,#d01259 328px,#d21353 336px,#d3144d 344px,#d41548 352px,#d51644 360px,#d61640 368px,#d7173c 376px,#d81739 384px)"></i><i style="top:508px;background:linear-gradient(90deg,#0c83c6 8px,#0d81c5 16px,#0e7fc4 24px,#0f7cc2 32px,#107ac1 40px,#1277bf 48px,#1375bd 56px,#1473bb 64px,#1570b9 72px,#176eb8 80px,#186db6 88px,#196bb5 96px,#1b69b3 104px,#1e67b2 112px,#2365b0 120px,#2c61ae 128px,#3b5aaa 136px,#4855a7 144px,#5250a4 152px,#5a4ba1 160px,#62469e 168px,#6a3e99 176px,#733593 184px,#7c2d8d 192px,#852688 200px,#8e2384 208px,#982183 216px,#a12083 224px,#a92085 232px,#af2087 240px,#b51f87 248px,#ba1c86 256px,#bd1982 264px,#c0157e 272px,#c3117a 280px,#c51075 288px,#c70f70 296px,#c90f6b 304px,#cb1065 312px,#cd115f 320px,#cf1259 328px,#d01353 336px,#d2144e 344px,#d31449 352px,#d41545 360px,#d51641 368px,#d6163d 376px,#d7163a 384px)"></i><i style="top:511px;background:linear-gradient(90deg,#0c82c6 8px,#0d80c5 16px,#0e7ec4 24px,#0f7cc2 32px,#1079c0 40px,#1277be 48px,#1374bc 56px,#1472bb 64px,#1570b9 72px,#176eb7 80px,#186cb6 88px,#1a6ab4 96px,#1c68b3 104px,#1f66b1 112px,#2564af 120px,#2e5fad 128px,#3b5aa9 136px,#4754a6 144px,#514fa3 152px,#594ba1 160px,#61459d 168px,#693e99 176px,#713694 184px,#7b2e8e 192px,#842788 200px,#8d2385 208px,#972083 216px,#a01f83 224px,#a72085 232px,#ad2088 240px,#b31f88 248px,#b71c86 256px,#bb1882 264px,#be147e 272px,#c01179 280px,#c30f75 288px,#c50f70 296px,#c80f6b 304px,#ca0f65 312px,#cc105f 320px,#cd115a 328px,#cf1254 336px,#d1134f 344px,#d2144a 352px,#d31445 360px,#d51541 368px,#d6153e 376px,#d7163a 384px)"></i><i style="top:514px;background:linear-gradient(90deg,#0c81c5 8px,#0d80c5 16px,#0e7dc3 24px,#0f7bc1 32px,#1078c0 40px,#1276be 48px,#1373bc 56px,#1471ba 64px,#166fb8 72px,#176db6 80px,#196bb5 88px,#1b69b3 96px,#1d67b2 104px,#2165b0 112px,#2762ae 120px,#305eac 128px,#3c59a9 136px,#4753a6 144px,#514fa3 152px,#594aa0 160px,#60459d 168px,#683e99 176px,#703794 184px,#7a2e8e 192px,#832889 200px,#8c2385 208px,#962083 216px,#9e1f83 224px,#a52086 232px,#ab2188 240px,#b01f88 248px,#b51c86 256px,#b91882 264px,#bc147e 272px,#be1179 280px,#c10f75 288px,#c30f70 296px,#c60f6b 304px,#c80f65 312px,#ca1060 320px,#cc105a 328px,#ce1155 336px,#cf124f 344px,#d1134b 352px,#d21446 360px,#d41442 368px,#d5143e 376px,#d6153b 384px)"></i><i style="top:517px;background:linear-gradient(90deg,#0c80c5 8px,#0d7fc4 16px,#0e7cc3 24px,#0f7ac1 32px,#1077bf 40px,#1275bd 48px,#1372bb 56px,#1470b9 64px,#166eb8 72px,#176cb6 80px,#196ab4 88px,#1c68b2 96px,#1f66b1 104px,#2364af 112px,#2961ad 120px,#325daa 128px,#3d58a8 136px,#4853a5 144px,#514ea2 152px,#5849a0 160px,#5f449d 168px,#673f99 176px,#6f3795 184px,#782f8f 192px,#82288a 200px,#8b2486 208px,#942184 216px,#9d1f84 224px,#a42086 232px,#a92189 240px,#ae1f89 248px,#b31c86 256px,#b71882 264px,#ba147e 272px,#bc1179 280px,#bf0f75 288px,#c20e70 296px,#c40e6b 304px,#c70f66 312px,#c90f60 320px,#cb105b 328px,#cd1155 336px,#ce1150 344px,#d0124b 352px,#d11347 360px,#d31343 368px,#d4143f 376px,#d5143c 384px)"></i><i style="top:520px;background:linear-gradient(90deg,#0c7fc5 8px,#0d7ec4 16px,#0e7bc2 24px,#0f79c0 32px,#1077bf 40px,#1274bd 48px,#1372bb 56px,#156fb9 64px,#166db7 72px,#186bb5 80px,#1a69b3 88px,#1d67b2 96px,#2065b0 104px,#2563ae 112px,#2c5fac 120px,#355ba9 128px,#3f57a7 136px,#4852a4 144px,#514da2 152px,#58499f 160px,#5f449d 168px,#663f99 176px,#6e3895 184px,#783090 192px,#81298b 200px,#8a2487 208px,#932185 216px,#9b2084 224px,#a22087 232px,#a82189 240px,#ac1f89 248px,#b11c86 256px,#b51883 264px,#b8147e 272px,#ba117a 280px,#bd0f75 288px,#c00e70 296px,#c30e6b 304px,#c50e66 312px,#c70f61 320px,#c90f5b 328px,#cb1056 336px,#cd1151 344px,#cf114c 352px,#d01248 360px,#d21343 368px,#d31340 376px,#d4133c 384px)"></i><i style="top:523px;background:linear-gradient(90deg,#0c7fc4 8px,#0d7dc3 16px,#0e7bc2 24px,#0f78c0 32px,#1176be 40px,#1273bc 48px,#1371ba 56px,#156fb8 64px,#176cb6 72px,#196ab4 80px,#1b68b3 88px,#1e66b1 96px,#2264af 104px,#2761ad 112px,#2e5eab 120px,#375aa8 128px,#4155a6 136px,#4951a3 144px,#514ca1 152px,#58489f 160px,#5f449c 168px,#663e99 176px,#6e3895 184px,#773190 192px,#802a8b 200px,#892588 208px,#922285 216px,#9a2085 224px,#a02187 232px,#a62189 240px,#ab1f89 248px,#af1c86 256px,#b31883 264px,#b6147e 272px,#b9117a 280px,#bc0f75 288px,#be0e70 296px,#c10e6b 304px,#c40e66 312px,#c60e61 320px,#c80f5c 328px,#ca1056 336px,#cc1051 344px,#ce114d 352px,#cf1148 360px,#d11244 368px,#d21240 376px,#d3123d 384px)"></i><i style="top:526px;background:linear-gradient(90deg,#0c7ec4 8px,#0d7cc3 16px,#0e7ac1 24px,#0f77bf 32px,#1175be 40px,#1273bc 48px,#1470ba 56px,#156eb8 64px,#176cb6 72px,#1969b4 80px,#1c67b2 88px,#2065b0 96px,#2463ae 104px,#2a60ac 112px,#315da9 120px,#3a59a7 128px,#4354a5 136px,#4b50a2 144px,#524ca0 152px,#58489e 160px,#5f439c 168px,#653e99 176px,#6d3895 184px,#763191 192px,#7f2b8c 200px,#882689 208px,#912387 216px,#982186 224px,#9f2188 232px,#a42189 240px,#a91f89 248px,#ad1c86 256px,#b11883 264px,#b4147e 272px,#b7117a 280px,#ba0f75 288px,#bd0e71 296px,#c00e6c 304px,#c20e66 312px,#c50e61 320px,#c70e5c 328px,#c90f57 336px,#cb1052 344px,#cd104d 352px,#ce1149 360px,#d01145 368px,#d11141 376px,#d3123d 384px)"></i><i style="top:529px;background:linear-gradient(90deg,#0c7dc4 8px,#0d7bc3 16px,#0e79c1 24px,#0f77bf 32px,#1174bd 40px,#1272bb 48px,#146fb9 56px,#166db7 64px,#186bb5 72px,#1a69b3 80px,#1d66b1 88px,#2164af 96px,#2661ad 104px,#2c5fab 112px,#345ba8 120px,#3c57a6 128px,#4553a3 136px,#4c4fa1 144px,#524b9f 152px,#58479e 160px,#5e439c 168px,#653e99 176px,#6d3895 184px,#753191 192px,#7e2b8d 200px,#872789 208px,#8f2388 216px,#972287 224px,#9d2188 232px,#a22189 240px,#a71f89 248px,#ab1c86 256px,#af1883 264px,#b2147e 272px,#b5117a 280px,#b80f75 288px,#bb0e71 296px,#be0e6c 304px,#c10d67 312px,#c30e62 320px,#c60e5d 328px,#c80f57 336px,#ca0f53 344px,#cc104e 352px,#cd104a 360px,#cf1046 368px,#d01142 376px,#d2113e 384px)"></i><i style="top:532px;background:linear-gradient(90deg,#0c7cc3 8px,#0d7bc2 16px,#0e78c0 24px,#1076bf 32px,#1174bd 40px,#1271bb 48px,#146fb8 56px,#166cb6 64px,#186ab4 72px,#1b68b2 80px,#1e65b0 88px,#2263ae 96px,#2860ac 104px,#2f5da9 112px,#375aa7 120px,#3f56a5 128px,#4752a2 136px,#4d4ea0 144px,#534a9f 152px,#59469d 160px,#5e429b 168px,#653d98 176px,#6c3895 184px,#753291 192px,#7e2c8d 200px,#86278a 208px,#8e2488 216px,#952288 224px,#9c2289 232px,#a12189 240px,#a61f89 248px,#aa1c86 256px,#ad1883 264px,#b1147f 272px,#b4127a 280px,#b70f76 288px,#ba0e71 296px,#bd0d6c 304px,#bf0d67 312px,#c20d62 320px,#c40e5d 328px,#c70e58 336px,#c90e53 344px,#ca0f4f 352px,#cc0f4a 360px,#ce1046 368px,#cf1042 376px,#d1103f 384px)"></i><i style="top:535px;background:linear-gradient(90deg,#0c7bc3 8px,#0d7ac2 16px,#0e78c0 24px,#1075be 32px,#1173bc 40px,#1370ba 48px,#156eb8 56px,#176bb6 64px,#1969b4 72px,#1c67b1 80px,#1f64af 88px,#2462ad 96px,#2a5fab 104px,#315ca8 112px,#3958a6 120px,#4155a3 128px,#4951a1 136px,#4f4d9f 144px,#54499e 152px,#59459c 160px,#5e419a 168px,#653d98 176px,#6c3895 184px,#743291 192px,#7d2d8e 200px,#85288b 208px,#8d2589 216px,#942389 224px,#9a2289 232px,#9f2189 240px,#a41f88 248px,#a81c86 256px,#ac1883 264px,#af157f 272px,#b2127a 280px,#b61076 288px,#b90e71 296px,#bb0d6c 304px,#be0d67 312px,#c10d62 320px,#c30d5d 328px,#c50e59 336px,#c70e54 344px,#c90e4f 352px,#cb0f4b 360px,#cd0f47 368px,#cf0f43 376px,#d0103f 384px)"></i><i style="top:538px;background:linear-gradient(90deg,#0d7bc3 8px,#0d79c1 16px,#0f77c0 24px,#1074be 32px,#1172bc 40px,#1370ba 48px,#156db7 56px,#176bb5 64px,#1a68b3 72px,#1d66b1 80px,#2063ae 88px,#2561ac 96px,#2b5eaa 104px,#335ba7 112px,#3b57a5 120px,#4453a2 128px,#4b4fa0 136px,#504c9f 144px,#54489d 152px,#59449c 160px,#5e419a 168px,#643c98 176px,#6c3795 184px,#743292 192px,#7c2d8f 200px,#84298c 208px,#8c258a 216px,#932389 224px,#992289 232px,#9e2089 240px,#a21e88 248px,#a71b86 256px,#aa1883 264px,#ae157f 272px,#b1127a 280px,#b41076 288px,#b70e71 296px,#ba0d6c 304px,#bd0d68 312px,#bf0d63 320px,#c20d5e 328px,#c40d59 336px,#c60e54 344px,#c80e50 352px,#ca0e4c 360px,#cc0f47 368px,#ce0f44 376px,#cf0f40 384px)"></i><i style="top:541px;background:linear-gradient(90deg,#0d7ac2 8px,#0e78c1 16px,#0f76bf 24px,#1074bd 32px,#1271bb 40px,#136fb9 48px,#156cb7 56px,#186ab5 64px,#1a67b2 72px,#1d65b0 80px,#2162ae 88px,#2660ab 96px,#2d5da9 104px,#3459a6 112px,#3d56a4 120px,#4552a1 128px,#4c4e9f 136px,#514b9e 144px,#55479c 152px,#59449b 160px,#5e4099 168px,#643c97 176px,#6b3795 184px,#733292 192px,#7c2d8f 200px,#83298d 208px,#8b268b 216px,#91248a 224px,#97228a 232px,#9c2089 240px,#a11e88 248px,#a51b86 256px,#a91882 264px,#ac157f 272px,#b0127a 280px,#b31076 288px,#b60e71 296px,#b90d6d 304px,#bc0d68 312px,#be0d63 320px,#c10d5e 328px,#c30d5a 336px,#c50d55 344px,#c70d50 352px,#c90e4c 360px,#cb0e48 368px,#cd0e44 376px,#ce0e41 384px)"></i><i style="top:544px;background:linear-gradient(90deg,#0d79c2 8px,#0e78c1 16px,#0f75bf 24px,#1173bd 32px,#1271bb 40px,#146eb9 48px,#166cb6 56px,#1869b4 64px,#1b67b2 72px,#1e64af 80px,#2261ad 88px,#285fab 96px,#2e5ba8 104px,#3658a6 112px,#3e55a3 120px,#4751a1 128px,#4d4d9f 136px,#514a9d 144px,#55469c 152px,#59439a 160px,#5e3f99 168px,#643b97 176px,#6b3794 184px,#733292 192px,#7b2e8f 200px,#832a8d 208px,#8a268b 216px,#90248a 224px,#96228a 232px,#9b2089 240px,#a01e88 248px,#a41b85 256px,#a81882 264px,#ab157f 272px,#ae127a 280px,#b21076 288px,#b50e72 296px,#b80d6d 304px,#ba0d68 312px,#bd0c63 320px,#c00c5f 328px,#c20c5a 336px,#c40d55 344px,#c60d51 352px,#c80d4d 360px,#ca0d49 368px,#cc0e45 376px,#ce0e41 384px)"></i><i style="top:547px;background:linear-gradient(90deg,#0d79c2 8px,#0e77c0 16px,#0f75bf 24px,#1172bd 32px,#1270ba 40px,#146db8 48px,#166bb6 56px,#1968b4 64px,#1b66b1 72px,#1f63af 80px,#2360ac 88px,#295eaa 96px,#2f5aa7 104px,#3757a5 112px,#3f53a2 120px,#4750a0 128px,#4e4c9e 136px,#52499c 144px,#55459b 152px,#594299 160px,#5e3e98 168px,#643b96 176px,#6b3694 184px,#723292 192px,#7a2e90 200px,#822a8e 208px,#89278c 216px,#8f248b 224px,#95228a 232px,#9a2089 240px,#9e1e88 248px,#a21b85 256px,#a61882 264px,#aa157f 272px,#ad127a 280px,#b01076 288px,#b30f72 296px,#b60d6d 304px,#b90d69 312px,#bc0c64 320px,#bf0c5f 328px,#c10c5a 336px,#c30c56 344px,#c50c52 352px,#c70d4d 360px,#c90d49 368px,#cb0d45 376px,#cd0d42 384px)"></i><i style="top:550px;background:linear-gradient(90deg,#0d78c1 8px,#0e76c0 16px,#1074be 24px,#1172bc 32px,#136fba 40px,#156db8 48px,#176ab6 56px,#1968b3 64px,#1c65b1 72px,#2062ae 80px,#2460ac 88px,#295da9 96px,#3059a7 104px,#3856a4 112px,#4052a2 120px,#484f9f 128px,#4e4b9d 136px,#52489c 144px,#56449a 152px,#594199 160px,#5e3e97 168px,#643a96 176px,#6a3694 184px,#723292 192px,#7a2e90 200px,#812a8e 208px,#88278c 216px,#8e248b 224px,#93228a 232px,#982089 240px,#9d1e87 248px,#a11b85 256px,#a51882 264px,#a8157e 272px,#ac127b 280px,#af1076 288px,#b20f72 296px,#b50d6d 304px,#b80d69 312px,#bb0c64 320px,#bd0c60 328px,#c00c5b 336px,#c20c56 344px,#c40c52 352px,#c60c4e 360px,#c80c4a 368px,#ca0c46 376px,#cc0d43 384px)"></i><i style="top:553px;background:linear-gradient(90deg,#0e77c1 8px,#0e76c0 16px,#1073be 24px,#1171bc 32px,#136fba 40px,#156cb7 48px,#176ab5 56px,#1a67b3 64px,#1d64b0 72px,#2062ae 80px,#255fab 88px,#2a5ca9 96px,#3158a6 104px,#3855a3 112px,#4051a1 120px,#484e9f 128px,#4e4a9d 136px,#52479b 144px,#56439a 152px,#594098 160px,#5d3d97 168px,#633995 176px,#6a3694 184px,#723292 192px,#792e90 200px,#802a8e 208px,#87278d 216px,#8d248b 224px,#92228a 232px,#972089 240px,#9c1d87 248px,#a01b85 256px,#a41882 264px,#a7157e 272px,#ab127b 280px,#ae1076 288px,#b10f72 296px,#b40d6e 304px,#b70d69 312px,#ba0c64 320px,#bc0c60 328px,#bf0c5b 336px,#c10c57 344px,#c30c53 352px,#c60c4f 360px,#c80c4b 368px,#c90c47 376px,#cb0c43 384px)"></i><i style="top:556px;background:linear-gradient(90deg,#0e77c1 8px,#0f75c0 16px,#1073be 24px,#1270bc 32px,#146eb9 40px,#156bb7 48px,#1869b5 56px,#1a66b2 64px,#1d64b0 72px,#2161ad 80px,#255eab 88px,#2b5ba8 96px,#3157a6 104px,#3854a3 112px,#4050a0 120px,#474d9e 128px,#4d499c 136px,#52469a 144px,#554399 152px,#593f98 160px,#5d3c96 168px,#633995 176px,#6a3594 184px,#713292 192px,#782e90 200px,#7f2a8f 208px,#86278d 216px,#8c258c 224px,#91228a 232px,#962089 240px,#9b1d87 248px,#9f1b85 256px,#a31882 264px,#a6157e 272px,#aa137b 280px,#ad1076 288px,#b00f72 296px,#b30d6e 304px,#b60c69 312px,#b90c65 320px,#bb0b60 328px,#be0b5c 336px,#c00b57 344px,#c30b53 352px,#c50b4f 360px,#c70b4b 368px,#c90b47 376px,#ca0b44 384px)"></i><i style="top:559px;background:linear-gradient(90deg,#0e76c1 8px,#0f75bf 16px,#1172bd 24px,#1270bb 32px,#146db9 40px,#166bb7 48px,#1868b4 56px,#1b66b2 64px,#1e63af 72px,#2260ad 80px,#265daa 88px,#2b5aa8 96px,#3257a5 104px,#3953a3 112px,#4050a0 120px,#474c9e 128px,#4d489c 136px,#52459a 144px,#554299 152px,#593f97 160px,#5d3b96 168px,#633895 176px,#693593 184px,#713192 192px,#782e90 200px,#7e2a8f 208px,#85278d 216px,#8b258c 224px,#90228a 232px,#952089 240px,#991d87 248px,#9d1a85 256px,#a11882 264px,#a5157e 272px,#a8137b 280px,#ac1077 288px,#af0f72 296px,#b20d6e 304px,#b50c6a 312px,#b80c65 320px,#ba0b61 328px,#bd0b5c 336px,#bf0b58 344px,#c20b54 352px,#c40b50 360px,#c60b4c 368px,#c80b48 376px,#ca0b44 384px)"></i><i style="top:562px;background:linear-gradient(90deg,#0e75c1 8px,#0f74bf 16px,#1172bd 24px,#136fbb 32px,#146db9 40px,#166ab7 48px,#1968b4 56px,#1b65b2 64px,#1e62af 72px,#225fac 80px,#275caa 88px,#2c59a7 96px,#3256a5 104px,#3952a2 112px,#404fa0 120px,#474b9d 128px,#4d489b 136px,#51449a 144px,#554198 152px,#593e97 160px,#5d3b96 168px,#633894 176px,#693493 184px,#703192 192px,#772e90 200px,#7e2a8f 208px,#84278d 216px,#8a258c 224px,#8f228a 232px,#942089 240px,#981d87 248px,#9c1a84 256px,#a01882 264px,#a4157e 272px,#a7137b 280px,#ab1177 288px,#ae0f72 296px,#b10d6e 304px,#b40c6a 312px,#b70c65 320px,#b90b61 328px,#bc0b5d 336px,#be0b58 344px,#c10a54 352px,#c30a50 360px,#c50a4c 368px,#c70a48 376px,#c90a45 384px)"></i><i style="top:565px;background:linear-gradient(90deg,#0f75c0 8px,#1073bf 16px,#1171bd 24px,#136fbb 32px,#156cb9 40px,#176ab6 48px,#1967b4 56px,#1c64b1 64px,#1f62af 72px,#235fac 80px,#275ca9 88px,#2c58a7 96px,#3255a4 104px,#3852a2 112px,#3f4e9f 120px,#464a9d 128px,#4c479b 136px,#514499 144px,#554098 152px,#593d96 160px,#5d3a95 168px,#633794 176px,#693493 184px,#703192 192px,#762d90 200px,#7d2a8f 208px,#83278d 216px,#89258c 224px,#8e228a 232px,#931f89 240px,#971d87 248px,#9b1a84 256px,#9f1881 264px,#a3157e 272px,#a6137b 280px,#aa1177 288px,#ad0f73 296px,#b00d6e 304px,#b30c6a 312px,#b60c66 320px,#b80b61 328px,#bb0b5d 336px,#bd0a59 344px,#c00a55 352px,#c20a51 360px,#c40a4d 368px,#c60a49 376px,#c80a45 384px)"></i><i style="top:568px;background:linear-gradient(90deg,#0f74c0 8px,#1073bf 16px,#1270bd 24px,#136ebb 32px,#156cb8 40px,#1769b6 48px,#1a66b4 56px,#1d64b1 64px,#2061ae 72px,#235eac 80px,#275ba9 88px,#2c58a7 96px,#3254a4 104px,#3851a2 112px,#3f4d9f 120px,#454a9d 128px,#4b469b 136px,#514399 144px,#554098 152px,#593c96 160px,#5e3995 168px,#633694 176px,#693393 184px,#6f3092 192px,#762d90 200px,#7c2a8f 208px,#82278d 216px,#88258c 224px,#8d228a 232px,#921f89 240px,#961d87 248px,#9a1a84 256px,#9e1881 264px,#a2157e 272px,#a5137b 280px,#a91177 288px,#ac0f73 296px,#af0d6f 304px,#b20c6a 312px,#b50b66 320px,#b70b62 328px,#ba0a5e 336px,#bd0a59 344px,#bf0a55 352px,#c10a51 360px,#c3094d 368px,#c5094a 376px,#c70946 384px)"></i><i style="top:571px;background:linear-gradient(90deg,#0f74c0 8px,#1072bf 16px,#1270bd 24px,#146dbb 32px,#166bb8 40px,#1869b6 48px,#1a66b3 56px,#1d63b1 64px,#2060ae 72px,#245dac 80px,#285aa9 88px,#2d57a6 96px,#3254a4 104px,#3850a2 112px,#3e4d9f 120px,#45499d 128px,#4b469b 136px,#504299 144px,#553f97 152px,#5a3c96 160px,#5e3995 168px,#633694 176px,#693393 184px,#6f3092 192px,#752d90 200px,#7b2a8f 208px,#81278d 216px,#87248c 224px,#8c228a 232px,#911f89 240px,#951d87 248px,#991a84 256px,#9d1781 264px,#a1157e 272px,#a4137b 280px,#a81177 288px,#ab0f73 296px,#ae0d6f 304px,#b10c6b 312px,#b40b66 320px,#b60b62 328px,#b90a5e 336px,#bc0a5a 344px,#be0956 352px,#c00952 360px,#c2094e 368px,#c5094a 376px,#c60947 384px)"></i><i style="top:574px;background:linear-gradient(90deg,#1073c0 8px,#1172bf 16px,#126fbd 24px,#146dba 32px,#166bb8 40px,#1968b6 48px,#1b65b3 56px,#1e63b1 64px,#2160ae 72px,#245dab 80px,#285aa9 88px,#2d56a6 96px,#3253a4 104px,#3850a2 112px,#3e4c9f 120px,#44499d 128px,#4a459b 136px,#504299 144px,#553e97 152px,#5a3b96 160px,#5e3895 168px,#633694 176px,#693393 184px,#6f3092 192px,#752d90 200px,#7b2a8f 208px,#80278d 216px,#86248c 224px,#8b228a 232px,#901f89 240px,#941c86 248px,#981a84 256px,#9c1781 264px,#a0157e 272px,#a3137a 280px,#a71177 288px,#aa0f73 296px,#ad0d6f 304px,#b00c6b 312px,#b30b67 320px,#b60a62 328px,#b80a5e 336px,#bb095a 344px,#bd0956 352px,#bf0952 360px,#c2094e 368px,#c4094b 376px,#c60847 384px)"></i><i style="top:577px;background:linear-gradient(90deg,#1073c0 8px,#1171bf 16px,#136fbd 24px,#156cba 32px,#176ab8 40px,#1967b6 48px,#1c65b3 56px,#1e62b1 64px,#215fae 72px,#255cab 80px,#2959a9 88px,#2d56a6 96px,#3253a4 104px,#384fa2 112px,#3d4c9f 120px,#44489d 128px,#4a459b 136px,#504199 144px,#553e97 152px,#5a3b96 160px,#5e3895 168px,#633594 176px,#683293 184px,#6e2f91 192px,#742d90 200px,#7a2a8f 208px,#80278d 216px,#85248c 224px,#8a228a 232px,#8f1f88 240px,#931c86 248px,#971a84 256px,#9b1781 264px,#9f157e 272px,#a2137a 280px,#a61177 288px,#a90f73 296px,#ac0d6f 304px,#af0c6b 312px,#b20b67 320px,#b50a63 328px,#b70a5f 336px,#ba095b 344px,#bc0957 352px,#bf0953 360px,#c1084f 368px,#c3084b 376px,#c50848 384px)"></i><i style="top:580px;background:linear-gradient(90deg,#1172c0 8px,#1271be 16px,#136ebc 24px,#156cba 32px,#1769b8 40px,#1a67b6 48px,#1c64b3 56px,#1f62b1 64px,#225fae 72px,#255cab 80px,#2959a9 88px,#2e56a6 96px,#3252a4 104px,#374fa2 112px,#3d4b9f 120px,#43489d 128px,#49449b 136px,#4f4199 144px,#553e98 152px,#593a96 160px,#5e3895 168px,#633594 176px,#683293 184px,#6e2f91 192px,#742c90 200px,#7a2a8f 208px,#7f278d 216px,#84248c 224px,#89218a 232px,#8e1f88 240px,#921c86 248px,#961a84 256px,#9a1781 264px,#9e157e 272px,#a1137a 280px,#a51177 288px,#a80f73 296px,#ab0d6f 304px,#ae0c6b 312px,#b10b67 320px,#b40a63 328px,#b60a5f 336px,#b9095b 344px,#bc0957 352px,#be0853 360px,#c0084f 368px,#c2084c 376px,#c40748 384px)"></i><i style="top:583px;background:linear-gradient(90deg,#1171c0 8px,#1270be 16px,#146ebc 24px,#166bba 32px,#1869b8 40px,#1a66b6 48px,#1d64b3 56px,#2061b1 64px,#235eae 72px,#265bab 80px,#2a58a9 88px,#2e55a7 96px,#3352a4 104px,#374ea2 112px,#3d4ba0 120px,#43479d 128px,#49449b 136px,#4f4099 144px,#543d98 152px,#593a96 160px,#5e3795 168px,#633494 176px,#683293 184px,#6e2f91 192px,#732c90 200px,#79298f 208px,#7e278d 216px,#83248c 224px,#88218a 232px,#8d1f88 240px,#911c86 248px,#951a84 256px,#991781 264px,#9d157e 272px,#a0137a 280px,#a41177 288px,#a70f73 296px,#aa0d6f 304px,#ad0c6b 312px,#b00b67 320px,#b30a63 328px,#b6095f 336px,#b8095b 344px,#bb0857 352px,#bd0854 360px,#bf0850 368px,#c2074c 376px,#c40749 384px)"></i><i style="top:586px;background:linear-gradient(90deg,#1171c0 8px,#126fbe 16px,#146dbc 24px,#166bba 32px,#1868b8 40px,#1b66b6 48px,#1d63b3 56px,#2061b1 64px,#235eae 72px,#275bac 80px,#2b58a9 88px,#2f55a7 96px,#3351a4 104px,#384ea2 112px,#3d4aa0 120px,#42479e 128px,#49439b 136px,#4f409a 144px,#543d98 152px,#593a96 160px,#5e3795 168px,#633494 176px,#683193 184px,#6d2f91 192px,#732c90 200px,#78298f 208px,#7e268d 216px,#83248c 224px,#88218a 232px,#8c1f88 240px,#901c86 248px,#951a83 256px,#981781 264px,#9c157e 272px,#a0137a 280px,#a31177 288px,#a60f73 296px,#a90d6f 304px,#ac0c6c 312px,#af0b68 320px,#b20a64 328px,#b50960 336px,#b7095c 344px,#ba0858 352px,#bc0854 360px,#bf0750 368px,#c1074d 376px,#c30749 384px)"></i><i style="top:589px;background:linear-gradient(90deg,#1270c0 8px,#136fbe 16px,#156dbc 24px,#176aba 32px,#1968b8 40px,#1b66b6 48px,#1e63b3 56px,#2160b1 64px,#245eae 72px,#285bac 80px,#2b58a9 88px,#2f55a7 96px,#3351a5 104px,#384ea2 112px,#3d4aa0 120px,#42479e 128px,#48439c 136px,#4e409a 144px,#543d98 152px,#593a96 160px,#5e3795 168px,#633494 176px,#683193 184px,#6d2e91 192px,#732c90 200px,#78298f 208px,#7d268d 216px,#82248c 224px,#87218a 232px,#8b1e88 240px,#901c86 248px,#941983 256px,#981781 264px,#9b157e 272px,#9f137a 280px,#a21177 288px,#a50f73 296px,#a90d70 304px,#ac0c6c 312px,#ae0b68 320px,#b10a64 328px,#b40960 336px,#b7085c 344px,#b90858 352px,#bc0754 360px,#be0751 368px,#c0074d 376px,#c2064a 384px)"></i><i style="top:592px;background:linear-gradient(90deg,#1270c0 8px,#136ebe 16px,#156cbc 24px,#176aba 32px,#1a68b8 40px,#1c65b6 48px,#1f63b3 56px,#2260b1 64px,#255daf 72px,#285aac 80px,#2c57aa 88px,#3054a7 96px,#3451a5 104px,#384ea3 112px,#3d4aa0 120px,#42469e 128px,#48439c 136px,#4e409a 144px,#543c98 152px,#593997 160px,#5e3695 168px,#633494 176px,#683193 184px,#6d2e92 192px,#722b90 200px,#77298f 208px,#7c268d 216px,#81238c 224px,#86218a 232px,#8b1e88 240px,#8f1c86 248px,#931983 256px,#971781 264px,#9a157e 272px,#9e137a 280px,#a11177 288px,#a50f73 296px,#a80d70 304px,#ab0c6c 312px,#ae0b68 320px,#b00a64 328px,#b30960 336px,#b6085d 344px,#b80759 352px,#bb0755 360px,#bd0751 368px,#bf064e 376px,#c1064a 384px)"></i><i style="top:595px;background:linear-gradient(90deg,#136fc0 8px,#146ebe 16px,#166cbc 24px,#1869ba 32px,#1a67b8 40px,#1d65b6 48px,#1f62b3 56px,#2260b1 64px,#265daf 72px,#295aac 80px,#2d57aa 88px,#3154a8 96px,#3551a6 104px,#394da3 112px,#3d4aa1 120px,#43469f 128px,#48439c 136px,#4e3f9a 144px,#533c99 152px,#593997 160px,#5e3695 168px,#633394 176px,#683193 184px,#6d2e92 192px,#722b90 200px,#77298f 208px,#7c268d 216px,#81238c 224px,#85218a 232px,#8a1e88 240px,#8e1c86 248px,#921983 256px,#961781 264px,#9a157e 272px,#9d127a 280px,#a01177 288px,#a40f74 296px,#a70d70 304px,#aa0c6c 312px,#ad0b68 320px,#b00a65 328px,#b20961 336px,#b5085d 344px,#b80759 352px,#ba0755 360px,#bc0652 368px,#bf064e 376px,#c1054b 384px)"></i><i style="top:598px;background:linear-gradient(90deg,#136fc0 8px,#146dbe 16px,#166bbc 24px,#1869ba 32px,#1b67b8 40px,#1d64b6 48px,#2062b4 56px,#235fb1 64px,#265daf 72px,#2a5aad 80px,#2e57aa 88px,#3254a8 96px,#3651a6 104px,#394da4 112px,#3e4aa1 120px,#43469f 128px,#48439d 136px,#4e3f9b 144px,#533c99 152px,#593997 160px,#5d3696 168px,#623394 176px,#673093 184px,#6c2e92 192px,#712b90 200px,#76288f 208px,#7b268d 216px,#80238c 224px,#85218a 232px,#891e88 240px,#8d1c86 248px,#911983 256px,#951780 264px,#99157e 272px,#9c127a 280px,#a01077 288px,#a30f74 296px,#a60d70 304px,#a90c6c 312px,#ac0a69 320px,#af0965 328px,#b20861 336px,#b4085d 344px,#b70759 352px,#b90656 360px,#bc0652 368px,#be054f 376px,#c0054b 384px)"></i><i style="top:601px;background:linear-gradient(90deg,#136ec0 8px,#156dbe 16px,#176bbc 24px,#1969ba 32px,#1b66b8 40px,#1e64b6 48px,#2161b4 56px,#245fb2 64px,#275caf 72px,#2b5aad 80px,#2e57ab 88px,#3254a9 96px,#3651a7 104px,#3a4da4 112px,#3e4aa2 120px,#43469f 128px,#49429d 136px,#4e3f9b 144px,#533c99 152px,#583997 160px,#5d3696 168px,#623395 176px,#673093 184px,#6c2d92 192px,#712b90 200px,#76288f 208px,#7b268d 216px,#80238c 224px,#84208a 232px,#881e88 240px,#8d1b86 248px,#911983 256px,#941780 264px,#98147e 272px,#9c127a 280px,#9f1077 288px,#a20f74 296px,#a50d70 304px,#a80c6d 312px,#ab0a69 320px,#ae0965 328px,#b10861 336px,#b4075e 344px,#b6075a 352px,#b90656 360px,#bb0653 368px,#bd054f 376px,#bf054c 384px)"></i><i style="top:604px;background:linear-gradient(90deg,#146ec0 8px,#156cbe 16px,#176abc 24px,#1a68ba 32px,#1c66b8 40px,#1f63b6 48px,#2261b4 56px,#255fb2 64px,#285cb0 72px,#2c59ad 80px,#2f57ab 88px,#3354a9 96px,#3751a7 104px,#3b4da5 112px,#3f49a2 120px,#4446a0 128px,#49429e 136px,#4e3f9b 144px,#533c9a 152px,#583998 160px,#5d3696 168px,#623395 176px,#673093 184px,#6c2d92 192px,#712b90 200px,#76288f 208px,#7a258d 216px,#7f238c 224px,#83208a 232px,#881e88 240px,#8c1b86 248px,#901983 256px,#941780 264px,#97147e 272px,#9b127a 280px,#9e1077 288px,#a10f74 296px,#a50d70 304px,#a80c6d 312px,#ab0a69 320px,#ad0965 328px,#b00862 336px,#b3075e 344px,#b5075a 352px,#b80657 360px,#ba0553 368px,#bd054f 376px,#bf044c 384px)"></i><i style="top:607px;background:linear-gradient(90deg,#146dc0 8px,#166cbf 16px,#186abd 24px,#1a68bb 32px,#1d65b8 40px,#1f63b6 48px,#2261b4 56px,#255eb2 64px,#295cb0 72px,#2c59ae 80px,#3056ac 88px,#3454aa 96px,#3850a8 104px,#3c4da5 112px,#4049a3 120px,#4446a0 128px,#49429e 136px,#4e3f9c 144px,#533c9a 152px,#583898 160px,#5d3696 168px,#623395 176px,#673093 184px,#6c2d92 192px,#702a91 200px,#75288f 208px,#7a258d 216px,#7e238c 224px,#83208a 232px,#871e88 240px,#8b1b85 248px,#8f1983 256px,#931780 264px,#97147e 272px,#9a127a 280px,#9d1077 288px,#a10f74 296px,#a40d70 304px,#a70b6d 312px,#aa0a69 320px,#ad0966 328px,#af0862 336px,#b2075e 344px,#b5065b 352px,#b70657 360px,#ba0553 368px,#bc0450 376px,#be044d 384px)"></i><i style="top:610px;background:linear-gradient(90deg,#156dc0 8px,#166cbf 16px,#1869bd 24px,#1b67bb 32px,#1d65b9 40px,#2063b6 48px,#2360b4 56px,#265eb2 64px,#295bb0 72px,#2d59ae 80px,#3156ac 88px,#3553aa 96px,#3950a8 104px,#3d4da6 112px,#4149a3 120px,#4546a1 128px,#4a429e 136px,#4e3f9c 144px,#533b9a 152px,#583898 160px,#5d3597 168px,#623295 176px,#673094 184px,#6b2d92 192px,#702a91 200px,#75288f 208px,#79258d 216px,#7e228c 224px,#82208a 232px,#861d88 240px,#8b1b85 248px,#8e1983 256px,#921680 264px,#96147e 272px,#99127b 280px,#9d1077 288px,#a00e74 296px,#a30d71 304px,#a60b6d 312px,#a90a69 320px,#ac0966 328px,#af0862 336px,#b1075f 344px,#b4065b 352px,#b70557 360px,#b90554 368px,#bb0450 376px,#bd044d 384px)"></i><i style="top:613px;background:linear-gradient(90deg,#156cc0 8px,#176bbf 16px,#1969bd 24px,#1b67bb 32px,#1e65b9 40px,#2162b7 48px,#2460b5 56px,#275db2 64px,#2a5bb0 72px,#2e58ae 80px,#3256ac 88px,#3653aa 96px,#3a50a8 104px,#3d4da6 112px,#4149a4 120px,#4546a1 128px,#4a429f 136px,#4f3f9d 144px,#533b9b 152px,#583899 160px,#5d3597 168px,#623295 176px,#663094 184px,#6b2d92 192px,#702a91 200px,#74278f 208px,#79258d 216px,#7d228c 224px,#82208a 232px,#861d88 240px,#8a1b85 248px,#8e1983 256px,#921680 264px,#95147e 272px,#99127b 280px,#9c1077 288px,#9f0e74 296px,#a20d71 304px,#a50b6d 312px,#a80a6a 320px,#ab0966 328px,#ae0863 336px,#b1075f 344px,#b3065b 352px,#b60558 360px,#b80454 368px,#bb0451 376px,#bd034d 384px)"></i><i style="top:616px;background:linear-gradient(90deg,#166cc0 8px,#176bbf 16px,#1969bd 24px,#1c66bb 32px,#1e64b9 40px,#2162b7 48px,#2460b5 56px,#275db3 64px,#2b5bb1 72px,#2f58af 80px,#3256ad 88px,#3653ab 96px,#3a50a9 104px,#3e4da6 112px,#4249a4 120px,#4645a2 128px,#4a429f 136px,#4f3f9d 144px,#543b9b 152px,#583899 160px,#5d3597 168px,#623296 176px,#662f94 184px,#6b2d92 192px,#6f2a91 200px,#74278f 208px,#79258e 216px,#7d228c 224px,#81208a 232px,#851d88 240px,#891b85 248px,#8d1883 256px,#911680 264px,#95147e 272px,#98127b 280px,#9b1077 288px,#9f0e74 296px,#a20d71 304px,#a50b6d 312px,#a80a6a 320px,#ab0966 328px,#ad0863 336px,#b0075f 344px,#b3065c 352px,#b50558 360px,#b80455 368px,#ba0451 376px,#bc034e 384px)"></i><i style="top:619px;background:linear-gradient(90deg,#166cc0 8px,#186abf 16px,#1a68bd 24px,#1c66bb 32px,#1f64b9 40px,#2261b7 48px,#255fb5 56px,#285db3 64px,#2b5ab1 72px,#2f58af 80px,#3355ad 88px,#3753ab 96px,#3b50a9 104px,#3f4ca7 112px,#4249a4 120px,#4645a2 128px,#4b42a0 136px,#4f3e9d 144px,#543b9b 152px,#583899 160px,#5d3598 168px,#623296 176px,#662f94 184px,#6b2c93 192px,#6f2a91 200px,#74278f 208px,#78258e 216px,#7c228c 224px,#81208a 232px,#851d88 240px,#891b85 248px,#8d1883 256px,#901680 264px,#94147e 272px,#97127b 280px,#9b1078 288px,#9e0e74 296px,#a10d71 304px,#a40b6e 312px,#a70a6a 320px,#aa0867 328px,#ad0763 336px,#af0660 344px,#b2055c 352px,#b50558 360px,#b70455 368px,#b90352 376px,#bc034e 384px)"></i><i style="top:622px;background:linear-gradient(90deg,#176bc0 8px,#186abf 16px,#1a68bd 24px,#1d66bb 32px,#1f63b9 40px,#2261b7 48px,#255fb5 56px,#295db3 64px,#2c5ab1 72px,#3058af 80px,#3455ad 88px,#3852ab 96px,#3b4fa9 104px,#3f4ca7 112px,#4349a5 120px,#4745a2 128px,#4b42a0 136px,#4f3e9e 144px,#543b9c 152px,#58389a 160px,#5d3598 168px,#613296 176px,#662f94 184px,#6a2c93 192px,#6f2a91 200px,#73278f 208px,#78248e 216px,#7c228c 224px,#801f8a 232px,#841d88 240px,#881b85 248px,#8c1883 256px,#901680 264px,#93147e 272px,#97127b 280px,#9a1078 288px,#9d0e74 296px,#a10d71 304px,#a40b6e 312px,#a70a6a 320px,#a90867 328px,#ac0763 336px,#af0660 344px,#b2055c 352px,#b40459 360px,#b60455 368px,#b90352 376px,#bb024f 384px)"></i><i style="top:625px;background:linear-gradient(90deg,#176bc0 8px,#186abf 16px,#1a68bd 24px,#1d65bb 32px,#2063b9 40px,#2261b7 48px,#265fb5 56px,#295cb3 64px,#2c5ab1 72px,#3058af 80px,#3455ae 88px,#3852ac 96px,#3c4fa9 104px,#3f4ca7 112px,#4349a5 120px,#4745a2 128px,#4b42a0 136px,#4f3e9e 144px,#543b9c 152px,#58389a 160px,#5d3598 168px,#613296 176px,#662f94 184px,#6a2c93 192px,#6f2a91 200px,#73278f 208px,#78248e 216px,#7c228c 224px,#801f8a 232px,#841d88 240px,#881b85 248px,#8c1883 256px,#901680 264px,#93147e 272px,#97127b 280px,#9a1078 288px,#9d0e74 296px,#a00c71 304px,#a30b6e 312px,#a60a6a 320px,#a90867 328px,#ac0763 336px,#af0660 344px,#b1055c 352px,#b40459 360px,#b60455 368px,#b90352 376px,#bb024f 384px)"></i></div></foreignObject></g><path d="M1040.8,627.9 L1040.6,628.0 L1040.5,628.0 L1040.2,628.1 L1040.0,628.1 L1039.8,628.1 L1039.6,628.0 L1039.4,627.9 L1039.2,627.7 L1039.0,627.5 L1038.9,627.3 L1038.7,627.2 L1038.6,627.0 L1038.5,626.9 L1038.3,626.7 L1038.2,626.5 L1038.0,626.3 L1037.8,626.1 L1037.6,625.8 L1037.4,625.6 L1037.2,625.3 L1036.9,625.0 L1036.7,624.7 L1036.5,624.3 L1036.2,624.0 L1035.9,623.6 L1035.6,623.2 L1035.3,622.8 L1035.0,622.4 L1034.6,622.0 L1034.3,621.5 L1033.8,621.0 L1033.4,620.4 L1033.0,619.9 L1032.5,619.3 L1032.0,618.6 L1031.5,618.0 L1030.9,617.3 L1030.4,616.6 L1029.8,615.8 L1029.2,614.9 L1028.5,614.1 L1027.9,613.1 L1027.2,612.1 L1026.4,611.0 L1025.7,609.8 L1024.9,608.6 L1024.1,607.3 L1023.2,605.8 L1022.3,604.2 L1021.4,602.3 L1020.4,600.2 L1019.3,597.9 L1018.1,595.3 L1016.9,592.4 L1015.7,589.2 L1014.3,585.7 L1012.9,581.9 L1011.5,577.7 L1010.0,573.1 L1008.4,567.9 L1006.7,562.3 L1004.9,556.1 L1003.1,549.5 L1001.2,542.2 L999.2,534.3 L997.1,525.6 L994.8,516.4 L992.5,506.5 L990.2,495.9 L987.8,484.4 L985.5,472.1 L983.1,458.9 L980.8,445.0 L978.4,430.5 L976.1,415.2 L973.8,399.1 L971.5,382.2 L969.2,364.7 L967.1,346.8 L965.1,328.9 L963.3,310.7 L961.5,292.1 L959.9,273.4 L958.6,254.8 L957.4,236.7 L956.5,218.9 L955.8,201.3 L955.3,184.0 L955.1,167.3 L955.3,151.3 L955.7,135.9 L956.4,121.0 L957.4,106.8 L958.7,93.5 L960.3,81.3 L962.2,70.2 L964.5,60.0 L967.1,50.8 L969.9,42.8 L972.8,36.0 L976.0,30.6 L979.5,26.5 L983.1,23.4 L986.8,21.4 L990.6,20.0 L994.5,19.6 L998.5,20.2 L1002.5,21.6 L1006.6,23.5 L1010.7,25.6 L1014.8,27.9 L1018.9,30.7 L1023.0,33.9 L1027.0,37.2 L1031.0,40.5 L1035.0,43.8 L1038.8,47.3 L1042.7,50.9 L1046.5,54.5 L1050.2,58.3 L1054.0,62.1 L1057.7,66.1 L1061.4,70.1 L1065.0,74.2 L1068.7,78.3 L1072.3,82.6 L1076.0,86.9 L1079.6,91.3 L1083.2,95.8 L1086.9,100.3 L1090.5,104.9 L1094.1,109.6 L1097.7,114.3 L1101.3,119.0 L1104.9,123.8 L1108.4,128.6 L1112.0,133.5 L1115.6,138.4 L1119.2,143.3 L1122.8,148.3 L1126.4,153.3 L1130.0,158.3 L1133.6,163.4 L1137.2,168.4 L1140.8,173.5 L1144.4,178.6 L1148.0,183.7 L1151.5,188.9 L1155.1,194.0 L1158.7,199.1 L1162.2,204.3 L1165.8,209.4 L1169.4,214.5 L1172.9,219.6 L1176.5,224.7 L1180.0,229.8 L1183.5,234.9 L1187.0,240.0 L1190.4,245.0 L1193.9,250.0 L1197.3,255.0 L1200.7,260.0 L1204.1,264.9 L1207.5,269.8 L1210.8,274.7 L1214.1,279.5 L1217.4,284.3 L1220.7,289.0 L1223.9,293.7 L1227.1,298.3 L1230.2,302.9 L1233.3,307.4 L1236.4,311.8 L1239.4,316.2 L1242.3,320.4 L1245.2,324.7 L1248.1,328.8 L1250.9,332.9 L1253.6,336.9 L1256.3,340.8 L1258.8,344.5 L1261.3,348.1 L1263.7,351.6 L1266.1,355.0 L1268.4,358.4 L1270.6,361.6 L1272.8,364.8 L1275.0,368.0 L1277.0,371.0 L1279.0,373.8 L1280.9,376.6 L1282.8,379.3 L1284.5,381.8 L1286.2,384.2 L1287.9,386.6 L1289.4,388.9 L1290.9,391.1 L1292.4,393.2 L1293.7,395.2 L1295.1,397.1 L1296.3,398.9 L1297.5,400.7 L1298.6,402.3 L1299.7,403.9 L1300.8,405.5 L1301.8,406.9 L1302.7,408.3 L1303.6,409.6 L1304.5,410.9 L1305.4,412.1 L1306.2,413.2 L1306.9,414.3 L1307.6,415.4 L1308.3,416.4 L1309.0,417.4 L1309.7,418.4 L1310.3,419.3 L1310.9,420.2 L1311.5,421.1 L1312.1,421.9 L1312.6,422.7 L1313.2,423.5 L1313.7,424.2 L1314.1,424.9 L1314.6,425.6 L1315.0,426.2 L1315.5,426.8 L1315.9,427.4 L1316.2,427.9 L1316.6,428.4 L1316.9,428.9 L1317.3,429.4 L1317.6,429.8 L1317.8,430.2 L1318.1,430.6 L1318.4,431.0 L1318.6,431.4 L1318.8,431.7 L1319.1,432.0 L1319.3,432.3 L1319.5,432.6 L1319.6,432.8 L1319.8,433.1 L1319.9,433.3 L1320.1,433.6 L1320.3,433.8 L1320.5,434.1 L1320.7,434.5 L1320.9,434.8 L1321.1,435.0 L1321.3,435.3 L1321.4,435.5 L1321.6,435.7 L1321.7,435.9 L1321.8,436.0 L1322.0,436.3 L1322.1,436.5 L1322.3,436.7 L1322.4,436.9 L1322.5,437.0Z" fill="none" stroke="#111" stroke-width="1.6" stroke-linejoin="round"/><path d="M941.7,11.9 L941.7,631.2 L1354,631.2" fill="none" stroke="#2a1e1e" stroke-width="1.6"/><path d="M941.7,11.9 L1354.5,11.9 L1354.5,18" fill="none" stroke="#2a1e1e" stroke-width="1.4"/><line x1="1353.5" y1="18" x2="1353.5" y2="624" stroke="#2a1e1e" stroke-width="2.4"/><line x1="926" y1="631" x2="941.7" y2="631" stroke="#2a1e1e" stroke-width="1.7"/><text x="915.8" y="638.89" font-size="30" font-weight="bold" fill="#231f20" text-anchor="end" stroke="#231f20" stroke-width="0.35">0.0</text><line x1="926" y1="560.3" x2="941.7" y2="560.3" stroke="#2a1e1e" stroke-width="1.7"/><line x1="1345.7" y1="558.8" x2="1353" y2="558.8" stroke="#2a1e1e" stroke-width="1.7"/><text x="899.12" y="565.36" font-size="30" font-weight="bold" fill="#231f20" text-anchor="end" stroke="#231f20" stroke-width="0.35">0.</text><path d="M906.65,544.06 L910.4,544.06 L910.4,565.36 L906.65,565.36 L906.65,551.41 L901.46,551.41 L901.46,548.56 C904.16,548.56 906.05,546.76 906.65,544.06Z" fill="#231f20"/><line x1="926" y1="485.3" x2="941.7" y2="485.3" stroke="#2a1e1e" stroke-width="1.7"/><line x1="1345.7" y1="484.7" x2="1353" y2="484.7" stroke="#2a1e1e" stroke-width="1.7"/><text x="915.8" y="491.83000000000004" font-size="30" font-weight="bold" fill="#231f20" text-anchor="end" stroke="#231f20" stroke-width="0.35">0.2</text><line x1="926" y1="412" x2="941.7" y2="412" stroke="#2a1e1e" stroke-width="1.7"/><line x1="1345.7" y1="412.3" x2="1353" y2="412.3" stroke="#2a1e1e" stroke-width="1.7"/><text x="915.8" y="418.3" font-size="30" font-weight="bold" fill="#231f20" text-anchor="end" stroke="#231f20" stroke-width="0.35">0.3</text><line x1="926" y1="336.45" x2="941.7" y2="336.45" stroke="#2a1e1e" stroke-width="1.7"/><line x1="1345.7" y1="338.3" x2="1353" y2="338.3" stroke="#2a1e1e" stroke-width="1.7"/><text x="915.8" y="344.77000000000004" font-size="30" font-weight="bold" fill="#231f20" text-anchor="end" stroke="#231f20" stroke-width="0.35">0.4</text><line x1="926" y1="263.98" x2="941.7" y2="263.98" stroke="#2a1e1e" stroke-width="1.7"/><line x1="1345.7" y1="265.9" x2="1353" y2="265.9" stroke="#2a1e1e" stroke-width="1.7"/><text x="915.8" y="271.24" font-size="30" font-weight="bold" fill="#231f20" text-anchor="end" stroke="#231f20" stroke-width="0.35">0.5</text><line x1="926" y1="189.75" x2="941.7" y2="189.75" stroke="#2a1e1e" stroke-width="1.7"/><line x1="1345.7" y1="192.4" x2="1353" y2="192.4" stroke="#2a1e1e" stroke-width="1.7"/><text x="915.8" y="197.71" font-size="30" font-weight="bold" fill="#231f20" text-anchor="end" stroke="#231f20" stroke-width="0.35">0.6</text><line x1="926" y1="115.94" x2="941.7" y2="115.94" stroke="#2a1e1e" stroke-width="1.7"/><line x1="1345.7" y1="119" x2="1353" y2="119" stroke="#2a1e1e" stroke-width="1.7"/><text x="915.8" y="124.17999999999999" font-size="30" font-weight="bold" fill="#231f20" text-anchor="end" stroke="#231f20" stroke-width="0.35">0.7</text><line x1="926" y1="41.89" x2="941.7" y2="41.89" stroke="#2a1e1e" stroke-width="1.7"/><line x1="1345.7" y1="45.5" x2="1353" y2="45.5" stroke="#2a1e1e" stroke-width="1.7"/><text x="915.8" y="50.650000000000006" font-size="30" font-weight="bold" fill="#231f20" text-anchor="end" stroke="#231f20" stroke-width="0.35">0.8</text><line x1="941.7" y1="631.2" x2="941.7" y2="642.4" stroke="#2a1e1e" stroke-width="1.6"/><text x="942.7" y="675" font-size="30" font-weight="bold" fill="#231f20" text-anchor="middle" stroke="#231f20" stroke-width="0.35">0.0</text><line x1="1054.4" y1="631.2" x2="1054.4" y2="642.4" stroke="#2a1e1e" stroke-width="1.6"/><text x="1055.5" y="675" font-size="30" font-weight="bold" fill="#231f20" text-anchor="middle" stroke="#231f20" stroke-width="0.35">0.2</text><line x1="1157.1" y1="631.2" x2="1157.1" y2="642.4" stroke="#2a1e1e" stroke-width="1.6"/><text x="1156.8" y="675" font-size="30" font-weight="bold" fill="#231f20" text-anchor="middle" stroke="#231f20" stroke-width="0.35">0.4</text><line x1="1260.7" y1="631.2" x2="1260.7" y2="642.4" stroke="#2a1e1e" stroke-width="1.6"/><text x="1261.2" y="675" font-size="30" font-weight="bold" fill="#231f20" text-anchor="middle" stroke="#231f20" stroke-width="0.35">0.6</text><line x1="1354.1" y1="631.2" x2="1354.1" y2="642.4" stroke="#2a1e1e" stroke-width="1.6"/><text x="1353.4" y="675" font-size="30" font-weight="bold" fill="#231f20" text-anchor="middle" stroke="#231f20" stroke-width="0.35">0.8</text><text x="1132.0" y="706.9" font-size="29.5" font-weight="bold" fill="#231f20" text-anchor="start" font-style="italic" stroke="#231f20" stroke-width="0.35">x</text><text transform="translate(855.0,335.0) rotate(-90)" font-size="29.5" font-weight="bold" font-style="italic" fill="#231f20" stroke="#231f20" stroke-width="0.35" text-anchor="start">y</text><circle cx="1055" cy="624.3" r="0.7" fill="#444"/><circle cx="1154" cy="624.3" r="0.7" fill="#444"/><circle cx="1253.4" cy="624.3" r="0.7" fill="#444"/><path d="M1059.2,107.6 L1288.3,397.6 L1024.3,574.3Z" fill="none" stroke="#fff" stroke-width="1.8" stroke-linejoin="miter"/><path d="M1039.3,49.7 L1304.9,416.5 L1019.8,596.8Z" fill="none" stroke="#1f1a1b" stroke-width="3.9" stroke-linejoin="round"/><circle cx="1039.9" cy="49.7" r="6.0" fill="#1f1a1b"/><circle cx="1018.1" cy="597.2" r="6.0" fill="#1f1a1b"/><circle cx="1304.9" cy="416.5" r="6.0" fill="#1f1a1b"/><text x="1123.5" y="64.7" font-size="23.6" font-weight="bold" fill="#231f20" text-anchor="start" stroke="#231f20" stroke-width="0.35">REC.2020 standard</text><line x1="1115" y1="61.8" x2="1052" y2="76.4" stroke="#1f1a1b" stroke-width="1.1"/><path d="M1046.9,77.8 L1054.84,72.24 L1053.52,76.24 L1056.48,79.25Z" fill="#1f1a1b"/><text x="1075.8" y="375.6" font-size="24.9" font-weight="bold" fill="#ffffff" text-anchor="start" stroke="#ffffff" stroke-width="0.35">NTSC standard</text><line x1="1073.7" y1="355.8" x2="1048" y2="337" stroke="#fff" stroke-width="1.1"/><path d="M1043.1,333.1 L1052.47,335.57 L1048.56,337.15 L1048.18,341.35Z" fill="#fff"/></svg></body></html>
